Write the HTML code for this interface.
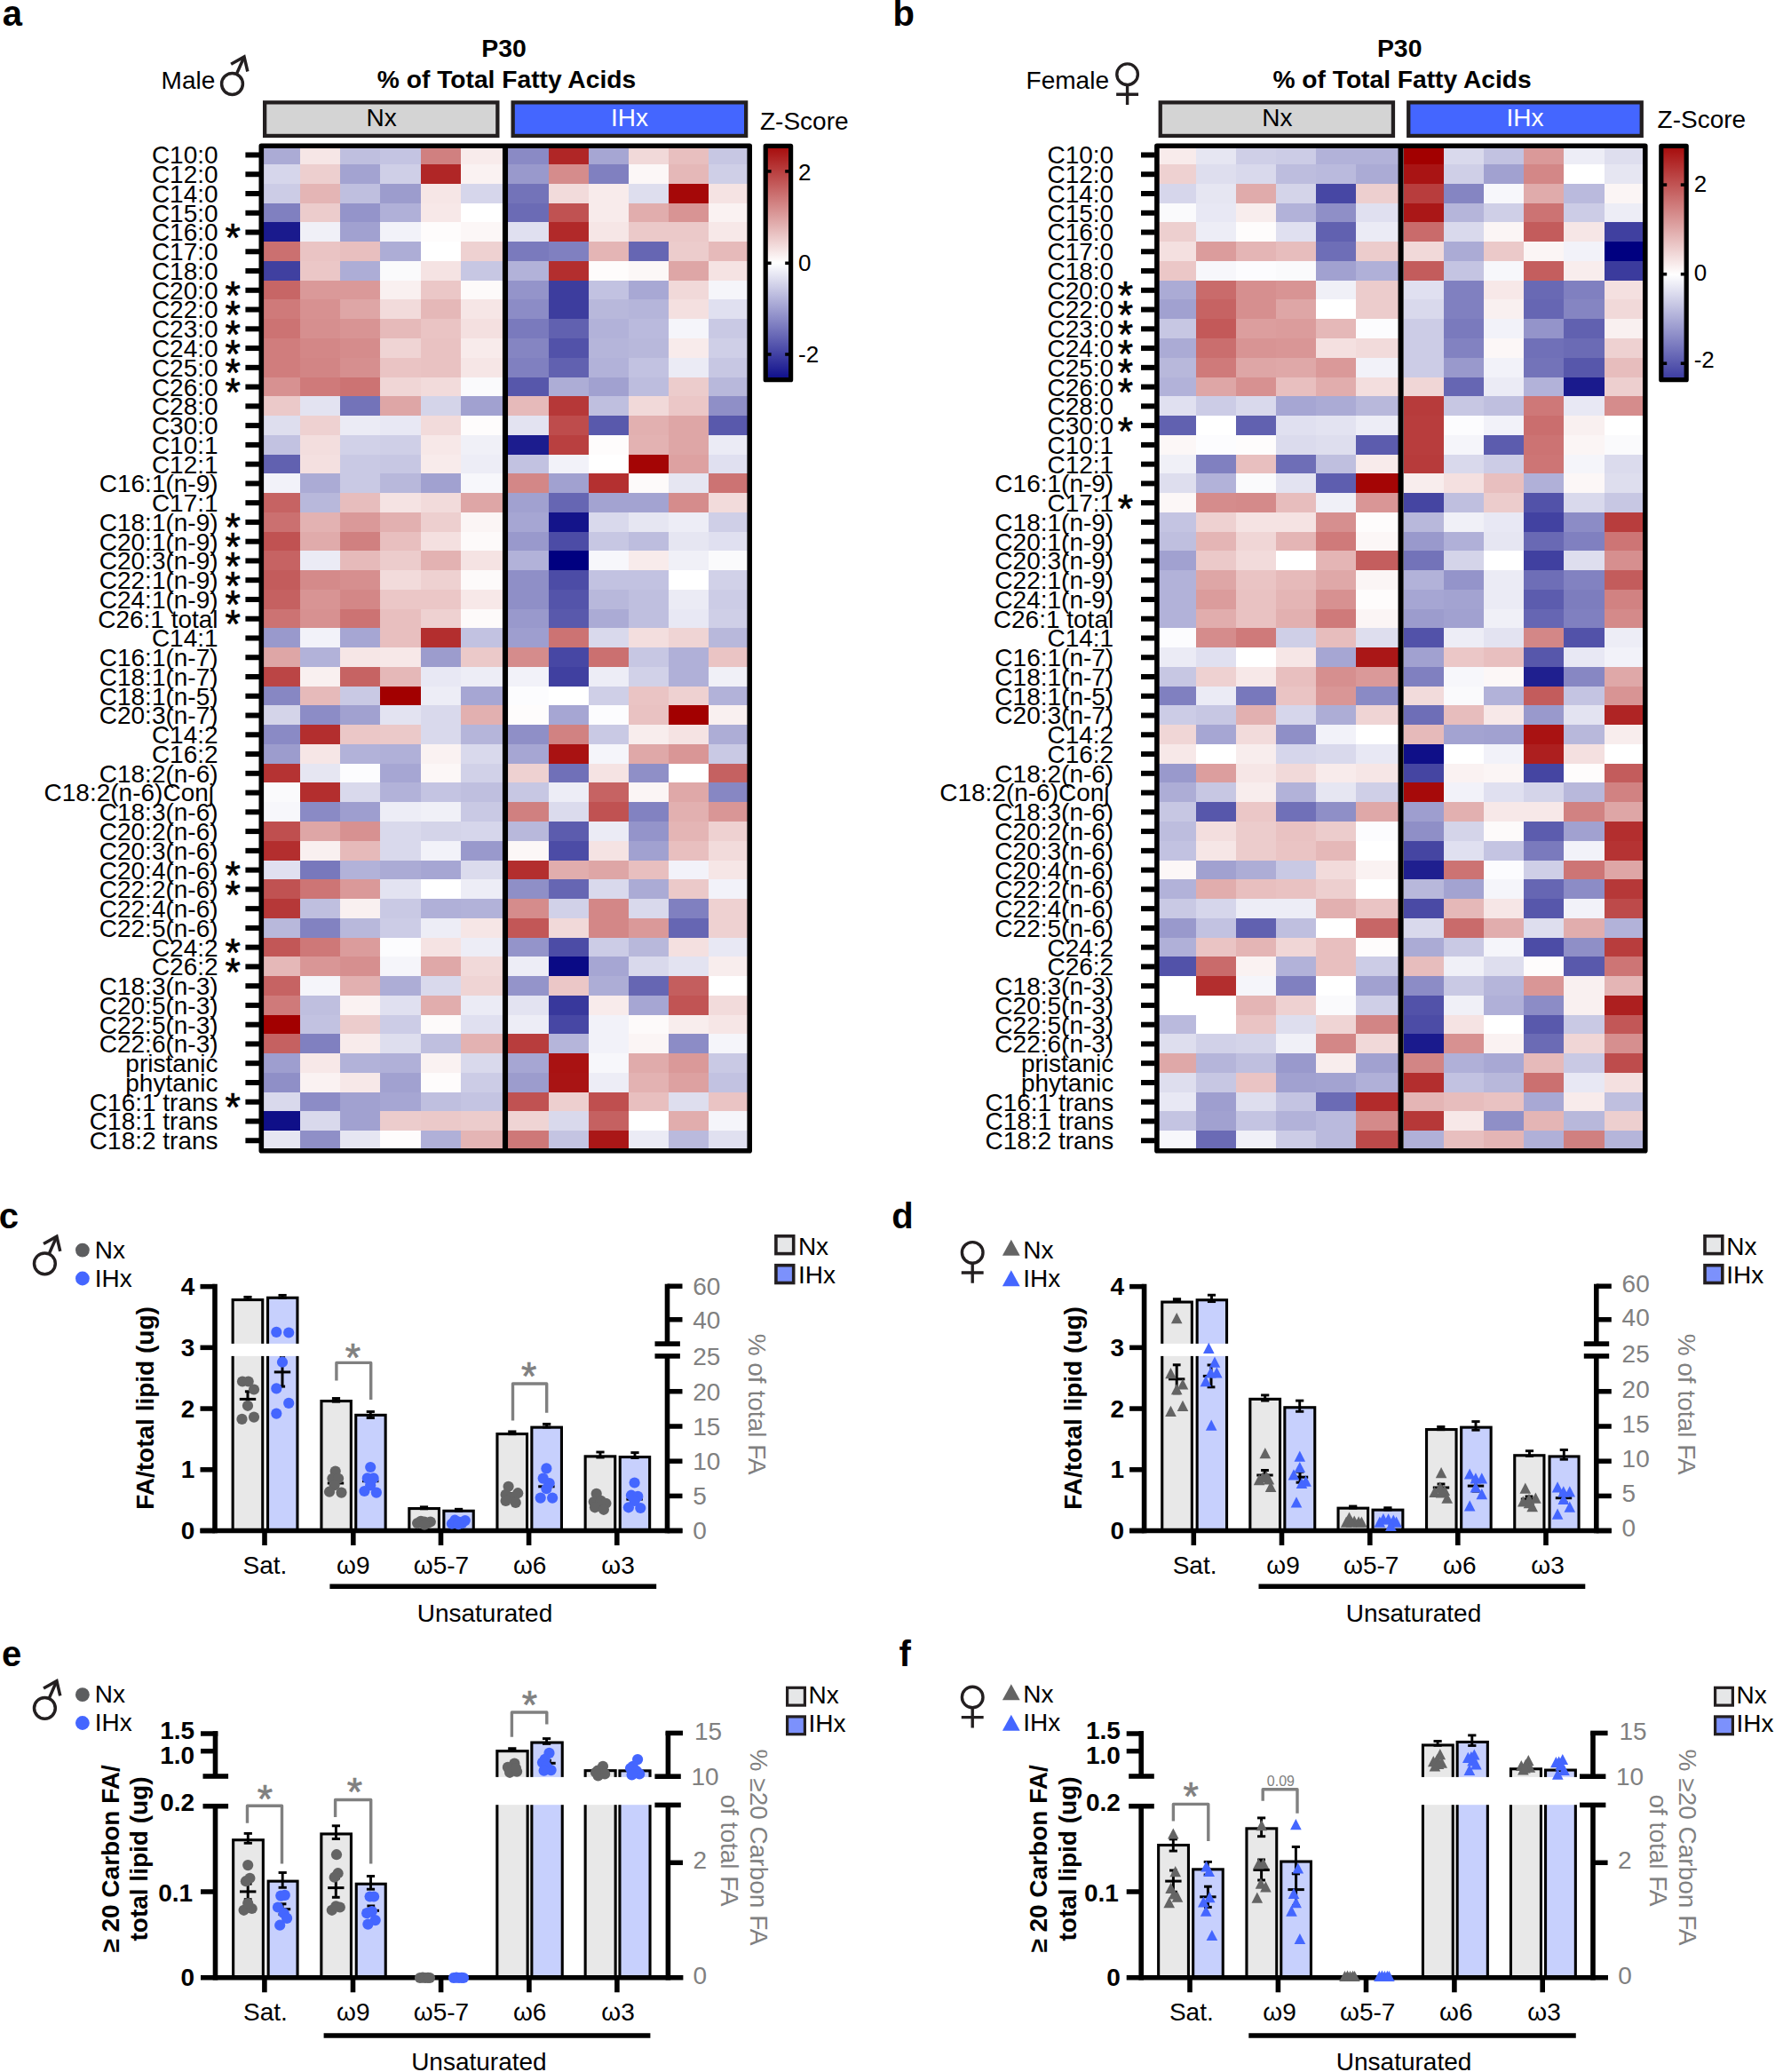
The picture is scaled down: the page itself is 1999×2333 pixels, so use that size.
<!DOCTYPE html><html><head><meta charset="utf-8"><title>figure</title><style>html,body{margin:0;padding:0;background:#fff}svg{display:block}</style></head><body>
<svg width="1999" height="2333" viewBox="0 0 1999 2333" font-family="Liberation Sans, sans-serif">
<rect x="0" y="0" width="1999" height="2333" fill="#fff"/>
<g shape-rendering="crispEdges">
<rect x="292.8" y="163.4" width="45.7" height="22.26" fill="#ababd5"/>
<rect x="338" y="163.4" width="45.7" height="22.26" fill="#f6e6e6"/>
<rect x="383.2" y="163.4" width="45.7" height="22.26" fill="#bfbfdf"/>
<rect x="428.4" y="163.4" width="45.7" height="22.26" fill="#c4c4e2"/>
<rect x="473.6" y="163.4" width="45.7" height="22.26" fill="#d08080"/>
<rect x="518.8" y="163.4" width="48.2" height="22.26" fill="#f8ebeb"/>
<rect x="572.4" y="163.4" width="45.6" height="22.26" fill="#8a8ac5"/>
<rect x="617.5" y="163.4" width="45.6" height="22.26" fill="#b02626"/>
<rect x="662.6" y="163.4" width="45.6" height="22.26" fill="#a6a6d3"/>
<rect x="707.7" y="163.4" width="45.6" height="22.26" fill="#f1d9d9"/>
<rect x="752.8" y="163.4" width="45.6" height="22.26" fill="#e8bfbf"/>
<rect x="797.9" y="163.4" width="45.6" height="22.26" fill="#c7c7e3"/>
<rect x="292.8" y="185.16" width="45.7" height="22.26" fill="#d6d6eb"/>
<rect x="338" y="185.16" width="45.7" height="22.26" fill="#edcfcf"/>
<rect x="383.2" y="185.16" width="45.7" height="22.26" fill="#a3a3d1"/>
<rect x="428.4" y="185.16" width="45.7" height="22.26" fill="#cfcfe7"/>
<rect x="473.6" y="185.16" width="45.7" height="22.26" fill="#b02626"/>
<rect x="518.8" y="185.16" width="48.2" height="22.26" fill="#faf2f2"/>
<rect x="572.4" y="185.16" width="45.6" height="22.26" fill="#9999cc"/>
<rect x="617.5" y="185.16" width="45.6" height="22.26" fill="#d58c8c"/>
<rect x="662.6" y="185.16" width="45.6" height="22.26" fill="#8080c0"/>
<rect x="707.7" y="185.16" width="45.6" height="22.26" fill="#fcf7f7"/>
<rect x="752.8" y="185.16" width="45.6" height="22.26" fill="#e5b8b8"/>
<rect x="797.9" y="185.16" width="45.6" height="22.26" fill="#cfcfe7"/>
<rect x="292.8" y="206.92" width="45.7" height="22.26" fill="#cccce6"/>
<rect x="338" y="206.92" width="45.7" height="22.26" fill="#e4b5b5"/>
<rect x="383.2" y="206.92" width="45.7" height="22.26" fill="#bfbfdf"/>
<rect x="428.4" y="206.92" width="45.7" height="22.26" fill="#9c9ccd"/>
<rect x="473.6" y="206.92" width="45.7" height="22.26" fill="#f6e6e6"/>
<rect x="518.8" y="206.92" width="48.2" height="22.26" fill="#d6d6eb"/>
<rect x="572.4" y="206.92" width="45.6" height="22.26" fill="#7373b9"/>
<rect x="617.5" y="206.92" width="45.6" height="22.26" fill="#f2dbdb"/>
<rect x="662.6" y="206.92" width="45.6" height="22.26" fill="#f8ebeb"/>
<rect x="707.7" y="206.92" width="45.6" height="22.26" fill="#dedeee"/>
<rect x="752.8" y="206.92" width="45.6" height="22.26" fill="#a50808"/>
<rect x="797.9" y="206.92" width="45.6" height="22.26" fill="#f5e3e3"/>
<rect x="292.8" y="228.68" width="45.7" height="22.26" fill="#8080c0"/>
<rect x="338" y="228.68" width="45.7" height="22.26" fill="#eccccc"/>
<rect x="383.2" y="228.68" width="45.7" height="22.26" fill="#9494ca"/>
<rect x="428.4" y="228.68" width="45.7" height="22.26" fill="#b0b0d8"/>
<rect x="473.6" y="228.68" width="45.7" height="22.26" fill="#f7e8e8"/>
<rect x="518.8" y="228.68" width="48.2" height="22.26" fill="#ffffff"/>
<rect x="572.4" y="228.68" width="45.6" height="22.26" fill="#6b6bb5"/>
<rect x="617.5" y="228.68" width="45.6" height="22.26" fill="#c05252"/>
<rect x="662.6" y="228.68" width="45.6" height="22.26" fill="#f8ebeb"/>
<rect x="707.7" y="228.68" width="45.6" height="22.26" fill="#e1adad"/>
<rect x="752.8" y="228.68" width="45.6" height="22.26" fill="#d89494"/>
<rect x="797.9" y="228.68" width="45.6" height="22.26" fill="#faf2f2"/>
<rect x="292.8" y="250.44" width="45.7" height="22.26" fill="#1a1a8d"/>
<rect x="338" y="250.44" width="45.7" height="22.26" fill="#f0f0f7"/>
<rect x="383.2" y="250.44" width="45.7" height="22.26" fill="#a1a1d0"/>
<rect x="428.4" y="250.44" width="45.7" height="22.26" fill="#f2f2f9"/>
<rect x="473.6" y="250.44" width="45.7" height="22.26" fill="#fefcfc"/>
<rect x="518.8" y="250.44" width="48.2" height="22.26" fill="#fcf7f7"/>
<rect x="572.4" y="250.44" width="45.6" height="22.26" fill="#e0e0f0"/>
<rect x="617.5" y="250.44" width="45.6" height="22.26" fill="#b12929"/>
<rect x="662.6" y="250.44" width="45.6" height="22.26" fill="#f6e6e6"/>
<rect x="707.7" y="250.44" width="45.6" height="22.26" fill="#ebc9c9"/>
<rect x="752.8" y="250.44" width="45.6" height="22.26" fill="#ebc9c9"/>
<rect x="797.9" y="250.44" width="45.6" height="22.26" fill="#f7e8e8"/>
<rect x="292.8" y="272.2" width="45.7" height="22.26" fill="#cb7070"/>
<rect x="338" y="272.2" width="45.7" height="22.26" fill="#eac4c4"/>
<rect x="383.2" y="272.2" width="45.7" height="22.26" fill="#e8bfbf"/>
<rect x="428.4" y="272.2" width="45.7" height="22.26" fill="#adadd6"/>
<rect x="473.6" y="272.2" width="45.7" height="22.26" fill="#ffffff"/>
<rect x="518.8" y="272.2" width="48.2" height="22.26" fill="#eed1d1"/>
<rect x="572.4" y="272.2" width="45.6" height="22.26" fill="#7a7abd"/>
<rect x="617.5" y="272.2" width="45.6" height="22.26" fill="#8080c0"/>
<rect x="662.6" y="272.2" width="45.6" height="22.26" fill="#e4b5b5"/>
<rect x="707.7" y="272.2" width="45.6" height="22.26" fill="#6666b3"/>
<rect x="752.8" y="272.2" width="45.6" height="22.26" fill="#eccccc"/>
<rect x="797.9" y="272.2" width="45.6" height="22.26" fill="#e6baba"/>
<rect x="292.8" y="293.96" width="45.7" height="22.26" fill="#4040a0"/>
<rect x="338" y="293.96" width="45.7" height="22.26" fill="#ebc7c7"/>
<rect x="383.2" y="293.96" width="45.7" height="22.26" fill="#adadd6"/>
<rect x="428.4" y="293.96" width="45.7" height="22.26" fill="#fafafc"/>
<rect x="473.6" y="293.96" width="45.7" height="22.26" fill="#f5e3e3"/>
<rect x="518.8" y="293.96" width="48.2" height="22.26" fill="#c7c7e3"/>
<rect x="572.4" y="293.96" width="45.6" height="22.26" fill="#b2b2d9"/>
<rect x="617.5" y="293.96" width="45.6" height="22.26" fill="#b32e2e"/>
<rect x="662.6" y="293.96" width="45.6" height="22.26" fill="#fefcfc"/>
<rect x="707.7" y="293.96" width="45.6" height="22.26" fill="#fcf7f7"/>
<rect x="752.8" y="293.96" width="45.6" height="22.26" fill="#dea6a6"/>
<rect x="797.9" y="293.96" width="45.6" height="22.26" fill="#f5e3e3"/>
<rect x="292.8" y="315.72" width="45.7" height="22.26" fill="#c76666"/>
<rect x="338" y="315.72" width="45.7" height="22.26" fill="#da9999"/>
<rect x="383.2" y="315.72" width="45.7" height="22.26" fill="#da9999"/>
<rect x="428.4" y="315.72" width="45.7" height="22.26" fill="#f9f0f0"/>
<rect x="473.6" y="315.72" width="45.7" height="22.26" fill="#ebc7c7"/>
<rect x="518.8" y="315.72" width="48.2" height="22.26" fill="#fdfafa"/>
<rect x="572.4" y="315.72" width="45.6" height="22.26" fill="#9494ca"/>
<rect x="617.5" y="315.72" width="45.6" height="22.26" fill="#3d3d9e"/>
<rect x="662.6" y="315.72" width="45.6" height="22.26" fill="#c2c2e1"/>
<rect x="707.7" y="315.72" width="45.6" height="22.26" fill="#a8a8d4"/>
<rect x="752.8" y="315.72" width="45.6" height="22.26" fill="#f1d9d9"/>
<rect x="797.9" y="315.72" width="45.6" height="22.26" fill="#f5f5fa"/>
<rect x="292.8" y="337.48" width="45.7" height="22.26" fill="#cf7a7a"/>
<rect x="338" y="337.48" width="45.7" height="22.26" fill="#d79191"/>
<rect x="383.2" y="337.48" width="45.7" height="22.26" fill="#dea6a6"/>
<rect x="428.4" y="337.48" width="45.7" height="22.26" fill="#f2dbdb"/>
<rect x="473.6" y="337.48" width="45.7" height="22.26" fill="#e5b8b8"/>
<rect x="518.8" y="337.48" width="48.2" height="22.26" fill="#f6e6e6"/>
<rect x="572.4" y="337.48" width="45.6" height="22.26" fill="#8c8cc6"/>
<rect x="617.5" y="337.48" width="45.6" height="22.26" fill="#3d3d9e"/>
<rect x="662.6" y="337.48" width="45.6" height="22.26" fill="#b8b8db"/>
<rect x="707.7" y="337.48" width="45.6" height="22.26" fill="#b5b5da"/>
<rect x="752.8" y="337.48" width="45.6" height="22.26" fill="#f4e0e0"/>
<rect x="797.9" y="337.48" width="45.6" height="22.26" fill="#e0e0f0"/>
<rect x="292.8" y="359.24" width="45.7" height="22.26" fill="#cc7373"/>
<rect x="338" y="359.24" width="45.7" height="22.26" fill="#d68f8f"/>
<rect x="383.2" y="359.24" width="45.7" height="22.26" fill="#d89494"/>
<rect x="428.4" y="359.24" width="45.7" height="22.26" fill="#e6baba"/>
<rect x="473.6" y="359.24" width="45.7" height="22.26" fill="#eac4c4"/>
<rect x="518.8" y="359.24" width="48.2" height="22.26" fill="#f4e0e0"/>
<rect x="572.4" y="359.24" width="45.6" height="22.26" fill="#7a7abd"/>
<rect x="617.5" y="359.24" width="45.6" height="22.26" fill="#6161b0"/>
<rect x="662.6" y="359.24" width="45.6" height="22.26" fill="#b2b2d9"/>
<rect x="707.7" y="359.24" width="45.6" height="22.26" fill="#babadd"/>
<rect x="752.8" y="359.24" width="45.6" height="22.26" fill="#f5f5fa"/>
<rect x="797.9" y="359.24" width="45.6" height="22.26" fill="#c9c9e4"/>
<rect x="292.8" y="381" width="45.7" height="22.26" fill="#d07d7d"/>
<rect x="338" y="381" width="45.7" height="22.26" fill="#d38787"/>
<rect x="383.2" y="381" width="45.7" height="22.26" fill="#d58c8c"/>
<rect x="428.4" y="381" width="45.7" height="22.26" fill="#efd4d4"/>
<rect x="473.6" y="381" width="45.7" height="22.26" fill="#e9c2c2"/>
<rect x="518.8" y="381" width="48.2" height="22.26" fill="#f8ebeb"/>
<rect x="572.4" y="381" width="45.6" height="22.26" fill="#8585c2"/>
<rect x="617.5" y="381" width="45.6" height="22.26" fill="#5252a9"/>
<rect x="662.6" y="381" width="45.6" height="22.26" fill="#b5b5da"/>
<rect x="707.7" y="381" width="45.6" height="22.26" fill="#b8b8db"/>
<rect x="752.8" y="381" width="45.6" height="22.26" fill="#f8ebeb"/>
<rect x="797.9" y="381" width="45.6" height="22.26" fill="#cfcfe7"/>
<rect x="292.8" y="402.76" width="45.7" height="22.26" fill="#d07d7d"/>
<rect x="338" y="402.76" width="45.7" height="22.26" fill="#d28585"/>
<rect x="383.2" y="402.76" width="45.7" height="22.26" fill="#d68f8f"/>
<rect x="428.4" y="402.76" width="45.7" height="22.26" fill="#eac4c4"/>
<rect x="473.6" y="402.76" width="45.7" height="22.26" fill="#e9c2c2"/>
<rect x="518.8" y="402.76" width="48.2" height="22.26" fill="#f6e6e6"/>
<rect x="572.4" y="402.76" width="45.6" height="22.26" fill="#8080c0"/>
<rect x="617.5" y="402.76" width="45.6" height="22.26" fill="#6161b0"/>
<rect x="662.6" y="402.76" width="45.6" height="22.26" fill="#b2b2d9"/>
<rect x="707.7" y="402.76" width="45.6" height="22.26" fill="#c2c2e1"/>
<rect x="752.8" y="402.76" width="45.6" height="22.26" fill="#ebebf5"/>
<rect x="797.9" y="402.76" width="45.6" height="22.26" fill="#c7c7e3"/>
<rect x="292.8" y="424.52" width="45.7" height="22.26" fill="#d79191"/>
<rect x="338" y="424.52" width="45.7" height="22.26" fill="#cf7a7a"/>
<rect x="383.2" y="424.52" width="45.7" height="22.26" fill="#cc7373"/>
<rect x="428.4" y="424.52" width="45.7" height="22.26" fill="#f0d6d6"/>
<rect x="473.6" y="424.52" width="45.7" height="22.26" fill="#f2dbdb"/>
<rect x="518.8" y="424.52" width="48.2" height="22.26" fill="#fafafc"/>
<rect x="572.4" y="424.52" width="45.6" height="22.26" fill="#5757ab"/>
<rect x="617.5" y="424.52" width="45.6" height="22.26" fill="#adadd6"/>
<rect x="662.6" y="424.52" width="45.6" height="22.26" fill="#a1a1d0"/>
<rect x="707.7" y="424.52" width="45.6" height="22.26" fill="#bdbdde"/>
<rect x="752.8" y="424.52" width="45.6" height="22.26" fill="#eccccc"/>
<rect x="797.9" y="424.52" width="45.6" height="22.26" fill="#b8b8db"/>
<rect x="292.8" y="446.28" width="45.7" height="22.26" fill="#ebc9c9"/>
<rect x="338" y="446.28" width="45.7" height="22.26" fill="#e3e3f1"/>
<rect x="383.2" y="446.28" width="45.7" height="22.26" fill="#7373b9"/>
<rect x="428.4" y="446.28" width="45.7" height="22.26" fill="#dea6a6"/>
<rect x="473.6" y="446.28" width="45.7" height="22.26" fill="#d4d4e9"/>
<rect x="518.8" y="446.28" width="48.2" height="22.26" fill="#a1a1d0"/>
<rect x="572.4" y="446.28" width="45.6" height="22.26" fill="#e6baba"/>
<rect x="617.5" y="446.28" width="45.6" height="22.26" fill="#b63838"/>
<rect x="662.6" y="446.28" width="45.6" height="22.26" fill="#bfbfdf"/>
<rect x="707.7" y="446.28" width="45.6" height="22.26" fill="#f1d9d9"/>
<rect x="752.8" y="446.28" width="45.6" height="22.26" fill="#ebc7c7"/>
<rect x="797.9" y="446.28" width="45.6" height="22.26" fill="#8f8fc7"/>
<rect x="292.8" y="468.04" width="45.7" height="22.26" fill="#dedeee"/>
<rect x="338" y="468.04" width="45.7" height="22.26" fill="#eed1d1"/>
<rect x="383.2" y="468.04" width="45.7" height="22.26" fill="#ebebf5"/>
<rect x="428.4" y="468.04" width="45.7" height="22.26" fill="#e8e8f4"/>
<rect x="473.6" y="468.04" width="45.7" height="22.26" fill="#f2dbdb"/>
<rect x="518.8" y="468.04" width="48.2" height="22.26" fill="#fefcfc"/>
<rect x="572.4" y="468.04" width="45.6" height="22.26" fill="#e3e3f1"/>
<rect x="617.5" y="468.04" width="45.6" height="22.26" fill="#be4c4c"/>
<rect x="662.6" y="468.04" width="45.6" height="22.26" fill="#5959ac"/>
<rect x="707.7" y="468.04" width="45.6" height="22.26" fill="#e2b0b0"/>
<rect x="752.8" y="468.04" width="45.6" height="22.26" fill="#dea6a6"/>
<rect x="797.9" y="468.04" width="45.6" height="22.26" fill="#5959ac"/>
<rect x="292.8" y="489.8" width="45.7" height="22.26" fill="#c2c2e1"/>
<rect x="338" y="489.8" width="45.7" height="22.26" fill="#f3dede"/>
<rect x="383.2" y="489.8" width="45.7" height="22.26" fill="#d1d1e8"/>
<rect x="428.4" y="489.8" width="45.7" height="22.26" fill="#cfcfe7"/>
<rect x="473.6" y="489.8" width="45.7" height="22.26" fill="#f7e8e8"/>
<rect x="518.8" y="489.8" width="48.2" height="22.26" fill="#f0f0f7"/>
<rect x="572.4" y="489.8" width="45.6" height="22.26" fill="#1c1c8e"/>
<rect x="617.5" y="489.8" width="45.6" height="22.26" fill="#b94040"/>
<rect x="662.6" y="489.8" width="45.6" height="22.26" fill="#fefcfc"/>
<rect x="707.7" y="489.8" width="45.6" height="22.26" fill="#e3b2b2"/>
<rect x="752.8" y="489.8" width="45.6" height="22.26" fill="#dea6a6"/>
<rect x="797.9" y="489.8" width="45.6" height="22.26" fill="#ebebf5"/>
<rect x="292.8" y="511.56" width="45.7" height="22.26" fill="#6161b0"/>
<rect x="338" y="511.56" width="45.7" height="22.26" fill="#f4e0e0"/>
<rect x="383.2" y="511.56" width="45.7" height="22.26" fill="#c9c9e4"/>
<rect x="428.4" y="511.56" width="45.7" height="22.26" fill="#c7c7e3"/>
<rect x="473.6" y="511.56" width="45.7" height="22.26" fill="#f8ebeb"/>
<rect x="518.8" y="511.56" width="48.2" height="22.26" fill="#ededf6"/>
<rect x="572.4" y="511.56" width="45.6" height="22.26" fill="#c2c2e1"/>
<rect x="617.5" y="511.56" width="45.6" height="22.26" fill="#f2f2f9"/>
<rect x="662.6" y="511.56" width="45.6" height="22.26" fill="#ffffff"/>
<rect x="707.7" y="511.56" width="45.6" height="22.26" fill="#a40505"/>
<rect x="752.8" y="511.56" width="45.6" height="22.26" fill="#dda1a1"/>
<rect x="797.9" y="511.56" width="45.6" height="22.26" fill="#e0e0f0"/>
<rect x="292.8" y="533.32" width="45.7" height="22.26" fill="#f2f2f9"/>
<rect x="338" y="533.32" width="45.7" height="22.26" fill="#ababd5"/>
<rect x="383.2" y="533.32" width="45.7" height="22.26" fill="#c9c9e4"/>
<rect x="428.4" y="533.32" width="45.7" height="22.26" fill="#b8b8db"/>
<rect x="473.6" y="533.32" width="45.7" height="22.26" fill="#a1a1d0"/>
<rect x="518.8" y="533.32" width="48.2" height="22.26" fill="#f7f7fb"/>
<rect x="572.4" y="533.32" width="45.6" height="22.26" fill="#d38787"/>
<rect x="617.5" y="533.32" width="45.6" height="22.26" fill="#a1a1d0"/>
<rect x="662.6" y="533.32" width="45.6" height="22.26" fill="#b43030"/>
<rect x="707.7" y="533.32" width="45.6" height="22.26" fill="#fdfafa"/>
<rect x="752.8" y="533.32" width="45.6" height="22.26" fill="#e6e6f2"/>
<rect x="797.9" y="533.32" width="45.6" height="22.26" fill="#cc7373"/>
<rect x="292.8" y="555.08" width="45.7" height="22.26" fill="#c66363"/>
<rect x="338" y="555.08" width="45.7" height="22.26" fill="#b8b8db"/>
<rect x="383.2" y="555.08" width="45.7" height="22.26" fill="#e7bdbd"/>
<rect x="428.4" y="555.08" width="45.7" height="22.26" fill="#f5e3e3"/>
<rect x="473.6" y="555.08" width="45.7" height="22.26" fill="#f2dbdb"/>
<rect x="518.8" y="555.08" width="48.2" height="22.26" fill="#dea6a6"/>
<rect x="572.4" y="555.08" width="45.6" height="22.26" fill="#a1a1d0"/>
<rect x="617.5" y="555.08" width="45.6" height="22.26" fill="#6666b3"/>
<rect x="662.6" y="555.08" width="45.6" height="22.26" fill="#a3a3d1"/>
<rect x="707.7" y="555.08" width="45.6" height="22.26" fill="#a3a3d1"/>
<rect x="752.8" y="555.08" width="45.6" height="22.26" fill="#d58c8c"/>
<rect x="797.9" y="555.08" width="45.6" height="22.26" fill="#f2dbdb"/>
<rect x="292.8" y="576.84" width="45.7" height="22.26" fill="#cb7070"/>
<rect x="338" y="576.84" width="45.7" height="22.26" fill="#e3b2b2"/>
<rect x="383.2" y="576.84" width="45.7" height="22.26" fill="#da9999"/>
<rect x="428.4" y="576.84" width="45.7" height="22.26" fill="#e2b0b0"/>
<rect x="473.6" y="576.84" width="45.7" height="22.26" fill="#edcfcf"/>
<rect x="518.8" y="576.84" width="48.2" height="22.26" fill="#fbf5f5"/>
<rect x="572.4" y="576.84" width="45.6" height="22.26" fill="#a6a6d3"/>
<rect x="617.5" y="576.84" width="45.6" height="22.26" fill="#14148a"/>
<rect x="662.6" y="576.84" width="45.6" height="22.26" fill="#d9d9ec"/>
<rect x="707.7" y="576.84" width="45.6" height="22.26" fill="#e6e6f2"/>
<rect x="752.8" y="576.84" width="45.6" height="22.26" fill="#ededf6"/>
<rect x="797.9" y="576.84" width="45.6" height="22.26" fill="#cfcfe7"/>
<rect x="292.8" y="598.6" width="45.7" height="22.26" fill="#c05252"/>
<rect x="338" y="598.6" width="45.7" height="22.26" fill="#e0abab"/>
<rect x="383.2" y="598.6" width="45.7" height="22.26" fill="#d08080"/>
<rect x="428.4" y="598.6" width="45.7" height="22.26" fill="#e8bfbf"/>
<rect x="473.6" y="598.6" width="45.7" height="22.26" fill="#f4e0e0"/>
<rect x="518.8" y="598.6" width="48.2" height="22.26" fill="#fdfafa"/>
<rect x="572.4" y="598.6" width="45.6" height="22.26" fill="#9999cc"/>
<rect x="617.5" y="598.6" width="45.6" height="22.26" fill="#4c4ca6"/>
<rect x="662.6" y="598.6" width="45.6" height="22.26" fill="#c7c7e3"/>
<rect x="707.7" y="598.6" width="45.6" height="22.26" fill="#bdbdde"/>
<rect x="752.8" y="598.6" width="45.6" height="22.26" fill="#e6e6f2"/>
<rect x="797.9" y="598.6" width="45.6" height="22.26" fill="#e0e0f0"/>
<rect x="292.8" y="620.36" width="45.7" height="22.26" fill="#c66363"/>
<rect x="338" y="620.36" width="45.7" height="22.26" fill="#ebebf5"/>
<rect x="383.2" y="620.36" width="45.7" height="22.26" fill="#e6baba"/>
<rect x="428.4" y="620.36" width="45.7" height="22.26" fill="#eccccc"/>
<rect x="473.6" y="620.36" width="45.7" height="22.26" fill="#e3b2b2"/>
<rect x="518.8" y="620.36" width="48.2" height="22.26" fill="#f5e3e3"/>
<rect x="572.4" y="620.36" width="45.6" height="22.26" fill="#b2b2d9"/>
<rect x="617.5" y="620.36" width="45.6" height="22.26" fill="#000080"/>
<rect x="662.6" y="620.36" width="45.6" height="22.26" fill="#f7f7fb"/>
<rect x="707.7" y="620.36" width="45.6" height="22.26" fill="#f8ebeb"/>
<rect x="752.8" y="620.36" width="45.6" height="22.26" fill="#f0f0f7"/>
<rect x="797.9" y="620.36" width="45.6" height="22.26" fill="#fafafc"/>
<rect x="292.8" y="642.12" width="45.7" height="22.26" fill="#c35c5c"/>
<rect x="338" y="642.12" width="45.7" height="22.26" fill="#d48a8a"/>
<rect x="383.2" y="642.12" width="45.7" height="22.26" fill="#d68f8f"/>
<rect x="428.4" y="642.12" width="45.7" height="22.26" fill="#f2dbdb"/>
<rect x="473.6" y="642.12" width="45.7" height="22.26" fill="#eed1d1"/>
<rect x="518.8" y="642.12" width="48.2" height="22.26" fill="#fdfafa"/>
<rect x="572.4" y="642.12" width="45.6" height="22.26" fill="#8f8fc7"/>
<rect x="617.5" y="642.12" width="45.6" height="22.26" fill="#4c4ca6"/>
<rect x="662.6" y="642.12" width="45.6" height="22.26" fill="#c2c2e1"/>
<rect x="707.7" y="642.12" width="45.6" height="22.26" fill="#c2c2e1"/>
<rect x="752.8" y="642.12" width="45.6" height="22.26" fill="#ffffff"/>
<rect x="797.9" y="642.12" width="45.6" height="22.26" fill="#d1d1e8"/>
<rect x="292.8" y="663.88" width="45.7" height="22.26" fill="#c56161"/>
<rect x="338" y="663.88" width="45.7" height="22.26" fill="#d89494"/>
<rect x="383.2" y="663.88" width="45.7" height="22.26" fill="#d38787"/>
<rect x="428.4" y="663.88" width="45.7" height="22.26" fill="#ebc7c7"/>
<rect x="473.6" y="663.88" width="45.7" height="22.26" fill="#ebc7c7"/>
<rect x="518.8" y="663.88" width="48.2" height="22.26" fill="#f7e8e8"/>
<rect x="572.4" y="663.88" width="45.6" height="22.26" fill="#8f8fc7"/>
<rect x="617.5" y="663.88" width="45.6" height="22.26" fill="#5454aa"/>
<rect x="662.6" y="663.88" width="45.6" height="22.26" fill="#b8b8db"/>
<rect x="707.7" y="663.88" width="45.6" height="22.26" fill="#bfbfdf"/>
<rect x="752.8" y="663.88" width="45.6" height="22.26" fill="#ebebf5"/>
<rect x="797.9" y="663.88" width="45.6" height="22.26" fill="#cccce6"/>
<rect x="292.8" y="685.64" width="45.7" height="22.26" fill="#cc7373"/>
<rect x="338" y="685.64" width="45.7" height="22.26" fill="#d79191"/>
<rect x="383.2" y="685.64" width="45.7" height="22.26" fill="#cc7373"/>
<rect x="428.4" y="685.64" width="45.7" height="22.26" fill="#e8bfbf"/>
<rect x="473.6" y="685.64" width="45.7" height="22.26" fill="#eed1d1"/>
<rect x="518.8" y="685.64" width="48.2" height="22.26" fill="#fdfafa"/>
<rect x="572.4" y="685.64" width="45.6" height="22.26" fill="#9999cc"/>
<rect x="617.5" y="685.64" width="45.6" height="22.26" fill="#5959ac"/>
<rect x="662.6" y="685.64" width="45.6" height="22.26" fill="#ababd5"/>
<rect x="707.7" y="685.64" width="45.6" height="22.26" fill="#bfbfdf"/>
<rect x="752.8" y="685.64" width="45.6" height="22.26" fill="#e8e8f4"/>
<rect x="797.9" y="685.64" width="45.6" height="22.26" fill="#cfcfe7"/>
<rect x="292.8" y="707.4" width="45.7" height="22.26" fill="#9999cc"/>
<rect x="338" y="707.4" width="45.7" height="22.26" fill="#f2f2f9"/>
<rect x="383.2" y="707.4" width="45.7" height="22.26" fill="#a6a6d3"/>
<rect x="428.4" y="707.4" width="45.7" height="22.26" fill="#e8bfbf"/>
<rect x="473.6" y="707.4" width="45.7" height="22.26" fill="#b32e2e"/>
<rect x="518.8" y="707.4" width="48.2" height="22.26" fill="#c2c2e1"/>
<rect x="572.4" y="707.4" width="45.6" height="22.26" fill="#9e9ecf"/>
<rect x="617.5" y="707.4" width="45.6" height="22.26" fill="#cc7373"/>
<rect x="662.6" y="707.4" width="45.6" height="22.26" fill="#d9d9ec"/>
<rect x="707.7" y="707.4" width="45.6" height="22.26" fill="#f3dede"/>
<rect x="752.8" y="707.4" width="45.6" height="22.26" fill="#efd4d4"/>
<rect x="797.9" y="707.4" width="45.6" height="22.26" fill="#b8b8db"/>
<rect x="292.8" y="729.16" width="45.7" height="22.26" fill="#dea6a6"/>
<rect x="338" y="729.16" width="45.7" height="22.26" fill="#b2b2d9"/>
<rect x="383.2" y="729.16" width="45.7" height="22.26" fill="#f6e6e6"/>
<rect x="428.4" y="729.16" width="45.7" height="22.26" fill="#f7e8e8"/>
<rect x="473.6" y="729.16" width="45.7" height="22.26" fill="#9c9ccd"/>
<rect x="518.8" y="729.16" width="48.2" height="22.26" fill="#ebc9c9"/>
<rect x="572.4" y="729.16" width="45.6" height="22.26" fill="#d58c8c"/>
<rect x="617.5" y="729.16" width="45.6" height="22.26" fill="#4747a4"/>
<rect x="662.6" y="729.16" width="45.6" height="22.26" fill="#cb7070"/>
<rect x="707.7" y="729.16" width="45.6" height="22.26" fill="#c7c7e3"/>
<rect x="752.8" y="729.16" width="45.6" height="22.26" fill="#b0b0d8"/>
<rect x="797.9" y="729.16" width="45.6" height="22.26" fill="#eac4c4"/>
<rect x="292.8" y="750.92" width="45.7" height="22.26" fill="#bb4545"/>
<rect x="338" y="750.92" width="45.7" height="22.26" fill="#f9f0f0"/>
<rect x="383.2" y="750.92" width="45.7" height="22.26" fill="#c66363"/>
<rect x="428.4" y="750.92" width="45.7" height="22.26" fill="#e5b8b8"/>
<rect x="473.6" y="750.92" width="45.7" height="22.26" fill="#e8e8f4"/>
<rect x="518.8" y="750.92" width="48.2" height="22.26" fill="#ededf6"/>
<rect x="572.4" y="750.92" width="45.6" height="22.26" fill="#f2f2f9"/>
<rect x="617.5" y="750.92" width="45.6" height="22.26" fill="#4040a0"/>
<rect x="662.6" y="750.92" width="45.6" height="22.26" fill="#ededf6"/>
<rect x="707.7" y="750.92" width="45.6" height="22.26" fill="#d1d1e8"/>
<rect x="752.8" y="750.92" width="45.6" height="22.26" fill="#b0b0d8"/>
<rect x="797.9" y="750.92" width="45.6" height="22.26" fill="#f0f0f7"/>
<rect x="292.8" y="772.68" width="45.7" height="22.26" fill="#8787c3"/>
<rect x="338" y="772.68" width="45.7" height="22.26" fill="#e6baba"/>
<rect x="383.2" y="772.68" width="45.7" height="22.26" fill="#c9c9e4"/>
<rect x="428.4" y="772.68" width="45.7" height="22.26" fill="#a20000"/>
<rect x="473.6" y="772.68" width="45.7" height="22.26" fill="#ededf6"/>
<rect x="518.8" y="772.68" width="48.2" height="22.26" fill="#a6a6d3"/>
<rect x="572.4" y="772.68" width="45.6" height="22.26" fill="#fcfcfe"/>
<rect x="617.5" y="772.68" width="45.6" height="22.26" fill="#ffffff"/>
<rect x="662.6" y="772.68" width="45.6" height="22.26" fill="#cfcfe7"/>
<rect x="707.7" y="772.68" width="45.6" height="22.26" fill="#eac4c4"/>
<rect x="752.8" y="772.68" width="45.6" height="22.26" fill="#eed1d1"/>
<rect x="797.9" y="772.68" width="45.6" height="22.26" fill="#b2b2d9"/>
<rect x="292.8" y="794.44" width="45.7" height="22.26" fill="#d4d4e9"/>
<rect x="338" y="794.44" width="45.7" height="22.26" fill="#8c8cc6"/>
<rect x="383.2" y="794.44" width="45.7" height="22.26" fill="#a1a1d0"/>
<rect x="428.4" y="794.44" width="45.7" height="22.26" fill="#e3e3f1"/>
<rect x="473.6" y="794.44" width="45.7" height="22.26" fill="#d9d9ec"/>
<rect x="518.8" y="794.44" width="48.2" height="22.26" fill="#e2b0b0"/>
<rect x="572.4" y="794.44" width="45.6" height="22.26" fill="#fefcfc"/>
<rect x="617.5" y="794.44" width="45.6" height="22.26" fill="#a6a6d3"/>
<rect x="662.6" y="794.44" width="45.6" height="22.26" fill="#fcfcfe"/>
<rect x="707.7" y="794.44" width="45.6" height="22.26" fill="#e9c2c2"/>
<rect x="752.8" y="794.44" width="45.6" height="22.26" fill="#a20000"/>
<rect x="797.9" y="794.44" width="45.6" height="22.26" fill="#f9f0f0"/>
<rect x="292.8" y="816.2" width="45.7" height="22.26" fill="#8a8ac5"/>
<rect x="338" y="816.2" width="45.7" height="22.26" fill="#b32e2e"/>
<rect x="383.2" y="816.2" width="45.7" height="22.26" fill="#ebc7c7"/>
<rect x="428.4" y="816.2" width="45.7" height="22.26" fill="#ebc9c9"/>
<rect x="473.6" y="816.2" width="45.7" height="22.26" fill="#d9d9ec"/>
<rect x="518.8" y="816.2" width="48.2" height="22.26" fill="#b5b5da"/>
<rect x="572.4" y="816.2" width="45.6" height="22.26" fill="#8f8fc7"/>
<rect x="617.5" y="816.2" width="45.6" height="22.26" fill="#d18282"/>
<rect x="662.6" y="816.2" width="45.6" height="22.26" fill="#c9c9e4"/>
<rect x="707.7" y="816.2" width="45.6" height="22.26" fill="#f8eded"/>
<rect x="752.8" y="816.2" width="45.6" height="22.26" fill="#f5e3e3"/>
<rect x="797.9" y="816.2" width="45.6" height="22.26" fill="#adadd6"/>
<rect x="292.8" y="837.96" width="45.7" height="22.26" fill="#9c9ccd"/>
<rect x="338" y="837.96" width="45.7" height="22.26" fill="#f6e6e6"/>
<rect x="383.2" y="837.96" width="45.7" height="22.26" fill="#b2b2d9"/>
<rect x="428.4" y="837.96" width="45.7" height="22.26" fill="#b0b0d8"/>
<rect x="473.6" y="837.96" width="45.7" height="22.26" fill="#faf2f2"/>
<rect x="518.8" y="837.96" width="48.2" height="22.26" fill="#d9d9ec"/>
<rect x="572.4" y="837.96" width="45.6" height="22.26" fill="#a6a6d3"/>
<rect x="617.5" y="837.96" width="45.6" height="22.26" fill="#a91212"/>
<rect x="662.6" y="837.96" width="45.6" height="22.26" fill="#f5f5fa"/>
<rect x="707.7" y="837.96" width="45.6" height="22.26" fill="#dfa8a8"/>
<rect x="752.8" y="837.96" width="45.6" height="22.26" fill="#d99696"/>
<rect x="797.9" y="837.96" width="45.6" height="22.26" fill="#c9c9e4"/>
<rect x="292.8" y="859.72" width="45.7" height="22.26" fill="#b53333"/>
<rect x="338" y="859.72" width="45.7" height="22.26" fill="#e6e6f2"/>
<rect x="383.2" y="859.72" width="45.7" height="22.26" fill="#fcfcfe"/>
<rect x="428.4" y="859.72" width="45.7" height="22.26" fill="#a6a6d3"/>
<rect x="473.6" y="859.72" width="45.7" height="22.26" fill="#fcf7f7"/>
<rect x="518.8" y="859.72" width="48.2" height="22.26" fill="#d1d1e8"/>
<rect x="572.4" y="859.72" width="45.6" height="22.26" fill="#eed1d1"/>
<rect x="617.5" y="859.72" width="45.6" height="22.26" fill="#7070b8"/>
<rect x="662.6" y="859.72" width="45.6" height="22.26" fill="#f5e3e3"/>
<rect x="707.7" y="859.72" width="45.6" height="22.26" fill="#8f8fc7"/>
<rect x="752.8" y="859.72" width="45.6" height="22.26" fill="#ffffff"/>
<rect x="797.9" y="859.72" width="45.6" height="22.26" fill="#c56161"/>
<rect x="292.8" y="881.48" width="45.7" height="22.26" fill="#fafafc"/>
<rect x="338" y="881.48" width="45.7" height="22.26" fill="#b32e2e"/>
<rect x="383.2" y="881.48" width="45.7" height="22.26" fill="#d9d9ec"/>
<rect x="428.4" y="881.48" width="45.7" height="22.26" fill="#b2b2d9"/>
<rect x="473.6" y="881.48" width="45.7" height="22.26" fill="#c4c4e2"/>
<rect x="518.8" y="881.48" width="48.2" height="22.26" fill="#bfbfdf"/>
<rect x="572.4" y="881.48" width="45.6" height="22.26" fill="#c7c7e3"/>
<rect x="617.5" y="881.48" width="45.6" height="22.26" fill="#ededf6"/>
<rect x="662.6" y="881.48" width="45.6" height="22.26" fill="#c66363"/>
<rect x="707.7" y="881.48" width="45.6" height="22.26" fill="#fbf5f5"/>
<rect x="752.8" y="881.48" width="45.6" height="22.26" fill="#dfa8a8"/>
<rect x="797.9" y="881.48" width="45.6" height="22.26" fill="#8787c3"/>
<rect x="292.8" y="903.24" width="45.7" height="22.26" fill="#f7f7fb"/>
<rect x="338" y="903.24" width="45.7" height="22.26" fill="#8a8ac5"/>
<rect x="383.2" y="903.24" width="45.7" height="22.26" fill="#9e9ecf"/>
<rect x="428.4" y="903.24" width="45.7" height="22.26" fill="#ededf6"/>
<rect x="473.6" y="903.24" width="45.7" height="22.26" fill="#f0f0f7"/>
<rect x="518.8" y="903.24" width="48.2" height="22.26" fill="#c9c9e4"/>
<rect x="572.4" y="903.24" width="45.6" height="22.26" fill="#d08080"/>
<rect x="617.5" y="903.24" width="45.6" height="22.26" fill="#dbdbed"/>
<rect x="662.6" y="903.24" width="45.6" height="22.26" fill="#c05252"/>
<rect x="707.7" y="903.24" width="45.6" height="22.26" fill="#8282c1"/>
<rect x="752.8" y="903.24" width="45.6" height="22.26" fill="#e2b0b0"/>
<rect x="797.9" y="903.24" width="45.6" height="22.26" fill="#d99696"/>
<rect x="292.8" y="925" width="45.7" height="22.26" fill="#bf4f4f"/>
<rect x="338" y="925" width="45.7" height="22.26" fill="#dea6a6"/>
<rect x="383.2" y="925" width="45.7" height="22.26" fill="#d79191"/>
<rect x="428.4" y="925" width="45.7" height="22.26" fill="#d9d9ec"/>
<rect x="473.6" y="925" width="45.7" height="22.26" fill="#d4d4e9"/>
<rect x="518.8" y="925" width="48.2" height="22.26" fill="#d6d6eb"/>
<rect x="572.4" y="925" width="45.6" height="22.26" fill="#b8b8db"/>
<rect x="617.5" y="925" width="45.6" height="22.26" fill="#5c5cae"/>
<rect x="662.6" y="925" width="45.6" height="22.26" fill="#ebebf5"/>
<rect x="707.7" y="925" width="45.6" height="22.26" fill="#9494ca"/>
<rect x="752.8" y="925" width="45.6" height="22.26" fill="#e4b5b5"/>
<rect x="797.9" y="925" width="45.6" height="22.26" fill="#eed1d1"/>
<rect x="292.8" y="946.76" width="45.7" height="22.26" fill="#b32e2e"/>
<rect x="338" y="946.76" width="45.7" height="22.26" fill="#f9f0f0"/>
<rect x="383.2" y="946.76" width="45.7" height="22.26" fill="#e6baba"/>
<rect x="428.4" y="946.76" width="45.7" height="22.26" fill="#d9d9ec"/>
<rect x="473.6" y="946.76" width="45.7" height="22.26" fill="#f2f2f9"/>
<rect x="518.8" y="946.76" width="48.2" height="22.26" fill="#9999cc"/>
<rect x="572.4" y="946.76" width="45.6" height="22.26" fill="#fcf7f7"/>
<rect x="617.5" y="946.76" width="45.6" height="22.26" fill="#4c4ca6"/>
<rect x="662.6" y="946.76" width="45.6" height="22.26" fill="#f5e3e3"/>
<rect x="707.7" y="946.76" width="45.6" height="22.26" fill="#a1a1d0"/>
<rect x="752.8" y="946.76" width="45.6" height="22.26" fill="#e8bfbf"/>
<rect x="797.9" y="946.76" width="45.6" height="22.26" fill="#f2dbdb"/>
<rect x="292.8" y="968.52" width="45.7" height="22.26" fill="#e0e0f0"/>
<rect x="338" y="968.52" width="45.7" height="22.26" fill="#7878bc"/>
<rect x="383.2" y="968.52" width="45.7" height="22.26" fill="#b2b2d9"/>
<rect x="428.4" y="968.52" width="45.7" height="22.26" fill="#ababd5"/>
<rect x="473.6" y="968.52" width="45.7" height="22.26" fill="#a6a6d3"/>
<rect x="518.8" y="968.52" width="48.2" height="22.26" fill="#dbdbed"/>
<rect x="572.4" y="968.52" width="45.6" height="22.26" fill="#b32e2e"/>
<rect x="617.5" y="968.52" width="45.6" height="22.26" fill="#e1adad"/>
<rect x="662.6" y="968.52" width="45.6" height="22.26" fill="#dea6a6"/>
<rect x="707.7" y="968.52" width="45.6" height="22.26" fill="#e8bfbf"/>
<rect x="752.8" y="968.52" width="45.6" height="22.26" fill="#f2f2f9"/>
<rect x="797.9" y="968.52" width="45.6" height="22.26" fill="#f6e6e6"/>
<rect x="292.8" y="990.28" width="45.7" height="22.26" fill="#c05252"/>
<rect x="338" y="990.28" width="45.7" height="22.26" fill="#cd7575"/>
<rect x="383.2" y="990.28" width="45.7" height="22.26" fill="#da9999"/>
<rect x="428.4" y="990.28" width="45.7" height="22.26" fill="#e3e3f1"/>
<rect x="473.6" y="990.28" width="45.7" height="22.26" fill="#ffffff"/>
<rect x="518.8" y="990.28" width="48.2" height="22.26" fill="#ededf6"/>
<rect x="572.4" y="990.28" width="45.6" height="22.26" fill="#8f8fc7"/>
<rect x="617.5" y="990.28" width="45.6" height="22.26" fill="#6666b3"/>
<rect x="662.6" y="990.28" width="45.6" height="22.26" fill="#d9d9ec"/>
<rect x="707.7" y="990.28" width="45.6" height="22.26" fill="#ababd5"/>
<rect x="752.8" y="990.28" width="45.6" height="22.26" fill="#ebc9c9"/>
<rect x="797.9" y="990.28" width="45.6" height="22.26" fill="#f2f2f9"/>
<rect x="292.8" y="1012.04" width="45.7" height="22.26" fill="#b63838"/>
<rect x="338" y="1012.04" width="45.7" height="22.26" fill="#bfbfdf"/>
<rect x="383.2" y="1012.04" width="45.7" height="22.26" fill="#f9f0f0"/>
<rect x="428.4" y="1012.04" width="45.7" height="22.26" fill="#c9c9e4"/>
<rect x="473.6" y="1012.04" width="45.7" height="22.26" fill="#b0b0d8"/>
<rect x="518.8" y="1012.04" width="48.2" height="22.26" fill="#b2b2d9"/>
<rect x="572.4" y="1012.04" width="45.6" height="22.26" fill="#d58c8c"/>
<rect x="617.5" y="1012.04" width="45.6" height="22.26" fill="#d1d1e8"/>
<rect x="662.6" y="1012.04" width="45.6" height="22.26" fill="#d38787"/>
<rect x="707.7" y="1012.04" width="45.6" height="22.26" fill="#d9d9ec"/>
<rect x="752.8" y="1012.04" width="45.6" height="22.26" fill="#8080c0"/>
<rect x="797.9" y="1012.04" width="45.6" height="22.26" fill="#eed1d1"/>
<rect x="292.8" y="1033.8" width="45.7" height="22.26" fill="#b8b8db"/>
<rect x="338" y="1033.8" width="45.7" height="22.26" fill="#8282c1"/>
<rect x="383.2" y="1033.8" width="45.7" height="22.26" fill="#b8b8db"/>
<rect x="428.4" y="1033.8" width="45.7" height="22.26" fill="#cccce6"/>
<rect x="473.6" y="1033.8" width="45.7" height="22.26" fill="#ededf6"/>
<rect x="518.8" y="1033.8" width="48.2" height="22.26" fill="#f6e6e6"/>
<rect x="572.4" y="1033.8" width="45.6" height="22.26" fill="#c25757"/>
<rect x="617.5" y="1033.8" width="45.6" height="22.26" fill="#f1d9d9"/>
<rect x="662.6" y="1033.8" width="45.6" height="22.26" fill="#d38787"/>
<rect x="707.7" y="1033.8" width="45.6" height="22.26" fill="#da9999"/>
<rect x="752.8" y="1033.8" width="45.6" height="22.26" fill="#6666b3"/>
<rect x="797.9" y="1033.8" width="45.6" height="22.26" fill="#eed1d1"/>
<rect x="292.8" y="1055.56" width="45.7" height="22.26" fill="#c25757"/>
<rect x="338" y="1055.56" width="45.7" height="22.26" fill="#ce7878"/>
<rect x="383.2" y="1055.56" width="45.7" height="22.26" fill="#db9c9c"/>
<rect x="428.4" y="1055.56" width="45.7" height="22.26" fill="#fcfcfe"/>
<rect x="473.6" y="1055.56" width="45.7" height="22.26" fill="#f5e3e3"/>
<rect x="518.8" y="1055.56" width="48.2" height="22.26" fill="#ededf6"/>
<rect x="572.4" y="1055.56" width="45.6" height="22.26" fill="#9494ca"/>
<rect x="617.5" y="1055.56" width="45.6" height="22.26" fill="#4c4ca6"/>
<rect x="662.6" y="1055.56" width="45.6" height="22.26" fill="#cccce6"/>
<rect x="707.7" y="1055.56" width="45.6" height="22.26" fill="#b8b8db"/>
<rect x="752.8" y="1055.56" width="45.6" height="22.26" fill="#f4e0e0"/>
<rect x="797.9" y="1055.56" width="45.6" height="22.26" fill="#e8e8f4"/>
<rect x="292.8" y="1077.32" width="45.7" height="22.26" fill="#e5b8b8"/>
<rect x="338" y="1077.32" width="45.7" height="22.26" fill="#d99696"/>
<rect x="383.2" y="1077.32" width="45.7" height="22.26" fill="#d68f8f"/>
<rect x="428.4" y="1077.32" width="45.7" height="22.26" fill="#f5f5fa"/>
<rect x="473.6" y="1077.32" width="45.7" height="22.26" fill="#dfa8a8"/>
<rect x="518.8" y="1077.32" width="48.2" height="22.26" fill="#f1d9d9"/>
<rect x="572.4" y="1077.32" width="45.6" height="22.26" fill="#ededf6"/>
<rect x="617.5" y="1077.32" width="45.6" height="22.26" fill="#0a0a85"/>
<rect x="662.6" y="1077.32" width="45.6" height="22.26" fill="#a6a6d3"/>
<rect x="707.7" y="1077.32" width="45.6" height="22.26" fill="#d9d9ec"/>
<rect x="752.8" y="1077.32" width="45.6" height="22.26" fill="#e3e3f1"/>
<rect x="797.9" y="1077.32" width="45.6" height="22.26" fill="#f8eded"/>
<rect x="292.8" y="1099.08" width="45.7" height="22.26" fill="#c66363"/>
<rect x="338" y="1099.08" width="45.7" height="22.26" fill="#f5f5fa"/>
<rect x="383.2" y="1099.08" width="45.7" height="22.26" fill="#e2b0b0"/>
<rect x="428.4" y="1099.08" width="45.7" height="22.26" fill="#adadd6"/>
<rect x="473.6" y="1099.08" width="45.7" height="22.26" fill="#d9d9ec"/>
<rect x="518.8" y="1099.08" width="48.2" height="22.26" fill="#efd4d4"/>
<rect x="572.4" y="1099.08" width="45.6" height="22.26" fill="#9494ca"/>
<rect x="617.5" y="1099.08" width="45.6" height="22.26" fill="#ebc7c7"/>
<rect x="662.6" y="1099.08" width="45.6" height="22.26" fill="#adadd6"/>
<rect x="707.7" y="1099.08" width="45.6" height="22.26" fill="#6666b3"/>
<rect x="752.8" y="1099.08" width="45.6" height="22.26" fill="#c45e5e"/>
<rect x="797.9" y="1099.08" width="45.6" height="22.26" fill="#ffffff"/>
<rect x="292.8" y="1120.84" width="45.7" height="22.26" fill="#cf7a7a"/>
<rect x="338" y="1120.84" width="45.7" height="22.26" fill="#bfbfdf"/>
<rect x="383.2" y="1120.84" width="45.7" height="22.26" fill="#faf2f2"/>
<rect x="428.4" y="1120.84" width="45.7" height="22.26" fill="#e0e0f0"/>
<rect x="473.6" y="1120.84" width="45.7" height="22.26" fill="#e1adad"/>
<rect x="518.8" y="1120.84" width="48.2" height="22.26" fill="#ebebf5"/>
<rect x="572.4" y="1120.84" width="45.6" height="22.26" fill="#e3e3f1"/>
<rect x="617.5" y="1120.84" width="45.6" height="22.26" fill="#38389c"/>
<rect x="662.6" y="1120.84" width="45.6" height="22.26" fill="#f8ebeb"/>
<rect x="707.7" y="1120.84" width="45.6" height="22.26" fill="#a6a6d3"/>
<rect x="752.8" y="1120.84" width="45.6" height="22.26" fill="#c15454"/>
<rect x="797.9" y="1120.84" width="45.6" height="22.26" fill="#f2dbdb"/>
<rect x="292.8" y="1142.6" width="45.7" height="22.26" fill="#a20000"/>
<rect x="338" y="1142.6" width="45.7" height="22.26" fill="#c2c2e1"/>
<rect x="383.2" y="1142.6" width="45.7" height="22.26" fill="#eccccc"/>
<rect x="428.4" y="1142.6" width="45.7" height="22.26" fill="#cccce6"/>
<rect x="473.6" y="1142.6" width="45.7" height="22.26" fill="#fdfafa"/>
<rect x="518.8" y="1142.6" width="48.2" height="22.26" fill="#e0e0f0"/>
<rect x="572.4" y="1142.6" width="45.6" height="22.26" fill="#ededf6"/>
<rect x="617.5" y="1142.6" width="45.6" height="22.26" fill="#4747a4"/>
<rect x="662.6" y="1142.6" width="45.6" height="22.26" fill="#f2f2f9"/>
<rect x="707.7" y="1142.6" width="45.6" height="22.26" fill="#fdfafa"/>
<rect x="752.8" y="1142.6" width="45.6" height="22.26" fill="#f8eded"/>
<rect x="797.9" y="1142.6" width="45.6" height="22.26" fill="#f6e6e6"/>
<rect x="292.8" y="1164.36" width="45.7" height="22.26" fill="#c56161"/>
<rect x="338" y="1164.36" width="45.7" height="22.26" fill="#8080c0"/>
<rect x="383.2" y="1164.36" width="45.7" height="22.26" fill="#f8ebeb"/>
<rect x="428.4" y="1164.36" width="45.7" height="22.26" fill="#dedeee"/>
<rect x="473.6" y="1164.36" width="45.7" height="22.26" fill="#bfbfdf"/>
<rect x="518.8" y="1164.36" width="48.2" height="22.26" fill="#e3b2b2"/>
<rect x="572.4" y="1164.36" width="45.6" height="22.26" fill="#b83d3d"/>
<rect x="617.5" y="1164.36" width="45.6" height="22.26" fill="#b5b5da"/>
<rect x="662.6" y="1164.36" width="45.6" height="22.26" fill="#f2f2f9"/>
<rect x="707.7" y="1164.36" width="45.6" height="22.26" fill="#fbf5f5"/>
<rect x="752.8" y="1164.36" width="45.6" height="22.26" fill="#8c8cc6"/>
<rect x="797.9" y="1164.36" width="45.6" height="22.26" fill="#f5f5fa"/>
<rect x="292.8" y="1186.12" width="45.7" height="22.26" fill="#9e9ecf"/>
<rect x="338" y="1186.12" width="45.7" height="22.26" fill="#f7e8e8"/>
<rect x="383.2" y="1186.12" width="45.7" height="22.26" fill="#b2b2d9"/>
<rect x="428.4" y="1186.12" width="45.7" height="22.26" fill="#b0b0d8"/>
<rect x="473.6" y="1186.12" width="45.7" height="22.26" fill="#faf2f2"/>
<rect x="518.8" y="1186.12" width="48.2" height="22.26" fill="#d9d9ec"/>
<rect x="572.4" y="1186.12" width="45.6" height="22.26" fill="#a6a6d3"/>
<rect x="617.5" y="1186.12" width="45.6" height="22.26" fill="#a91212"/>
<rect x="662.6" y="1186.12" width="45.6" height="22.26" fill="#f7f7fb"/>
<rect x="707.7" y="1186.12" width="45.6" height="22.26" fill="#e0abab"/>
<rect x="752.8" y="1186.12" width="45.6" height="22.26" fill="#da9999"/>
<rect x="797.9" y="1186.12" width="45.6" height="22.26" fill="#c9c9e4"/>
<rect x="292.8" y="1207.88" width="45.7" height="22.26" fill="#8f8fc7"/>
<rect x="338" y="1207.88" width="45.7" height="22.26" fill="#faf2f2"/>
<rect x="383.2" y="1207.88" width="45.7" height="22.26" fill="#f7e8e8"/>
<rect x="428.4" y="1207.88" width="45.7" height="22.26" fill="#a1a1d0"/>
<rect x="473.6" y="1207.88" width="45.7" height="22.26" fill="#fefcfc"/>
<rect x="518.8" y="1207.88" width="48.2" height="22.26" fill="#cccce6"/>
<rect x="572.4" y="1207.88" width="45.6" height="22.26" fill="#9c9ccd"/>
<rect x="617.5" y="1207.88" width="45.6" height="22.26" fill="#a91414"/>
<rect x="662.6" y="1207.88" width="45.6" height="22.26" fill="#ededf6"/>
<rect x="707.7" y="1207.88" width="45.6" height="22.26" fill="#e3b2b2"/>
<rect x="752.8" y="1207.88" width="45.6" height="22.26" fill="#dda1a1"/>
<rect x="797.9" y="1207.88" width="45.6" height="22.26" fill="#c2c2e1"/>
<rect x="292.8" y="1229.64" width="45.7" height="22.26" fill="#d9d9ec"/>
<rect x="338" y="1229.64" width="45.7" height="22.26" fill="#8c8cc6"/>
<rect x="383.2" y="1229.64" width="45.7" height="22.26" fill="#a1a1d0"/>
<rect x="428.4" y="1229.64" width="45.7" height="22.26" fill="#a6a6d3"/>
<rect x="473.6" y="1229.64" width="45.7" height="22.26" fill="#bfbfdf"/>
<rect x="518.8" y="1229.64" width="48.2" height="22.26" fill="#c4c4e2"/>
<rect x="572.4" y="1229.64" width="45.6" height="22.26" fill="#c05252"/>
<rect x="617.5" y="1229.64" width="45.6" height="22.26" fill="#edcfcf"/>
<rect x="662.6" y="1229.64" width="45.6" height="22.26" fill="#bf4f4f"/>
<rect x="707.7" y="1229.64" width="45.6" height="22.26" fill="#e8bfbf"/>
<rect x="752.8" y="1229.64" width="45.6" height="22.26" fill="#dedeee"/>
<rect x="797.9" y="1229.64" width="45.6" height="22.26" fill="#eac4c4"/>
<rect x="292.8" y="1251.4" width="45.7" height="22.26" fill="#0f0f88"/>
<rect x="338" y="1251.4" width="45.7" height="22.26" fill="#d9d9ec"/>
<rect x="383.2" y="1251.4" width="45.7" height="22.26" fill="#a1a1d0"/>
<rect x="428.4" y="1251.4" width="45.7" height="22.26" fill="#eccccc"/>
<rect x="473.6" y="1251.4" width="45.7" height="22.26" fill="#ebc9c9"/>
<rect x="518.8" y="1251.4" width="48.2" height="22.26" fill="#eccccc"/>
<rect x="572.4" y="1251.4" width="45.6" height="22.26" fill="#efd4d4"/>
<rect x="617.5" y="1251.4" width="45.6" height="22.26" fill="#d9d9ec"/>
<rect x="662.6" y="1251.4" width="45.6" height="22.26" fill="#c56161"/>
<rect x="707.7" y="1251.4" width="45.6" height="22.26" fill="#ffffff"/>
<rect x="752.8" y="1251.4" width="45.6" height="22.26" fill="#e1adad"/>
<rect x="797.9" y="1251.4" width="45.6" height="22.26" fill="#f5f5fa"/>
<rect x="292.8" y="1273.16" width="45.7" height="22.26" fill="#e6e6f2"/>
<rect x="338" y="1273.16" width="45.7" height="22.26" fill="#8f8fc7"/>
<rect x="383.2" y="1273.16" width="45.7" height="22.26" fill="#e6e6f2"/>
<rect x="428.4" y="1273.16" width="45.7" height="22.26" fill="#fefcfc"/>
<rect x="473.6" y="1273.16" width="45.7" height="22.26" fill="#b0b0d8"/>
<rect x="518.8" y="1273.16" width="48.2" height="22.26" fill="#e4b5b5"/>
<rect x="572.4" y="1273.16" width="45.6" height="22.26" fill="#ce7878"/>
<rect x="617.5" y="1273.16" width="45.6" height="22.26" fill="#c4c4e2"/>
<rect x="662.6" y="1273.16" width="45.6" height="22.26" fill="#aa1717"/>
<rect x="707.7" y="1273.16" width="45.6" height="22.26" fill="#ebebf5"/>
<rect x="752.8" y="1273.16" width="45.6" height="22.26" fill="#babadd"/>
<rect x="797.9" y="1273.16" width="45.6" height="22.26" fill="#e0e0f0"/>
</g>
<rect x="294.3" y="164.2" width="549.9" height="1131.5" fill="none" stroke="#000" stroke-width="5.6" stroke-linejoin="round"/>
<line x1="569" y1="164" x2="569" y2="1296" stroke="#000" stroke-width="6.1"/>
<line x1="276.4" y1="174.48" x2="292" y2="174.48" stroke="#000" stroke-width="6"/>
<text x="245.6" y="184.38" font-size="28" text-anchor="end" fill="#000">C10:0</text>
<line x1="276.4" y1="196.24" x2="292" y2="196.24" stroke="#000" stroke-width="6"/>
<text x="245.6" y="206.14" font-size="28" text-anchor="end" fill="#000">C12:0</text>
<line x1="276.4" y1="218" x2="292" y2="218" stroke="#000" stroke-width="6"/>
<text x="245.6" y="227.9" font-size="28" text-anchor="end" fill="#000">C14:0</text>
<line x1="276.4" y1="239.76" x2="292" y2="239.76" stroke="#000" stroke-width="6"/>
<text x="245.6" y="249.66" font-size="28" text-anchor="end" fill="#000">C15:0</text>
<line x1="276.4" y1="261.52" x2="292" y2="261.52" stroke="#000" stroke-width="6"/>
<text x="245.6" y="271.42" font-size="28" text-anchor="end" fill="#000">C16:0</text>
<text x="262.2" y="283.02" font-size="44.5" text-anchor="middle" fill="#000" stroke="#000" stroke-width="0.7">*</text>
<line x1="276.4" y1="283.28" x2="292" y2="283.28" stroke="#000" stroke-width="6"/>
<text x="245.6" y="293.18" font-size="28" text-anchor="end" fill="#000">C17:0</text>
<line x1="276.4" y1="305.04" x2="292" y2="305.04" stroke="#000" stroke-width="6"/>
<text x="245.6" y="314.94" font-size="28" text-anchor="end" fill="#000">C18:0</text>
<line x1="276.4" y1="326.8" x2="292" y2="326.8" stroke="#000" stroke-width="6"/>
<text x="245.6" y="336.7" font-size="28" text-anchor="end" fill="#000">C20:0</text>
<text x="262.2" y="348.3" font-size="44.5" text-anchor="middle" fill="#000" stroke="#000" stroke-width="0.7">*</text>
<line x1="276.4" y1="348.56" x2="292" y2="348.56" stroke="#000" stroke-width="6"/>
<text x="245.6" y="358.46" font-size="28" text-anchor="end" fill="#000">C22:0</text>
<text x="262.2" y="370.06" font-size="44.5" text-anchor="middle" fill="#000" stroke="#000" stroke-width="0.7">*</text>
<line x1="276.4" y1="370.32" x2="292" y2="370.32" stroke="#000" stroke-width="6"/>
<text x="245.6" y="380.22" font-size="28" text-anchor="end" fill="#000">C23:0</text>
<text x="262.2" y="391.82" font-size="44.5" text-anchor="middle" fill="#000" stroke="#000" stroke-width="0.7">*</text>
<line x1="276.4" y1="392.08" x2="292" y2="392.08" stroke="#000" stroke-width="6"/>
<text x="245.6" y="401.98" font-size="28" text-anchor="end" fill="#000">C24:0</text>
<text x="262.2" y="413.58" font-size="44.5" text-anchor="middle" fill="#000" stroke="#000" stroke-width="0.7">*</text>
<line x1="276.4" y1="413.84" x2="292" y2="413.84" stroke="#000" stroke-width="6"/>
<text x="245.6" y="423.74" font-size="28" text-anchor="end" fill="#000">C25:0</text>
<text x="262.2" y="435.34" font-size="44.5" text-anchor="middle" fill="#000" stroke="#000" stroke-width="0.7">*</text>
<line x1="276.4" y1="435.6" x2="292" y2="435.6" stroke="#000" stroke-width="6"/>
<text x="245.6" y="445.5" font-size="28" text-anchor="end" fill="#000">C26:0</text>
<text x="262.2" y="457.1" font-size="44.5" text-anchor="middle" fill="#000" stroke="#000" stroke-width="0.7">*</text>
<line x1="276.4" y1="457.36" x2="292" y2="457.36" stroke="#000" stroke-width="6"/>
<text x="245.6" y="467.26" font-size="28" text-anchor="end" fill="#000">C28:0</text>
<line x1="276.4" y1="479.12" x2="292" y2="479.12" stroke="#000" stroke-width="6"/>
<text x="245.6" y="489.02" font-size="28" text-anchor="end" fill="#000">C30:0</text>
<line x1="276.4" y1="500.88" x2="292" y2="500.88" stroke="#000" stroke-width="6"/>
<text x="245.6" y="510.78" font-size="28" text-anchor="end" fill="#000">C10:1</text>
<line x1="276.4" y1="522.64" x2="292" y2="522.64" stroke="#000" stroke-width="6"/>
<text x="245.6" y="532.54" font-size="28" text-anchor="end" fill="#000">C12:1</text>
<line x1="276.4" y1="544.4" x2="292" y2="544.4" stroke="#000" stroke-width="6"/>
<text x="245.6" y="554.3" font-size="28" text-anchor="end" fill="#000">C16:1(n-9)</text>
<line x1="276.4" y1="566.16" x2="292" y2="566.16" stroke="#000" stroke-width="6"/>
<text x="245.6" y="576.06" font-size="28" text-anchor="end" fill="#000">C17:1</text>
<line x1="276.4" y1="587.92" x2="292" y2="587.92" stroke="#000" stroke-width="6"/>
<text x="245.6" y="597.82" font-size="28" text-anchor="end" fill="#000">C18:1(n-9)</text>
<text x="262.2" y="609.42" font-size="44.5" text-anchor="middle" fill="#000" stroke="#000" stroke-width="0.7">*</text>
<line x1="276.4" y1="609.68" x2="292" y2="609.68" stroke="#000" stroke-width="6"/>
<text x="245.6" y="619.58" font-size="28" text-anchor="end" fill="#000">C20:1(n-9)</text>
<text x="262.2" y="631.18" font-size="44.5" text-anchor="middle" fill="#000" stroke="#000" stroke-width="0.7">*</text>
<line x1="276.4" y1="631.44" x2="292" y2="631.44" stroke="#000" stroke-width="6"/>
<text x="245.6" y="641.34" font-size="28" text-anchor="end" fill="#000">C20:3(n-9)</text>
<text x="262.2" y="652.94" font-size="44.5" text-anchor="middle" fill="#000" stroke="#000" stroke-width="0.7">*</text>
<line x1="276.4" y1="653.2" x2="292" y2="653.2" stroke="#000" stroke-width="6"/>
<text x="245.6" y="663.1" font-size="28" text-anchor="end" fill="#000">C22:1(n-9)</text>
<text x="262.2" y="674.7" font-size="44.5" text-anchor="middle" fill="#000" stroke="#000" stroke-width="0.7">*</text>
<line x1="276.4" y1="674.96" x2="292" y2="674.96" stroke="#000" stroke-width="6"/>
<text x="245.6" y="684.86" font-size="28" text-anchor="end" fill="#000">C24:1(n-9)</text>
<text x="262.2" y="696.46" font-size="44.5" text-anchor="middle" fill="#000" stroke="#000" stroke-width="0.7">*</text>
<line x1="276.4" y1="696.72" x2="292" y2="696.72" stroke="#000" stroke-width="6"/>
<text x="245.6" y="706.62" font-size="28" text-anchor="end" fill="#000">C26:1 total</text>
<text x="262.2" y="718.22" font-size="44.5" text-anchor="middle" fill="#000" stroke="#000" stroke-width="0.7">*</text>
<line x1="276.4" y1="718.48" x2="292" y2="718.48" stroke="#000" stroke-width="6"/>
<text x="245.6" y="728.38" font-size="28" text-anchor="end" fill="#000">C14:1</text>
<line x1="276.4" y1="740.24" x2="292" y2="740.24" stroke="#000" stroke-width="6"/>
<text x="245.6" y="750.14" font-size="28" text-anchor="end" fill="#000">C16:1(n-7)</text>
<line x1="276.4" y1="762" x2="292" y2="762" stroke="#000" stroke-width="6"/>
<text x="245.6" y="771.9" font-size="28" text-anchor="end" fill="#000">C18:1(n-7)</text>
<line x1="276.4" y1="783.76" x2="292" y2="783.76" stroke="#000" stroke-width="6"/>
<text x="245.6" y="793.66" font-size="28" text-anchor="end" fill="#000">C18:1(n-5)</text>
<line x1="276.4" y1="805.52" x2="292" y2="805.52" stroke="#000" stroke-width="6"/>
<text x="245.6" y="815.42" font-size="28" text-anchor="end" fill="#000">C20:3(n-7)</text>
<line x1="276.4" y1="827.28" x2="292" y2="827.28" stroke="#000" stroke-width="6"/>
<text x="245.6" y="837.18" font-size="28" text-anchor="end" fill="#000">C14:2</text>
<line x1="276.4" y1="849.04" x2="292" y2="849.04" stroke="#000" stroke-width="6"/>
<text x="245.6" y="858.94" font-size="28" text-anchor="end" fill="#000">C16:2</text>
<line x1="276.4" y1="870.8" x2="292" y2="870.8" stroke="#000" stroke-width="6"/>
<text x="245.6" y="880.7" font-size="28" text-anchor="end" fill="#000">C18:2(n-6)</text>
<line x1="276.4" y1="892.56" x2="292" y2="892.56" stroke="#000" stroke-width="6"/>
<text x="241" y="902.46" font-size="28" text-anchor="end" fill="#000">C18:2(n-6)Conj</text>
<line x1="276.4" y1="914.32" x2="292" y2="914.32" stroke="#000" stroke-width="6"/>
<text x="245.6" y="924.22" font-size="28" text-anchor="end" fill="#000">C18:3(n-6)</text>
<line x1="276.4" y1="936.08" x2="292" y2="936.08" stroke="#000" stroke-width="6"/>
<text x="245.6" y="945.98" font-size="28" text-anchor="end" fill="#000">C20:2(n-6)</text>
<line x1="276.4" y1="957.84" x2="292" y2="957.84" stroke="#000" stroke-width="6"/>
<text x="245.6" y="967.74" font-size="28" text-anchor="end" fill="#000">C20:3(n-6)</text>
<line x1="276.4" y1="979.6" x2="292" y2="979.6" stroke="#000" stroke-width="6"/>
<text x="245.6" y="989.5" font-size="28" text-anchor="end" fill="#000">C20:4(n-6)</text>
<text x="262.2" y="1001.1" font-size="44.5" text-anchor="middle" fill="#000" stroke="#000" stroke-width="0.7">*</text>
<line x1="276.4" y1="1001.36" x2="292" y2="1001.36" stroke="#000" stroke-width="6"/>
<text x="245.6" y="1011.26" font-size="28" text-anchor="end" fill="#000">C22:2(n-6)</text>
<text x="262.2" y="1022.86" font-size="44.5" text-anchor="middle" fill="#000" stroke="#000" stroke-width="0.7">*</text>
<line x1="276.4" y1="1023.12" x2="292" y2="1023.12" stroke="#000" stroke-width="6"/>
<text x="245.6" y="1033.02" font-size="28" text-anchor="end" fill="#000">C22:4(n-6)</text>
<line x1="276.4" y1="1044.88" x2="292" y2="1044.88" stroke="#000" stroke-width="6"/>
<text x="245.6" y="1054.78" font-size="28" text-anchor="end" fill="#000">C22:5(n-6)</text>
<line x1="276.4" y1="1066.64" x2="292" y2="1066.64" stroke="#000" stroke-width="6"/>
<text x="245.6" y="1076.54" font-size="28" text-anchor="end" fill="#000">C24:2</text>
<text x="262.2" y="1088.14" font-size="44.5" text-anchor="middle" fill="#000" stroke="#000" stroke-width="0.7">*</text>
<line x1="276.4" y1="1088.4" x2="292" y2="1088.4" stroke="#000" stroke-width="6"/>
<text x="245.6" y="1098.3" font-size="28" text-anchor="end" fill="#000">C26:2</text>
<text x="262.2" y="1109.9" font-size="44.5" text-anchor="middle" fill="#000" stroke="#000" stroke-width="0.7">*</text>
<line x1="276.4" y1="1110.16" x2="292" y2="1110.16" stroke="#000" stroke-width="6"/>
<text x="245.6" y="1120.06" font-size="28" text-anchor="end" fill="#000">C18:3(n-3)</text>
<line x1="276.4" y1="1131.92" x2="292" y2="1131.92" stroke="#000" stroke-width="6"/>
<text x="245.6" y="1141.82" font-size="28" text-anchor="end" fill="#000">C20:5(n-3)</text>
<line x1="276.4" y1="1153.68" x2="292" y2="1153.68" stroke="#000" stroke-width="6"/>
<text x="245.6" y="1163.58" font-size="28" text-anchor="end" fill="#000">C22:5(n-3)</text>
<line x1="276.4" y1="1175.44" x2="292" y2="1175.44" stroke="#000" stroke-width="6"/>
<text x="245.6" y="1185.34" font-size="28" text-anchor="end" fill="#000">C22:6(n-3)</text>
<line x1="276.4" y1="1197.2" x2="292" y2="1197.2" stroke="#000" stroke-width="6"/>
<text x="245.6" y="1207.1" font-size="28" text-anchor="end" fill="#000">pristanic</text>
<line x1="276.4" y1="1218.96" x2="292" y2="1218.96" stroke="#000" stroke-width="6"/>
<text x="245.6" y="1228.86" font-size="28" text-anchor="end" fill="#000">phytanic</text>
<line x1="276.4" y1="1240.72" x2="292" y2="1240.72" stroke="#000" stroke-width="6"/>
<text x="245.6" y="1250.62" font-size="28" text-anchor="end" fill="#000">C16:1 trans</text>
<text x="262.2" y="1262.22" font-size="44.5" text-anchor="middle" fill="#000" stroke="#000" stroke-width="0.7">*</text>
<line x1="276.4" y1="1262.48" x2="292" y2="1262.48" stroke="#000" stroke-width="6"/>
<text x="245.6" y="1272.38" font-size="28" text-anchor="end" fill="#000">C18:1 trans</text>
<line x1="276.4" y1="1284.24" x2="292" y2="1284.24" stroke="#000" stroke-width="6"/>
<text x="245.6" y="1294.14" font-size="28" text-anchor="end" fill="#000">C18:2 trans</text>
<rect x="298.15" y="115.35" width="262.2" height="37.6" fill="#d4d4d4" stroke="#231f20" stroke-width="4.3"/>
<rect x="577.65" y="115.35" width="262.5" height="37.6" fill="#4466ff" stroke="#231f20" stroke-width="4.3"/>
<text x="429.7" y="142.1" font-size="28" text-anchor="middle" fill="#000">Nx</text>
<text x="709" y="142.1" font-size="28" text-anchor="middle" fill="#fff">IHx</text>
<text x="567.6" y="64.3" font-size="28.4" text-anchor="middle" font-weight="bold" fill="#000">P30</text>
<text x="570.5" y="99.3" font-size="28.2" text-anchor="middle" font-weight="bold" fill="#000">% of Total Fatty Acids</text>
<defs><linearGradient id="cb0" x1="0" y1="0" x2="0" y2="1">
<stop offset="0" stop-color="#a60a0a"/><stop offset="0.5" stop-color="#ffffff"/><stop offset="1" stop-color="#0c0c8a"/>
</linearGradient></defs>
<rect x="862.2" y="164.3" width="28.4" height="263.4" fill="url(#cb0)" stroke="#000" stroke-width="5.2" stroke-linejoin="round"/>
<line x1="863.6" y1="192.9" x2="868.6" y2="192.9" stroke="#000" stroke-width="3.6"/>
<line x1="884.2" y1="192.9" x2="889.2" y2="192.9" stroke="#000" stroke-width="3.6"/>
<text x="899.1" y="202.6" font-size="26" text-anchor="start" fill="#000">2</text>
<line x1="863.6" y1="296.3" x2="868.6" y2="296.3" stroke="#000" stroke-width="3.6"/>
<line x1="884.2" y1="296.3" x2="889.2" y2="296.3" stroke="#000" stroke-width="3.6"/>
<text x="899.1" y="305.3" font-size="26" text-anchor="start" fill="#000">0</text>
<line x1="863.6" y1="399" x2="868.6" y2="399" stroke="#000" stroke-width="3.6"/>
<line x1="884.2" y1="399" x2="889.2" y2="399" stroke="#000" stroke-width="3.6"/>
<text x="899.1" y="408.3" font-size="26" text-anchor="start" fill="#000">-2</text>
<text x="856" y="146" font-size="28" text-anchor="start" fill="#000">Z-Score</text>
<g shape-rendering="crispEdges">
<rect x="1301.4" y="163.4" width="45.7" height="22.26" fill="#f8ebeb"/>
<rect x="1346.6" y="163.4" width="45.7" height="22.26" fill="#e6e6f2"/>
<rect x="1391.8" y="163.4" width="45.7" height="22.26" fill="#cfcfe7"/>
<rect x="1437" y="163.4" width="45.7" height="22.26" fill="#cccce6"/>
<rect x="1482.2" y="163.4" width="45.7" height="22.26" fill="#b2b2d9"/>
<rect x="1527.4" y="163.4" width="48.2" height="22.26" fill="#b2b2d9"/>
<rect x="1581" y="163.4" width="45.6" height="22.26" fill="#a20000"/>
<rect x="1626.1" y="163.4" width="45.6" height="22.26" fill="#d9d9ec"/>
<rect x="1671.2" y="163.4" width="45.6" height="22.26" fill="#c2c2e1"/>
<rect x="1716.3" y="163.4" width="45.6" height="22.26" fill="#da9999"/>
<rect x="1761.4" y="163.4" width="45.6" height="22.26" fill="#ededf6"/>
<rect x="1806.5" y="163.4" width="45.6" height="22.26" fill="#dedeee"/>
<rect x="1301.4" y="185.16" width="45.7" height="22.26" fill="#eed1d1"/>
<rect x="1346.6" y="185.16" width="45.7" height="22.26" fill="#dedeee"/>
<rect x="1391.8" y="185.16" width="45.7" height="22.26" fill="#d9d9ec"/>
<rect x="1437" y="185.16" width="45.7" height="22.26" fill="#bdbdde"/>
<rect x="1482.2" y="185.16" width="45.7" height="22.26" fill="#babadd"/>
<rect x="1527.4" y="185.16" width="48.2" height="22.26" fill="#ababd5"/>
<rect x="1581" y="185.16" width="45.6" height="22.26" fill="#a91414"/>
<rect x="1626.1" y="185.16" width="45.6" height="22.26" fill="#cfcfe7"/>
<rect x="1671.2" y="185.16" width="45.6" height="22.26" fill="#a1a1d0"/>
<rect x="1716.3" y="185.16" width="45.6" height="22.26" fill="#d38787"/>
<rect x="1761.4" y="185.16" width="45.6" height="22.26" fill="#ffffff"/>
<rect x="1806.5" y="185.16" width="45.6" height="22.26" fill="#e6e6f2"/>
<rect x="1301.4" y="206.92" width="45.7" height="22.26" fill="#d6d6eb"/>
<rect x="1346.6" y="206.92" width="45.7" height="22.26" fill="#e6e6f2"/>
<rect x="1391.8" y="206.92" width="45.7" height="22.26" fill="#e0abab"/>
<rect x="1437" y="206.92" width="45.7" height="22.26" fill="#d4d4e9"/>
<rect x="1482.2" y="206.92" width="45.7" height="22.26" fill="#4747a4"/>
<rect x="1527.4" y="206.92" width="48.2" height="22.26" fill="#edcfcf"/>
<rect x="1581" y="206.92" width="45.6" height="22.26" fill="#b83d3d"/>
<rect x="1626.1" y="206.92" width="45.6" height="22.26" fill="#8585c2"/>
<rect x="1671.2" y="206.92" width="45.6" height="22.26" fill="#f7f7fb"/>
<rect x="1716.3" y="206.92" width="45.6" height="22.26" fill="#e0abab"/>
<rect x="1761.4" y="206.92" width="45.6" height="22.26" fill="#babadd"/>
<rect x="1806.5" y="206.92" width="45.6" height="22.26" fill="#fbf5f5"/>
<rect x="1301.4" y="228.68" width="45.7" height="22.26" fill="#fafafc"/>
<rect x="1346.6" y="228.68" width="45.7" height="22.26" fill="#e8e8f4"/>
<rect x="1391.8" y="228.68" width="45.7" height="22.26" fill="#f8eded"/>
<rect x="1437" y="228.68" width="45.7" height="22.26" fill="#b2b2d9"/>
<rect x="1482.2" y="228.68" width="45.7" height="22.26" fill="#8f8fc7"/>
<rect x="1527.4" y="228.68" width="48.2" height="22.26" fill="#e0e0f0"/>
<rect x="1581" y="228.68" width="45.6" height="22.26" fill="#aa1717"/>
<rect x="1626.1" y="228.68" width="45.6" height="22.26" fill="#b5b5da"/>
<rect x="1671.2" y="228.68" width="45.6" height="22.26" fill="#cfcfe7"/>
<rect x="1716.3" y="228.68" width="45.6" height="22.26" fill="#cc7373"/>
<rect x="1761.4" y="228.68" width="45.6" height="22.26" fill="#cccce6"/>
<rect x="1806.5" y="228.68" width="45.6" height="22.26" fill="#ededf6"/>
<rect x="1301.4" y="250.44" width="45.7" height="22.26" fill="#edcfcf"/>
<rect x="1346.6" y="250.44" width="45.7" height="22.26" fill="#ededf6"/>
<rect x="1391.8" y="250.44" width="45.7" height="22.26" fill="#fefcfc"/>
<rect x="1437" y="250.44" width="45.7" height="22.26" fill="#e0e0f0"/>
<rect x="1482.2" y="250.44" width="45.7" height="22.26" fill="#6161b0"/>
<rect x="1527.4" y="250.44" width="48.2" height="22.26" fill="#ebebf5"/>
<rect x="1581" y="250.44" width="45.6" height="22.26" fill="#c96b6b"/>
<rect x="1626.1" y="250.44" width="45.6" height="22.26" fill="#d9d9ec"/>
<rect x="1671.2" y="250.44" width="45.6" height="22.26" fill="#fbf5f5"/>
<rect x="1716.3" y="250.44" width="45.6" height="22.26" fill="#c35c5c"/>
<rect x="1761.4" y="250.44" width="45.6" height="22.26" fill="#f6e6e6"/>
<rect x="1806.5" y="250.44" width="45.6" height="22.26" fill="#4040a0"/>
<rect x="1301.4" y="272.2" width="45.7" height="22.26" fill="#f4e0e0"/>
<rect x="1346.6" y="272.2" width="45.7" height="22.26" fill="#db9c9c"/>
<rect x="1391.8" y="272.2" width="45.7" height="22.26" fill="#e4b5b5"/>
<rect x="1437" y="272.2" width="45.7" height="22.26" fill="#e7bdbd"/>
<rect x="1482.2" y="272.2" width="45.7" height="22.26" fill="#6e6eb7"/>
<rect x="1527.4" y="272.2" width="48.2" height="22.26" fill="#eccccc"/>
<rect x="1581" y="272.2" width="45.6" height="22.26" fill="#f1d9d9"/>
<rect x="1626.1" y="272.2" width="45.6" height="22.26" fill="#ababd5"/>
<rect x="1671.2" y="272.2" width="45.6" height="22.26" fill="#ebc9c9"/>
<rect x="1716.3" y="272.2" width="45.6" height="22.26" fill="#fbf5f5"/>
<rect x="1761.4" y="272.2" width="45.6" height="22.26" fill="#f2f2f9"/>
<rect x="1806.5" y="272.2" width="45.6" height="22.26" fill="#000080"/>
<rect x="1301.4" y="293.96" width="45.7" height="22.26" fill="#ebc7c7"/>
<rect x="1346.6" y="293.96" width="45.7" height="22.26" fill="#f7f7fb"/>
<rect x="1391.8" y="293.96" width="45.7" height="22.26" fill="#fcfcfe"/>
<rect x="1437" y="293.96" width="45.7" height="22.26" fill="#fafafc"/>
<rect x="1482.2" y="293.96" width="45.7" height="22.26" fill="#a1a1d0"/>
<rect x="1527.4" y="293.96" width="48.2" height="22.26" fill="#b0b0d8"/>
<rect x="1581" y="293.96" width="45.6" height="22.26" fill="#c35c5c"/>
<rect x="1626.1" y="293.96" width="45.6" height="22.26" fill="#c4c4e2"/>
<rect x="1671.2" y="293.96" width="45.6" height="22.26" fill="#f7f7fb"/>
<rect x="1716.3" y="293.96" width="45.6" height="22.26" fill="#c45e5e"/>
<rect x="1761.4" y="293.96" width="45.6" height="22.26" fill="#f8eded"/>
<rect x="1806.5" y="293.96" width="45.6" height="22.26" fill="#3b3b9d"/>
<rect x="1301.4" y="315.72" width="45.7" height="22.26" fill="#ababd5"/>
<rect x="1346.6" y="315.72" width="45.7" height="22.26" fill="#c96b6b"/>
<rect x="1391.8" y="315.72" width="45.7" height="22.26" fill="#d68f8f"/>
<rect x="1437" y="315.72" width="45.7" height="22.26" fill="#d89494"/>
<rect x="1482.2" y="315.72" width="45.7" height="22.26" fill="#f0f0f7"/>
<rect x="1527.4" y="315.72" width="48.2" height="22.26" fill="#eccccc"/>
<rect x="1581" y="315.72" width="45.6" height="22.26" fill="#e0e0f0"/>
<rect x="1626.1" y="315.72" width="45.6" height="22.26" fill="#8080c0"/>
<rect x="1671.2" y="315.72" width="45.6" height="22.26" fill="#f7e8e8"/>
<rect x="1716.3" y="315.72" width="45.6" height="22.26" fill="#6969b4"/>
<rect x="1761.4" y="315.72" width="45.6" height="22.26" fill="#8080c0"/>
<rect x="1806.5" y="315.72" width="45.6" height="22.26" fill="#f4e0e0"/>
<rect x="1301.4" y="337.48" width="45.7" height="22.26" fill="#a1a1d0"/>
<rect x="1346.6" y="337.48" width="45.7" height="22.26" fill="#c66363"/>
<rect x="1391.8" y="337.48" width="45.7" height="22.26" fill="#d68f8f"/>
<rect x="1437" y="337.48" width="45.7" height="22.26" fill="#dea6a6"/>
<rect x="1482.2" y="337.48" width="45.7" height="22.26" fill="#ffffff"/>
<rect x="1527.4" y="337.48" width="48.2" height="22.26" fill="#eccccc"/>
<rect x="1581" y="337.48" width="45.6" height="22.26" fill="#d9d9ec"/>
<rect x="1626.1" y="337.48" width="45.6" height="22.26" fill="#8080c0"/>
<rect x="1671.2" y="337.48" width="45.6" height="22.26" fill="#f9f0f0"/>
<rect x="1716.3" y="337.48" width="45.6" height="22.26" fill="#6666b3"/>
<rect x="1761.4" y="337.48" width="45.6" height="22.26" fill="#8585c2"/>
<rect x="1806.5" y="337.48" width="45.6" height="22.26" fill="#f1d9d9"/>
<rect x="1301.4" y="359.24" width="45.7" height="22.26" fill="#c7c7e3"/>
<rect x="1346.6" y="359.24" width="45.7" height="22.26" fill="#c35959"/>
<rect x="1391.8" y="359.24" width="45.7" height="22.26" fill="#dc9e9e"/>
<rect x="1437" y="359.24" width="45.7" height="22.26" fill="#db9c9c"/>
<rect x="1482.2" y="359.24" width="45.7" height="22.26" fill="#e5b8b8"/>
<rect x="1527.4" y="359.24" width="48.2" height="22.26" fill="#fcfcfe"/>
<rect x="1581" y="359.24" width="45.6" height="22.26" fill="#cccce6"/>
<rect x="1626.1" y="359.24" width="45.6" height="22.26" fill="#7a7abd"/>
<rect x="1671.2" y="359.24" width="45.6" height="22.26" fill="#f2f2f9"/>
<rect x="1716.3" y="359.24" width="45.6" height="22.26" fill="#9494ca"/>
<rect x="1761.4" y="359.24" width="45.6" height="22.26" fill="#6161b0"/>
<rect x="1806.5" y="359.24" width="45.6" height="22.26" fill="#f9f0f0"/>
<rect x="1301.4" y="381" width="45.7" height="22.26" fill="#ababd5"/>
<rect x="1346.6" y="381" width="45.7" height="22.26" fill="#ca6e6e"/>
<rect x="1391.8" y="381" width="45.7" height="22.26" fill="#d89494"/>
<rect x="1437" y="381" width="45.7" height="22.26" fill="#d99696"/>
<rect x="1482.2" y="381" width="45.7" height="22.26" fill="#f4e0e0"/>
<rect x="1527.4" y="381" width="48.2" height="22.26" fill="#f2dbdb"/>
<rect x="1581" y="381" width="45.6" height="22.26" fill="#cccce6"/>
<rect x="1626.1" y="381" width="45.6" height="22.26" fill="#8282c1"/>
<rect x="1671.2" y="381" width="45.6" height="22.26" fill="#fcf7f7"/>
<rect x="1716.3" y="381" width="45.6" height="22.26" fill="#7070b8"/>
<rect x="1761.4" y="381" width="45.6" height="22.26" fill="#6b6bb5"/>
<rect x="1806.5" y="381" width="45.6" height="22.26" fill="#eed1d1"/>
<rect x="1301.4" y="402.76" width="45.7" height="22.26" fill="#b8b8db"/>
<rect x="1346.6" y="402.76" width="45.7" height="22.26" fill="#cf7a7a"/>
<rect x="1391.8" y="402.76" width="45.7" height="22.26" fill="#dea6a6"/>
<rect x="1437" y="402.76" width="45.7" height="22.26" fill="#dfa8a8"/>
<rect x="1482.2" y="402.76" width="45.7" height="22.26" fill="#da9999"/>
<rect x="1527.4" y="402.76" width="48.2" height="22.26" fill="#f2f2f9"/>
<rect x="1581" y="402.76" width="45.6" height="22.26" fill="#cccce6"/>
<rect x="1626.1" y="402.76" width="45.6" height="22.26" fill="#9999cc"/>
<rect x="1671.2" y="402.76" width="45.6" height="22.26" fill="#f2f2f9"/>
<rect x="1716.3" y="402.76" width="45.6" height="22.26" fill="#7373b9"/>
<rect x="1761.4" y="402.76" width="45.6" height="22.26" fill="#5757ab"/>
<rect x="1806.5" y="402.76" width="45.6" height="22.26" fill="#e7bdbd"/>
<rect x="1301.4" y="424.52" width="45.7" height="22.26" fill="#b2b2d9"/>
<rect x="1346.6" y="424.52" width="45.7" height="22.26" fill="#dea6a6"/>
<rect x="1391.8" y="424.52" width="45.7" height="22.26" fill="#d79191"/>
<rect x="1437" y="424.52" width="45.7" height="22.26" fill="#e8bfbf"/>
<rect x="1482.2" y="424.52" width="45.7" height="22.26" fill="#e1adad"/>
<rect x="1527.4" y="424.52" width="48.2" height="22.26" fill="#f3dede"/>
<rect x="1581" y="424.52" width="45.6" height="22.26" fill="#f0d6d6"/>
<rect x="1626.1" y="424.52" width="45.6" height="22.26" fill="#6666b3"/>
<rect x="1671.2" y="424.52" width="45.6" height="22.26" fill="#ebebf5"/>
<rect x="1716.3" y="424.52" width="45.6" height="22.26" fill="#b2b2d9"/>
<rect x="1761.4" y="424.52" width="45.6" height="22.26" fill="#1a1a8d"/>
<rect x="1806.5" y="424.52" width="45.6" height="22.26" fill="#edcfcf"/>
<rect x="1301.4" y="446.28" width="45.7" height="22.26" fill="#e0e0f0"/>
<rect x="1346.6" y="446.28" width="45.7" height="22.26" fill="#cccce6"/>
<rect x="1391.8" y="446.28" width="45.7" height="22.26" fill="#d9d9ec"/>
<rect x="1437" y="446.28" width="45.7" height="22.26" fill="#a6a6d3"/>
<rect x="1482.2" y="446.28" width="45.7" height="22.26" fill="#ababd5"/>
<rect x="1527.4" y="446.28" width="48.2" height="22.26" fill="#b8b8db"/>
<rect x="1581" y="446.28" width="45.6" height="22.26" fill="#b73b3b"/>
<rect x="1626.1" y="446.28" width="45.6" height="22.26" fill="#c7c7e3"/>
<rect x="1671.2" y="446.28" width="45.6" height="22.26" fill="#bfbfdf"/>
<rect x="1716.3" y="446.28" width="45.6" height="22.26" fill="#ce7878"/>
<rect x="1761.4" y="446.28" width="45.6" height="22.26" fill="#e8e8f4"/>
<rect x="1806.5" y="446.28" width="45.6" height="22.26" fill="#d58c8c"/>
<rect x="1301.4" y="468.04" width="45.7" height="22.26" fill="#6161b0"/>
<rect x="1346.6" y="468.04" width="45.7" height="22.26" fill="#ffffff"/>
<rect x="1391.8" y="468.04" width="45.7" height="22.26" fill="#6161b0"/>
<rect x="1437" y="468.04" width="45.7" height="22.26" fill="#e0e0f0"/>
<rect x="1482.2" y="468.04" width="45.7" height="22.26" fill="#e3e3f1"/>
<rect x="1527.4" y="468.04" width="48.2" height="22.26" fill="#ededf6"/>
<rect x="1581" y="468.04" width="45.6" height="22.26" fill="#b83d3d"/>
<rect x="1626.1" y="468.04" width="45.6" height="22.26" fill="#fcfcfe"/>
<rect x="1671.2" y="468.04" width="45.6" height="22.26" fill="#f2f2f9"/>
<rect x="1716.3" y="468.04" width="45.6" height="22.26" fill="#ca6e6e"/>
<rect x="1761.4" y="468.04" width="45.6" height="22.26" fill="#f9f0f0"/>
<rect x="1806.5" y="468.04" width="45.6" height="22.26" fill="#ffffff"/>
<rect x="1301.4" y="489.8" width="45.7" height="22.26" fill="#fcf7f7"/>
<rect x="1346.6" y="489.8" width="45.7" height="22.26" fill="#fcfcfe"/>
<rect x="1391.8" y="489.8" width="45.7" height="22.26" fill="#fefcfc"/>
<rect x="1437" y="489.8" width="45.7" height="22.26" fill="#dbdbed"/>
<rect x="1482.2" y="489.8" width="45.7" height="22.26" fill="#dedeee"/>
<rect x="1527.4" y="489.8" width="48.2" height="22.26" fill="#5c5cae"/>
<rect x="1581" y="489.8" width="45.6" height="22.26" fill="#b83d3d"/>
<rect x="1626.1" y="489.8" width="45.6" height="22.26" fill="#f5f5fa"/>
<rect x="1671.2" y="489.8" width="45.6" height="22.26" fill="#5c5cae"/>
<rect x="1716.3" y="489.8" width="45.6" height="22.26" fill="#cc7373"/>
<rect x="1761.4" y="489.8" width="45.6" height="22.26" fill="#fbf5f5"/>
<rect x="1806.5" y="489.8" width="45.6" height="22.26" fill="#fafafc"/>
<rect x="1301.4" y="511.56" width="45.7" height="22.26" fill="#f0f0f7"/>
<rect x="1346.6" y="511.56" width="45.7" height="22.26" fill="#8080c0"/>
<rect x="1391.8" y="511.56" width="45.7" height="22.26" fill="#e8bfbf"/>
<rect x="1437" y="511.56" width="45.7" height="22.26" fill="#6e6eb7"/>
<rect x="1482.2" y="511.56" width="45.7" height="22.26" fill="#bfbfdf"/>
<rect x="1527.4" y="511.56" width="48.2" height="22.26" fill="#f8ebeb"/>
<rect x="1581" y="511.56" width="45.6" height="22.26" fill="#b73b3b"/>
<rect x="1626.1" y="511.56" width="45.6" height="22.26" fill="#d9d9ec"/>
<rect x="1671.2" y="511.56" width="45.6" height="22.26" fill="#cccce6"/>
<rect x="1716.3" y="511.56" width="45.6" height="22.26" fill="#cd7575"/>
<rect x="1761.4" y="511.56" width="45.6" height="22.26" fill="#f5f5fa"/>
<rect x="1806.5" y="511.56" width="45.6" height="22.26" fill="#dbdbed"/>
<rect x="1301.4" y="533.32" width="45.7" height="22.26" fill="#dedeee"/>
<rect x="1346.6" y="533.32" width="45.7" height="22.26" fill="#b2b2d9"/>
<rect x="1391.8" y="533.32" width="45.7" height="22.26" fill="#fafafc"/>
<rect x="1437" y="533.32" width="45.7" height="22.26" fill="#e3e3f1"/>
<rect x="1482.2" y="533.32" width="45.7" height="22.26" fill="#5e5eaf"/>
<rect x="1527.4" y="533.32" width="48.2" height="22.26" fill="#a40505"/>
<rect x="1581" y="533.32" width="45.6" height="22.26" fill="#f8eded"/>
<rect x="1626.1" y="533.32" width="45.6" height="22.26" fill="#f4e0e0"/>
<rect x="1671.2" y="533.32" width="45.6" height="22.26" fill="#e8bfbf"/>
<rect x="1716.3" y="533.32" width="45.6" height="22.26" fill="#b0b0d8"/>
<rect x="1761.4" y="533.32" width="45.6" height="22.26" fill="#fcf7f7"/>
<rect x="1806.5" y="533.32" width="45.6" height="22.26" fill="#dedeee"/>
<rect x="1301.4" y="555.08" width="45.7" height="22.26" fill="#fcf7f7"/>
<rect x="1346.6" y="555.08" width="45.7" height="22.26" fill="#d58c8c"/>
<rect x="1391.8" y="555.08" width="45.7" height="22.26" fill="#d48a8a"/>
<rect x="1437" y="555.08" width="45.7" height="22.26" fill="#e7bdbd"/>
<rect x="1482.2" y="555.08" width="45.7" height="22.26" fill="#f0f0f7"/>
<rect x="1527.4" y="555.08" width="48.2" height="22.26" fill="#d99696"/>
<rect x="1581" y="555.08" width="45.6" height="22.26" fill="#4545a2"/>
<rect x="1626.1" y="555.08" width="45.6" height="22.26" fill="#bfbfdf"/>
<rect x="1671.2" y="555.08" width="45.6" height="22.26" fill="#eccccc"/>
<rect x="1716.3" y="555.08" width="45.6" height="22.26" fill="#5252a9"/>
<rect x="1761.4" y="555.08" width="45.6" height="22.26" fill="#d9d9ec"/>
<rect x="1806.5" y="555.08" width="45.6" height="22.26" fill="#c7c7e3"/>
<rect x="1301.4" y="576.84" width="45.7" height="22.26" fill="#c4c4e2"/>
<rect x="1346.6" y="576.84" width="45.7" height="22.26" fill="#eed1d1"/>
<rect x="1391.8" y="576.84" width="45.7" height="22.26" fill="#f5e3e3"/>
<rect x="1437" y="576.84" width="45.7" height="22.26" fill="#f5e3e3"/>
<rect x="1482.2" y="576.84" width="45.7" height="22.26" fill="#d68f8f"/>
<rect x="1527.4" y="576.84" width="48.2" height="22.26" fill="#fefcfc"/>
<rect x="1581" y="576.84" width="45.6" height="22.26" fill="#b8b8db"/>
<rect x="1626.1" y="576.84" width="45.6" height="22.26" fill="#f0f0f7"/>
<rect x="1671.2" y="576.84" width="45.6" height="22.26" fill="#e8e8f4"/>
<rect x="1716.3" y="576.84" width="45.6" height="22.26" fill="#4242a1"/>
<rect x="1761.4" y="576.84" width="45.6" height="22.26" fill="#8c8cc6"/>
<rect x="1806.5" y="576.84" width="45.6" height="22.26" fill="#b83d3d"/>
<rect x="1301.4" y="598.6" width="45.7" height="22.26" fill="#bfbfdf"/>
<rect x="1346.6" y="598.6" width="45.7" height="22.26" fill="#e4b5b5"/>
<rect x="1391.8" y="598.6" width="45.7" height="22.26" fill="#f0d6d6"/>
<rect x="1437" y="598.6" width="45.7" height="22.26" fill="#e4b5b5"/>
<rect x="1482.2" y="598.6" width="45.7" height="22.26" fill="#cf7a7a"/>
<rect x="1527.4" y="598.6" width="48.2" height="22.26" fill="#fcf7f7"/>
<rect x="1581" y="598.6" width="45.6" height="22.26" fill="#9999cc"/>
<rect x="1626.1" y="598.6" width="45.6" height="22.26" fill="#b0b0d8"/>
<rect x="1671.2" y="598.6" width="45.6" height="22.26" fill="#e6e6f2"/>
<rect x="1716.3" y="598.6" width="45.6" height="22.26" fill="#6969b4"/>
<rect x="1761.4" y="598.6" width="45.6" height="22.26" fill="#8080c0"/>
<rect x="1806.5" y="598.6" width="45.6" height="22.26" fill="#cd7575"/>
<rect x="1301.4" y="620.36" width="45.7" height="22.26" fill="#a1a1d0"/>
<rect x="1346.6" y="620.36" width="45.7" height="22.26" fill="#ebc9c9"/>
<rect x="1391.8" y="620.36" width="45.7" height="22.26" fill="#f2dbdb"/>
<rect x="1437" y="620.36" width="45.7" height="22.26" fill="#ffffff"/>
<rect x="1482.2" y="620.36" width="45.7" height="22.26" fill="#e4b5b5"/>
<rect x="1527.4" y="620.36" width="48.2" height="22.26" fill="#c45e5e"/>
<rect x="1581" y="620.36" width="45.6" height="22.26" fill="#7373b9"/>
<rect x="1626.1" y="620.36" width="45.6" height="22.26" fill="#d4d4e9"/>
<rect x="1671.2" y="620.36" width="45.6" height="22.26" fill="#ffffff"/>
<rect x="1716.3" y="620.36" width="45.6" height="22.26" fill="#4040a0"/>
<rect x="1761.4" y="620.36" width="45.6" height="22.26" fill="#dedeee"/>
<rect x="1806.5" y="620.36" width="45.6" height="22.26" fill="#d68f8f"/>
<rect x="1301.4" y="642.12" width="45.7" height="22.26" fill="#b2b2d9"/>
<rect x="1346.6" y="642.12" width="45.7" height="22.26" fill="#dea6a6"/>
<rect x="1391.8" y="642.12" width="45.7" height="22.26" fill="#eac4c4"/>
<rect x="1437" y="642.12" width="45.7" height="22.26" fill="#e6baba"/>
<rect x="1482.2" y="642.12" width="45.7" height="22.26" fill="#dfa8a8"/>
<rect x="1527.4" y="642.12" width="48.2" height="22.26" fill="#fbf5f5"/>
<rect x="1581" y="642.12" width="45.6" height="22.26" fill="#b2b2d9"/>
<rect x="1626.1" y="642.12" width="45.6" height="22.26" fill="#9494ca"/>
<rect x="1671.2" y="642.12" width="45.6" height="22.26" fill="#ebebf5"/>
<rect x="1716.3" y="642.12" width="45.6" height="22.26" fill="#6e6eb7"/>
<rect x="1761.4" y="642.12" width="45.6" height="22.26" fill="#8282c1"/>
<rect x="1806.5" y="642.12" width="45.6" height="22.26" fill="#c35c5c"/>
<rect x="1301.4" y="663.88" width="45.7" height="22.26" fill="#b2b2d9"/>
<rect x="1346.6" y="663.88" width="45.7" height="22.26" fill="#db9c9c"/>
<rect x="1391.8" y="663.88" width="45.7" height="22.26" fill="#e9c2c2"/>
<rect x="1437" y="663.88" width="45.7" height="22.26" fill="#e4b5b5"/>
<rect x="1482.2" y="663.88" width="45.7" height="22.26" fill="#d79191"/>
<rect x="1527.4" y="663.88" width="48.2" height="22.26" fill="#fefcfc"/>
<rect x="1581" y="663.88" width="45.6" height="22.26" fill="#a6a6d3"/>
<rect x="1626.1" y="663.88" width="45.6" height="22.26" fill="#a3a3d1"/>
<rect x="1671.2" y="663.88" width="45.6" height="22.26" fill="#ebebf5"/>
<rect x="1716.3" y="663.88" width="45.6" height="22.26" fill="#5c5cae"/>
<rect x="1761.4" y="663.88" width="45.6" height="22.26" fill="#7d7dbe"/>
<rect x="1806.5" y="663.88" width="45.6" height="22.26" fill="#d18282"/>
<rect x="1301.4" y="685.64" width="45.7" height="22.26" fill="#b2b2d9"/>
<rect x="1346.6" y="685.64" width="45.7" height="22.26" fill="#e1adad"/>
<rect x="1391.8" y="685.64" width="45.7" height="22.26" fill="#e9c2c2"/>
<rect x="1437" y="685.64" width="45.7" height="22.26" fill="#e2b0b0"/>
<rect x="1482.2" y="685.64" width="45.7" height="22.26" fill="#cf7a7a"/>
<rect x="1527.4" y="685.64" width="48.2" height="22.26" fill="#fbf5f5"/>
<rect x="1581" y="685.64" width="45.6" height="22.26" fill="#9c9ccd"/>
<rect x="1626.1" y="685.64" width="45.6" height="22.26" fill="#a1a1d0"/>
<rect x="1671.2" y="685.64" width="45.6" height="22.26" fill="#f0f0f7"/>
<rect x="1716.3" y="685.64" width="45.6" height="22.26" fill="#6666b3"/>
<rect x="1761.4" y="685.64" width="45.6" height="22.26" fill="#8080c0"/>
<rect x="1806.5" y="685.64" width="45.6" height="22.26" fill="#d48a8a"/>
<rect x="1301.4" y="707.4" width="45.7" height="22.26" fill="#fcfcfe"/>
<rect x="1346.6" y="707.4" width="45.7" height="22.26" fill="#d58c8c"/>
<rect x="1391.8" y="707.4" width="45.7" height="22.26" fill="#cf7a7a"/>
<rect x="1437" y="707.4" width="45.7" height="22.26" fill="#cfcfe7"/>
<rect x="1482.2" y="707.4" width="45.7" height="22.26" fill="#e7bdbd"/>
<rect x="1527.4" y="707.4" width="48.2" height="22.26" fill="#dedeee"/>
<rect x="1581" y="707.4" width="45.6" height="22.26" fill="#5252a9"/>
<rect x="1626.1" y="707.4" width="45.6" height="22.26" fill="#ededf6"/>
<rect x="1671.2" y="707.4" width="45.6" height="22.26" fill="#e3e3f1"/>
<rect x="1716.3" y="707.4" width="45.6" height="22.26" fill="#d38787"/>
<rect x="1761.4" y="707.4" width="45.6" height="22.26" fill="#5252a9"/>
<rect x="1806.5" y="707.4" width="45.6" height="22.26" fill="#ededf6"/>
<rect x="1301.4" y="729.16" width="45.7" height="22.26" fill="#ebebf5"/>
<rect x="1346.6" y="729.16" width="45.7" height="22.26" fill="#e0e0f0"/>
<rect x="1391.8" y="729.16" width="45.7" height="22.26" fill="#ffffff"/>
<rect x="1437" y="729.16" width="45.7" height="22.26" fill="#f6e6e6"/>
<rect x="1482.2" y="729.16" width="45.7" height="22.26" fill="#a6a6d3"/>
<rect x="1527.4" y="729.16" width="48.2" height="22.26" fill="#aa1717"/>
<rect x="1581" y="729.16" width="45.6" height="22.26" fill="#a1a1d0"/>
<rect x="1626.1" y="729.16" width="45.6" height="22.26" fill="#ebc7c7"/>
<rect x="1671.2" y="729.16" width="45.6" height="22.26" fill="#e8bfbf"/>
<rect x="1716.3" y="729.16" width="45.6" height="22.26" fill="#5757ab"/>
<rect x="1761.4" y="729.16" width="45.6" height="22.26" fill="#e8e8f4"/>
<rect x="1806.5" y="729.16" width="45.6" height="22.26" fill="#f2f2f9"/>
<rect x="1301.4" y="750.92" width="45.7" height="22.26" fill="#c7c7e3"/>
<rect x="1346.6" y="750.92" width="45.7" height="22.26" fill="#eed1d1"/>
<rect x="1391.8" y="750.92" width="45.7" height="22.26" fill="#f7e8e8"/>
<rect x="1437" y="750.92" width="45.7" height="22.26" fill="#e8bfbf"/>
<rect x="1482.2" y="750.92" width="45.7" height="22.26" fill="#d68f8f"/>
<rect x="1527.4" y="750.92" width="48.2" height="22.26" fill="#da9999"/>
<rect x="1581" y="750.92" width="45.6" height="22.26" fill="#8080c0"/>
<rect x="1626.1" y="750.92" width="45.6" height="22.26" fill="#f7f7fb"/>
<rect x="1671.2" y="750.92" width="45.6" height="22.26" fill="#fcf7f7"/>
<rect x="1716.3" y="750.92" width="45.6" height="22.26" fill="#1f1f8f"/>
<rect x="1761.4" y="750.92" width="45.6" height="22.26" fill="#8787c3"/>
<rect x="1806.5" y="750.92" width="45.6" height="22.26" fill="#dfa8a8"/>
<rect x="1301.4" y="772.68" width="45.7" height="22.26" fill="#8080c0"/>
<rect x="1346.6" y="772.68" width="45.7" height="22.26" fill="#ebebf5"/>
<rect x="1391.8" y="772.68" width="45.7" height="22.26" fill="#7878bc"/>
<rect x="1437" y="772.68" width="45.7" height="22.26" fill="#eac4c4"/>
<rect x="1482.2" y="772.68" width="45.7" height="22.26" fill="#d99696"/>
<rect x="1527.4" y="772.68" width="48.2" height="22.26" fill="#8a8ac5"/>
<rect x="1581" y="772.68" width="45.6" height="22.26" fill="#f2dbdb"/>
<rect x="1626.1" y="772.68" width="45.6" height="22.26" fill="#fafafc"/>
<rect x="1671.2" y="772.68" width="45.6" height="22.26" fill="#b2b2d9"/>
<rect x="1716.3" y="772.68" width="45.6" height="22.26" fill="#c35c5c"/>
<rect x="1761.4" y="772.68" width="45.6" height="22.26" fill="#c4c4e2"/>
<rect x="1806.5" y="772.68" width="45.6" height="22.26" fill="#d89494"/>
<rect x="1301.4" y="794.44" width="45.7" height="22.26" fill="#cccce6"/>
<rect x="1346.6" y="794.44" width="45.7" height="22.26" fill="#c7c7e3"/>
<rect x="1391.8" y="794.44" width="45.7" height="22.26" fill="#e2b0b0"/>
<rect x="1437" y="794.44" width="45.7" height="22.26" fill="#d6d6eb"/>
<rect x="1482.2" y="794.44" width="45.7" height="22.26" fill="#adadd6"/>
<rect x="1527.4" y="794.44" width="48.2" height="22.26" fill="#efd4d4"/>
<rect x="1581" y="794.44" width="45.6" height="22.26" fill="#6e6eb7"/>
<rect x="1626.1" y="794.44" width="45.6" height="22.26" fill="#e7bdbd"/>
<rect x="1671.2" y="794.44" width="45.6" height="22.26" fill="#f7e8e8"/>
<rect x="1716.3" y="794.44" width="45.6" height="22.26" fill="#9999cc"/>
<rect x="1761.4" y="794.44" width="45.6" height="22.26" fill="#e3e3f1"/>
<rect x="1806.5" y="794.44" width="45.6" height="22.26" fill="#af2424"/>
<rect x="1301.4" y="816.2" width="45.7" height="22.26" fill="#f0d6d6"/>
<rect x="1346.6" y="816.2" width="45.7" height="22.26" fill="#a6a6d3"/>
<rect x="1391.8" y="816.2" width="45.7" height="22.26" fill="#f2dbdb"/>
<rect x="1437" y="816.2" width="45.7" height="22.26" fill="#8f8fc7"/>
<rect x="1482.2" y="816.2" width="45.7" height="22.26" fill="#f2f2f9"/>
<rect x="1527.4" y="816.2" width="48.2" height="22.26" fill="#ffffff"/>
<rect x="1581" y="816.2" width="45.6" height="22.26" fill="#e6baba"/>
<rect x="1626.1" y="816.2" width="45.6" height="22.26" fill="#a3a3d1"/>
<rect x="1671.2" y="816.2" width="45.6" height="22.26" fill="#a1a1d0"/>
<rect x="1716.3" y="816.2" width="45.6" height="22.26" fill="#a91212"/>
<rect x="1761.4" y="816.2" width="45.6" height="22.26" fill="#b8b8db"/>
<rect x="1806.5" y="816.2" width="45.6" height="22.26" fill="#f8eded"/>
<rect x="1301.4" y="837.96" width="45.7" height="22.26" fill="#f7e8e8"/>
<rect x="1346.6" y="837.96" width="45.7" height="22.26" fill="#ffffff"/>
<rect x="1391.8" y="837.96" width="45.7" height="22.26" fill="#f8eded"/>
<rect x="1437" y="837.96" width="45.7" height="22.26" fill="#d6d6eb"/>
<rect x="1482.2" y="837.96" width="45.7" height="22.26" fill="#d9d9ec"/>
<rect x="1527.4" y="837.96" width="48.2" height="22.26" fill="#e8e8f4"/>
<rect x="1581" y="837.96" width="45.6" height="22.26" fill="#0f0f88"/>
<rect x="1626.1" y="837.96" width="45.6" height="22.26" fill="#ffffff"/>
<rect x="1671.2" y="837.96" width="45.6" height="22.26" fill="#f2f2f9"/>
<rect x="1716.3" y="837.96" width="45.6" height="22.26" fill="#ad1f1f"/>
<rect x="1761.4" y="837.96" width="45.6" height="22.26" fill="#f4e0e0"/>
<rect x="1806.5" y="837.96" width="45.6" height="22.26" fill="#ffffff"/>
<rect x="1301.4" y="859.72" width="45.7" height="22.26" fill="#9999cc"/>
<rect x="1346.6" y="859.72" width="45.7" height="22.26" fill="#dc9e9e"/>
<rect x="1391.8" y="859.72" width="45.7" height="22.26" fill="#f6e6e6"/>
<rect x="1437" y="859.72" width="45.7" height="22.26" fill="#f1d9d9"/>
<rect x="1482.2" y="859.72" width="45.7" height="22.26" fill="#f8ebeb"/>
<rect x="1527.4" y="859.72" width="48.2" height="22.26" fill="#f6e6e6"/>
<rect x="1581" y="859.72" width="45.6" height="22.26" fill="#4545a2"/>
<rect x="1626.1" y="859.72" width="45.6" height="22.26" fill="#faf2f2"/>
<rect x="1671.2" y="859.72" width="45.6" height="22.26" fill="#fbf5f5"/>
<rect x="1716.3" y="859.72" width="45.6" height="22.26" fill="#4545a2"/>
<rect x="1761.4" y="859.72" width="45.6" height="22.26" fill="#fefcfc"/>
<rect x="1806.5" y="859.72" width="45.6" height="22.26" fill="#c35c5c"/>
<rect x="1301.4" y="881.48" width="45.7" height="22.26" fill="#adadd6"/>
<rect x="1346.6" y="881.48" width="45.7" height="22.26" fill="#c7c7e3"/>
<rect x="1391.8" y="881.48" width="45.7" height="22.26" fill="#f8eded"/>
<rect x="1437" y="881.48" width="45.7" height="22.26" fill="#b2b2d9"/>
<rect x="1482.2" y="881.48" width="45.7" height="22.26" fill="#e6e6f2"/>
<rect x="1527.4" y="881.48" width="48.2" height="22.26" fill="#cfcfe7"/>
<rect x="1581" y="881.48" width="45.6" height="22.26" fill="#a60a0a"/>
<rect x="1626.1" y="881.48" width="45.6" height="22.26" fill="#f2f2f9"/>
<rect x="1671.2" y="881.48" width="45.6" height="22.26" fill="#e0e0f0"/>
<rect x="1716.3" y="881.48" width="45.6" height="22.26" fill="#d4d4e9"/>
<rect x="1761.4" y="881.48" width="45.6" height="22.26" fill="#b8b8db"/>
<rect x="1806.5" y="881.48" width="45.6" height="22.26" fill="#d18282"/>
<rect x="1301.4" y="903.24" width="45.7" height="22.26" fill="#c7c7e3"/>
<rect x="1346.6" y="903.24" width="45.7" height="22.26" fill="#5757ab"/>
<rect x="1391.8" y="903.24" width="45.7" height="22.26" fill="#ebc7c7"/>
<rect x="1437" y="903.24" width="45.7" height="22.26" fill="#7070b8"/>
<rect x="1482.2" y="903.24" width="45.7" height="22.26" fill="#8f8fc7"/>
<rect x="1527.4" y="903.24" width="48.2" height="22.26" fill="#dfa8a8"/>
<rect x="1581" y="903.24" width="45.6" height="22.26" fill="#9e9ecf"/>
<rect x="1626.1" y="903.24" width="45.6" height="22.26" fill="#e2b0b0"/>
<rect x="1671.2" y="903.24" width="45.6" height="22.26" fill="#f7e8e8"/>
<rect x="1716.3" y="903.24" width="45.6" height="22.26" fill="#f7e8e8"/>
<rect x="1761.4" y="903.24" width="45.6" height="22.26" fill="#d18282"/>
<rect x="1806.5" y="903.24" width="45.6" height="22.26" fill="#dea6a6"/>
<rect x="1301.4" y="925" width="45.7" height="22.26" fill="#bdbdde"/>
<rect x="1346.6" y="925" width="45.7" height="22.26" fill="#f3dede"/>
<rect x="1391.8" y="925" width="45.7" height="22.26" fill="#eccccc"/>
<rect x="1437" y="925" width="45.7" height="22.26" fill="#e9c2c2"/>
<rect x="1482.2" y="925" width="45.7" height="22.26" fill="#eccccc"/>
<rect x="1527.4" y="925" width="48.2" height="22.26" fill="#fcfcfe"/>
<rect x="1581" y="925" width="45.6" height="22.26" fill="#8f8fc7"/>
<rect x="1626.1" y="925" width="45.6" height="22.26" fill="#d4d4e9"/>
<rect x="1671.2" y="925" width="45.6" height="22.26" fill="#fdfafa"/>
<rect x="1716.3" y="925" width="45.6" height="22.26" fill="#5c5cae"/>
<rect x="1761.4" y="925" width="45.6" height="22.26" fill="#a1a1d0"/>
<rect x="1806.5" y="925" width="45.6" height="22.26" fill="#b32e2e"/>
<rect x="1301.4" y="946.76" width="45.7" height="22.26" fill="#c2c2e1"/>
<rect x="1346.6" y="946.76" width="45.7" height="22.26" fill="#f6e6e6"/>
<rect x="1391.8" y="946.76" width="45.7" height="22.26" fill="#eccccc"/>
<rect x="1437" y="946.76" width="45.7" height="22.26" fill="#eac4c4"/>
<rect x="1482.2" y="946.76" width="45.7" height="22.26" fill="#e5b8b8"/>
<rect x="1527.4" y="946.76" width="48.2" height="22.26" fill="#ffffff"/>
<rect x="1581" y="946.76" width="45.6" height="22.26" fill="#4545a2"/>
<rect x="1626.1" y="946.76" width="45.6" height="22.26" fill="#e0e0f0"/>
<rect x="1671.2" y="946.76" width="45.6" height="22.26" fill="#c4c4e2"/>
<rect x="1716.3" y="946.76" width="45.6" height="22.26" fill="#7a7abd"/>
<rect x="1761.4" y="946.76" width="45.6" height="22.26" fill="#f2f2f9"/>
<rect x="1806.5" y="946.76" width="45.6" height="22.26" fill="#b53333"/>
<rect x="1301.4" y="968.52" width="45.7" height="22.26" fill="#fcf7f7"/>
<rect x="1346.6" y="968.52" width="45.7" height="22.26" fill="#a1a1d0"/>
<rect x="1391.8" y="968.52" width="45.7" height="22.26" fill="#adadd6"/>
<rect x="1437" y="968.52" width="45.7" height="22.26" fill="#c9c9e4"/>
<rect x="1482.2" y="968.52" width="45.7" height="22.26" fill="#f2dbdb"/>
<rect x="1527.4" y="968.52" width="48.2" height="22.26" fill="#faf2f2"/>
<rect x="1581" y="968.52" width="45.6" height="22.26" fill="#1f1f8f"/>
<rect x="1626.1" y="968.52" width="45.6" height="22.26" fill="#cc7373"/>
<rect x="1671.2" y="968.52" width="45.6" height="22.26" fill="#fcfcfe"/>
<rect x="1716.3" y="968.52" width="45.6" height="22.26" fill="#cfcfe7"/>
<rect x="1761.4" y="968.52" width="45.6" height="22.26" fill="#cd7575"/>
<rect x="1806.5" y="968.52" width="45.6" height="22.26" fill="#dea6a6"/>
<rect x="1301.4" y="990.28" width="45.7" height="22.26" fill="#b2b2d9"/>
<rect x="1346.6" y="990.28" width="45.7" height="22.26" fill="#e1adad"/>
<rect x="1391.8" y="990.28" width="45.7" height="22.26" fill="#e8bfbf"/>
<rect x="1437" y="990.28" width="45.7" height="22.26" fill="#e9c2c2"/>
<rect x="1482.2" y="990.28" width="45.7" height="22.26" fill="#edcfcf"/>
<rect x="1527.4" y="990.28" width="48.2" height="22.26" fill="#ffffff"/>
<rect x="1581" y="990.28" width="45.6" height="22.26" fill="#b8b8db"/>
<rect x="1626.1" y="990.28" width="45.6" height="22.26" fill="#a3a3d1"/>
<rect x="1671.2" y="990.28" width="45.6" height="22.26" fill="#f5f5fa"/>
<rect x="1716.3" y="990.28" width="45.6" height="22.26" fill="#6666b3"/>
<rect x="1761.4" y="990.28" width="45.6" height="22.26" fill="#8c8cc6"/>
<rect x="1806.5" y="990.28" width="45.6" height="22.26" fill="#b63838"/>
<rect x="1301.4" y="1012.04" width="45.7" height="22.26" fill="#c9c9e4"/>
<rect x="1346.6" y="1012.04" width="45.7" height="22.26" fill="#d6d6eb"/>
<rect x="1391.8" y="1012.04" width="45.7" height="22.26" fill="#ededf6"/>
<rect x="1437" y="1012.04" width="45.7" height="22.26" fill="#ededf6"/>
<rect x="1482.2" y="1012.04" width="45.7" height="22.26" fill="#e2b0b0"/>
<rect x="1527.4" y="1012.04" width="48.2" height="22.26" fill="#eac4c4"/>
<rect x="1581" y="1012.04" width="45.6" height="22.26" fill="#4a4aa5"/>
<rect x="1626.1" y="1012.04" width="45.6" height="22.26" fill="#e5b8b8"/>
<rect x="1671.2" y="1012.04" width="45.6" height="22.26" fill="#f6e6e6"/>
<rect x="1716.3" y="1012.04" width="45.6" height="22.26" fill="#5757ab"/>
<rect x="1761.4" y="1012.04" width="45.6" height="22.26" fill="#f2f2f9"/>
<rect x="1806.5" y="1012.04" width="45.6" height="22.26" fill="#bd4a4a"/>
<rect x="1301.4" y="1033.8" width="45.7" height="22.26" fill="#9999cc"/>
<rect x="1346.6" y="1033.8" width="45.7" height="22.26" fill="#c2c2e1"/>
<rect x="1391.8" y="1033.8" width="45.7" height="22.26" fill="#6161b0"/>
<rect x="1437" y="1033.8" width="45.7" height="22.26" fill="#bfbfdf"/>
<rect x="1482.2" y="1033.8" width="45.7" height="22.26" fill="#ffffff"/>
<rect x="1527.4" y="1033.8" width="48.2" height="22.26" fill="#c76666"/>
<rect x="1581" y="1033.8" width="45.6" height="22.26" fill="#d9d9ec"/>
<rect x="1626.1" y="1033.8" width="45.6" height="22.26" fill="#c96b6b"/>
<rect x="1671.2" y="1033.8" width="45.6" height="22.26" fill="#e1adad"/>
<rect x="1716.3" y="1033.8" width="45.6" height="22.26" fill="#dedeee"/>
<rect x="1761.4" y="1033.8" width="45.6" height="22.26" fill="#e1adad"/>
<rect x="1806.5" y="1033.8" width="45.6" height="22.26" fill="#b2b2d9"/>
<rect x="1301.4" y="1055.56" width="45.7" height="22.26" fill="#b0b0d8"/>
<rect x="1346.6" y="1055.56" width="45.7" height="22.26" fill="#eac4c4"/>
<rect x="1391.8" y="1055.56" width="45.7" height="22.26" fill="#e4b5b5"/>
<rect x="1437" y="1055.56" width="45.7" height="22.26" fill="#f0d6d6"/>
<rect x="1482.2" y="1055.56" width="45.7" height="22.26" fill="#e8bfbf"/>
<rect x="1527.4" y="1055.56" width="48.2" height="22.26" fill="#fefcfc"/>
<rect x="1581" y="1055.56" width="45.6" height="22.26" fill="#ababd5"/>
<rect x="1626.1" y="1055.56" width="45.6" height="22.26" fill="#c9c9e4"/>
<rect x="1671.2" y="1055.56" width="45.6" height="22.26" fill="#f5f5fa"/>
<rect x="1716.3" y="1055.56" width="45.6" height="22.26" fill="#4c4ca6"/>
<rect x="1761.4" y="1055.56" width="45.6" height="22.26" fill="#8f8fc7"/>
<rect x="1806.5" y="1055.56" width="45.6" height="22.26" fill="#b83d3d"/>
<rect x="1301.4" y="1077.32" width="45.7" height="22.26" fill="#5252a9"/>
<rect x="1346.6" y="1077.32" width="45.7" height="22.26" fill="#c96b6b"/>
<rect x="1391.8" y="1077.32" width="45.7" height="22.26" fill="#faf2f2"/>
<rect x="1437" y="1077.32" width="45.7" height="22.26" fill="#b2b2d9"/>
<rect x="1482.2" y="1077.32" width="45.7" height="22.26" fill="#e8bfbf"/>
<rect x="1527.4" y="1077.32" width="48.2" height="22.26" fill="#cccce6"/>
<rect x="1581" y="1077.32" width="45.6" height="22.26" fill="#e7bdbd"/>
<rect x="1626.1" y="1077.32" width="45.6" height="22.26" fill="#f0f0f7"/>
<rect x="1671.2" y="1077.32" width="45.6" height="22.26" fill="#dedeee"/>
<rect x="1716.3" y="1077.32" width="45.6" height="22.26" fill="#fefcfc"/>
<rect x="1761.4" y="1077.32" width="45.6" height="22.26" fill="#5959ac"/>
<rect x="1806.5" y="1077.32" width="45.6" height="22.26" fill="#cd7575"/>
<rect x="1301.4" y="1099.08" width="45.7" height="22.26" fill="#ffffff"/>
<rect x="1346.6" y="1099.08" width="45.7" height="22.26" fill="#b32e2e"/>
<rect x="1391.8" y="1099.08" width="45.7" height="22.26" fill="#f5f5fa"/>
<rect x="1437" y="1099.08" width="45.7" height="22.26" fill="#8080c0"/>
<rect x="1482.2" y="1099.08" width="45.7" height="22.26" fill="#ffffff"/>
<rect x="1527.4" y="1099.08" width="48.2" height="22.26" fill="#a1a1d0"/>
<rect x="1581" y="1099.08" width="45.6" height="22.26" fill="#8c8cc6"/>
<rect x="1626.1" y="1099.08" width="45.6" height="22.26" fill="#c9c9e4"/>
<rect x="1671.2" y="1099.08" width="45.6" height="22.26" fill="#b5b5da"/>
<rect x="1716.3" y="1099.08" width="45.6" height="22.26" fill="#d99696"/>
<rect x="1761.4" y="1099.08" width="45.6" height="22.26" fill="#f9f0f0"/>
<rect x="1806.5" y="1099.08" width="45.6" height="22.26" fill="#e4b5b5"/>
<rect x="1301.4" y="1120.84" width="45.7" height="22.26" fill="#ffffff"/>
<rect x="1346.6" y="1120.84" width="45.7" height="22.26" fill="#ffffff"/>
<rect x="1391.8" y="1120.84" width="45.7" height="22.26" fill="#e4b5b5"/>
<rect x="1437" y="1120.84" width="45.7" height="22.26" fill="#eed1d1"/>
<rect x="1482.2" y="1120.84" width="45.7" height="22.26" fill="#fafafc"/>
<rect x="1527.4" y="1120.84" width="48.2" height="22.26" fill="#cfcfe7"/>
<rect x="1581" y="1120.84" width="45.6" height="22.26" fill="#5252a9"/>
<rect x="1626.1" y="1120.84" width="45.6" height="22.26" fill="#f0f0f7"/>
<rect x="1671.2" y="1120.84" width="45.6" height="22.26" fill="#b0b0d8"/>
<rect x="1716.3" y="1120.84" width="45.6" height="22.26" fill="#8c8cc6"/>
<rect x="1761.4" y="1120.84" width="45.6" height="22.26" fill="#f9f0f0"/>
<rect x="1806.5" y="1120.84" width="45.6" height="22.26" fill="#ad1f1f"/>
<rect x="1301.4" y="1142.6" width="45.7" height="22.26" fill="#babadd"/>
<rect x="1346.6" y="1142.6" width="45.7" height="22.26" fill="#ffffff"/>
<rect x="1391.8" y="1142.6" width="45.7" height="22.26" fill="#eac4c4"/>
<rect x="1437" y="1142.6" width="45.7" height="22.26" fill="#dedeee"/>
<rect x="1482.2" y="1142.6" width="45.7" height="22.26" fill="#efd4d4"/>
<rect x="1527.4" y="1142.6" width="48.2" height="22.26" fill="#d28585"/>
<rect x="1581" y="1142.6" width="45.6" height="22.26" fill="#4c4ca6"/>
<rect x="1626.1" y="1142.6" width="45.6" height="22.26" fill="#f5e3e3"/>
<rect x="1671.2" y="1142.6" width="45.6" height="22.26" fill="#ffffff"/>
<rect x="1716.3" y="1142.6" width="45.6" height="22.26" fill="#5959ac"/>
<rect x="1761.4" y="1142.6" width="45.6" height="22.26" fill="#c9c9e4"/>
<rect x="1806.5" y="1142.6" width="45.6" height="22.26" fill="#c25757"/>
<rect x="1301.4" y="1164.36" width="45.7" height="22.26" fill="#dedeee"/>
<rect x="1346.6" y="1164.36" width="45.7" height="22.26" fill="#d1d1e8"/>
<rect x="1391.8" y="1164.36" width="45.7" height="22.26" fill="#d4d4e9"/>
<rect x="1437" y="1164.36" width="45.7" height="22.26" fill="#f0f0f7"/>
<rect x="1482.2" y="1164.36" width="45.7" height="22.26" fill="#d38787"/>
<rect x="1527.4" y="1164.36" width="48.2" height="22.26" fill="#f1d9d9"/>
<rect x="1581" y="1164.36" width="45.6" height="22.26" fill="#1a1a8d"/>
<rect x="1626.1" y="1164.36" width="45.6" height="22.26" fill="#d79191"/>
<rect x="1671.2" y="1164.36" width="45.6" height="22.26" fill="#faf2f2"/>
<rect x="1716.3" y="1164.36" width="45.6" height="22.26" fill="#6b6bb5"/>
<rect x="1761.4" y="1164.36" width="45.6" height="22.26" fill="#f0d6d6"/>
<rect x="1806.5" y="1164.36" width="45.6" height="22.26" fill="#d68f8f"/>
<rect x="1301.4" y="1186.12" width="45.7" height="22.26" fill="#dfa8a8"/>
<rect x="1346.6" y="1186.12" width="45.7" height="22.26" fill="#b5b5da"/>
<rect x="1391.8" y="1186.12" width="45.7" height="22.26" fill="#bfbfdf"/>
<rect x="1437" y="1186.12" width="45.7" height="22.26" fill="#9999cc"/>
<rect x="1482.2" y="1186.12" width="45.7" height="22.26" fill="#f8eded"/>
<rect x="1527.4" y="1186.12" width="48.2" height="22.26" fill="#a1a1d0"/>
<rect x="1581" y="1186.12" width="45.6" height="22.26" fill="#d28585"/>
<rect x="1626.1" y="1186.12" width="45.6" height="22.26" fill="#b0b0d8"/>
<rect x="1671.2" y="1186.12" width="45.6" height="22.26" fill="#a8a8d4"/>
<rect x="1716.3" y="1186.12" width="45.6" height="22.26" fill="#e6baba"/>
<rect x="1761.4" y="1186.12" width="45.6" height="22.26" fill="#c9c9e4"/>
<rect x="1806.5" y="1186.12" width="45.6" height="22.26" fill="#be4c4c"/>
<rect x="1301.4" y="1207.88" width="45.7" height="22.26" fill="#dedeee"/>
<rect x="1346.6" y="1207.88" width="45.7" height="22.26" fill="#c7c7e3"/>
<rect x="1391.8" y="1207.88" width="45.7" height="22.26" fill="#eac4c4"/>
<rect x="1437" y="1207.88" width="45.7" height="22.26" fill="#a1a1d0"/>
<rect x="1482.2" y="1207.88" width="45.7" height="22.26" fill="#a3a3d1"/>
<rect x="1527.4" y="1207.88" width="48.2" height="22.26" fill="#b0b0d8"/>
<rect x="1581" y="1207.88" width="45.6" height="22.26" fill="#b32e2e"/>
<rect x="1626.1" y="1207.88" width="45.6" height="22.26" fill="#c2c2e1"/>
<rect x="1671.2" y="1207.88" width="45.6" height="22.26" fill="#b8b8db"/>
<rect x="1716.3" y="1207.88" width="45.6" height="22.26" fill="#cb7070"/>
<rect x="1761.4" y="1207.88" width="45.6" height="22.26" fill="#e8e8f4"/>
<rect x="1806.5" y="1207.88" width="45.6" height="22.26" fill="#f4e0e0"/>
<rect x="1301.4" y="1229.64" width="45.7" height="22.26" fill="#e8e8f4"/>
<rect x="1346.6" y="1229.64" width="45.7" height="22.26" fill="#9e9ecf"/>
<rect x="1391.8" y="1229.64" width="45.7" height="22.26" fill="#dedeee"/>
<rect x="1437" y="1229.64" width="45.7" height="22.26" fill="#c4c4e2"/>
<rect x="1482.2" y="1229.64" width="45.7" height="22.26" fill="#6b6bb5"/>
<rect x="1527.4" y="1229.64" width="48.2" height="22.26" fill="#b22b2b"/>
<rect x="1581" y="1229.64" width="45.6" height="22.26" fill="#e4b5b5"/>
<rect x="1626.1" y="1229.64" width="45.6" height="22.26" fill="#e7bdbd"/>
<rect x="1671.2" y="1229.64" width="45.6" height="22.26" fill="#e9c2c2"/>
<rect x="1716.3" y="1229.64" width="45.6" height="22.26" fill="#a8a8d4"/>
<rect x="1761.4" y="1229.64" width="45.6" height="22.26" fill="#f8ebeb"/>
<rect x="1806.5" y="1229.64" width="45.6" height="22.26" fill="#bfbfdf"/>
<rect x="1301.4" y="1251.4" width="45.7" height="22.26" fill="#c4c4e2"/>
<rect x="1346.6" y="1251.4" width="45.7" height="22.26" fill="#a1a1d0"/>
<rect x="1391.8" y="1251.4" width="45.7" height="22.26" fill="#c4c4e2"/>
<rect x="1437" y="1251.4" width="45.7" height="22.26" fill="#b2b2d9"/>
<rect x="1482.2" y="1251.4" width="45.7" height="22.26" fill="#babadd"/>
<rect x="1527.4" y="1251.4" width="48.2" height="22.26" fill="#d48a8a"/>
<rect x="1581" y="1251.4" width="45.6" height="22.26" fill="#b63838"/>
<rect x="1626.1" y="1251.4" width="45.6" height="22.26" fill="#f7e8e8"/>
<rect x="1671.2" y="1251.4" width="45.6" height="22.26" fill="#8f8fc7"/>
<rect x="1716.3" y="1251.4" width="45.6" height="22.26" fill="#e4b5b5"/>
<rect x="1761.4" y="1251.4" width="45.6" height="22.26" fill="#b8b8db"/>
<rect x="1806.5" y="1251.4" width="45.6" height="22.26" fill="#edcfcf"/>
<rect x="1301.4" y="1273.16" width="45.7" height="22.26" fill="#f7f7fb"/>
<rect x="1346.6" y="1273.16" width="45.7" height="22.26" fill="#6b6bb5"/>
<rect x="1391.8" y="1273.16" width="45.7" height="22.26" fill="#f0f0f7"/>
<rect x="1437" y="1273.16" width="45.7" height="22.26" fill="#cccce6"/>
<rect x="1482.2" y="1273.16" width="45.7" height="22.26" fill="#babadd"/>
<rect x="1527.4" y="1273.16" width="48.2" height="22.26" fill="#bd4a4a"/>
<rect x="1581" y="1273.16" width="45.6" height="22.26" fill="#b0b0d8"/>
<rect x="1626.1" y="1273.16" width="45.6" height="22.26" fill="#e8bfbf"/>
<rect x="1671.2" y="1273.16" width="45.6" height="22.26" fill="#e4b5b5"/>
<rect x="1716.3" y="1273.16" width="45.6" height="22.26" fill="#b0b0d8"/>
<rect x="1761.4" y="1273.16" width="45.6" height="22.26" fill="#d08080"/>
<rect x="1806.5" y="1273.16" width="45.6" height="22.26" fill="#b5b5da"/>
</g>
<rect x="1302.9" y="164.2" width="549.9" height="1131.5" fill="none" stroke="#000" stroke-width="5.6" stroke-linejoin="round"/>
<line x1="1577.6" y1="164" x2="1577.6" y2="1296" stroke="#000" stroke-width="6.1"/>
<line x1="1285" y1="174.48" x2="1300.6" y2="174.48" stroke="#000" stroke-width="6"/>
<text x="1254.2" y="184.38" font-size="28" text-anchor="end" fill="#000">C10:0</text>
<line x1="1285" y1="196.24" x2="1300.6" y2="196.24" stroke="#000" stroke-width="6"/>
<text x="1254.2" y="206.14" font-size="28" text-anchor="end" fill="#000">C12:0</text>
<line x1="1285" y1="218" x2="1300.6" y2="218" stroke="#000" stroke-width="6"/>
<text x="1254.2" y="227.9" font-size="28" text-anchor="end" fill="#000">C14:0</text>
<line x1="1285" y1="239.76" x2="1300.6" y2="239.76" stroke="#000" stroke-width="6"/>
<text x="1254.2" y="249.66" font-size="28" text-anchor="end" fill="#000">C15:0</text>
<line x1="1285" y1="261.52" x2="1300.6" y2="261.52" stroke="#000" stroke-width="6"/>
<text x="1254.2" y="271.42" font-size="28" text-anchor="end" fill="#000">C16:0</text>
<line x1="1285" y1="283.28" x2="1300.6" y2="283.28" stroke="#000" stroke-width="6"/>
<text x="1254.2" y="293.18" font-size="28" text-anchor="end" fill="#000">C17:0</text>
<line x1="1285" y1="305.04" x2="1300.6" y2="305.04" stroke="#000" stroke-width="6"/>
<text x="1254.2" y="314.94" font-size="28" text-anchor="end" fill="#000">C18:0</text>
<line x1="1285" y1="326.8" x2="1300.6" y2="326.8" stroke="#000" stroke-width="6"/>
<text x="1254.2" y="336.7" font-size="28" text-anchor="end" fill="#000">C20:0</text>
<text x="1267.5" y="348.3" font-size="44.5" text-anchor="middle" fill="#000" stroke="#000" stroke-width="0.7">*</text>
<line x1="1285" y1="348.56" x2="1300.6" y2="348.56" stroke="#000" stroke-width="6"/>
<text x="1254.2" y="358.46" font-size="28" text-anchor="end" fill="#000">C22:0</text>
<text x="1267.5" y="370.06" font-size="44.5" text-anchor="middle" fill="#000" stroke="#000" stroke-width="0.7">*</text>
<line x1="1285" y1="370.32" x2="1300.6" y2="370.32" stroke="#000" stroke-width="6"/>
<text x="1254.2" y="380.22" font-size="28" text-anchor="end" fill="#000">C23:0</text>
<text x="1267.5" y="391.82" font-size="44.5" text-anchor="middle" fill="#000" stroke="#000" stroke-width="0.7">*</text>
<line x1="1285" y1="392.08" x2="1300.6" y2="392.08" stroke="#000" stroke-width="6"/>
<text x="1254.2" y="401.98" font-size="28" text-anchor="end" fill="#000">C24:0</text>
<text x="1267.5" y="413.58" font-size="44.5" text-anchor="middle" fill="#000" stroke="#000" stroke-width="0.7">*</text>
<line x1="1285" y1="413.84" x2="1300.6" y2="413.84" stroke="#000" stroke-width="6"/>
<text x="1254.2" y="423.74" font-size="28" text-anchor="end" fill="#000">C25:0</text>
<text x="1267.5" y="435.34" font-size="44.5" text-anchor="middle" fill="#000" stroke="#000" stroke-width="0.7">*</text>
<line x1="1285" y1="435.6" x2="1300.6" y2="435.6" stroke="#000" stroke-width="6"/>
<text x="1254.2" y="445.5" font-size="28" text-anchor="end" fill="#000">C26:0</text>
<text x="1267.5" y="457.1" font-size="44.5" text-anchor="middle" fill="#000" stroke="#000" stroke-width="0.7">*</text>
<line x1="1285" y1="457.36" x2="1300.6" y2="457.36" stroke="#000" stroke-width="6"/>
<text x="1254.2" y="467.26" font-size="28" text-anchor="end" fill="#000">C28:0</text>
<line x1="1285" y1="479.12" x2="1300.6" y2="479.12" stroke="#000" stroke-width="6"/>
<text x="1254.2" y="489.02" font-size="28" text-anchor="end" fill="#000">C30:0</text>
<text x="1267.5" y="500.62" font-size="44.5" text-anchor="middle" fill="#000" stroke="#000" stroke-width="0.7">*</text>
<line x1="1285" y1="500.88" x2="1300.6" y2="500.88" stroke="#000" stroke-width="6"/>
<text x="1254.2" y="510.78" font-size="28" text-anchor="end" fill="#000">C10:1</text>
<line x1="1285" y1="522.64" x2="1300.6" y2="522.64" stroke="#000" stroke-width="6"/>
<text x="1254.2" y="532.54" font-size="28" text-anchor="end" fill="#000">C12:1</text>
<line x1="1285" y1="544.4" x2="1300.6" y2="544.4" stroke="#000" stroke-width="6"/>
<text x="1254.2" y="554.3" font-size="28" text-anchor="end" fill="#000">C16:1(n-9)</text>
<line x1="1285" y1="566.16" x2="1300.6" y2="566.16" stroke="#000" stroke-width="6"/>
<text x="1254.2" y="576.06" font-size="28" text-anchor="end" fill="#000">C17:1</text>
<text x="1267.5" y="587.66" font-size="44.5" text-anchor="middle" fill="#000" stroke="#000" stroke-width="0.7">*</text>
<line x1="1285" y1="587.92" x2="1300.6" y2="587.92" stroke="#000" stroke-width="6"/>
<text x="1254.2" y="597.82" font-size="28" text-anchor="end" fill="#000">C18:1(n-9)</text>
<line x1="1285" y1="609.68" x2="1300.6" y2="609.68" stroke="#000" stroke-width="6"/>
<text x="1254.2" y="619.58" font-size="28" text-anchor="end" fill="#000">C20:1(n-9)</text>
<line x1="1285" y1="631.44" x2="1300.6" y2="631.44" stroke="#000" stroke-width="6"/>
<text x="1254.2" y="641.34" font-size="28" text-anchor="end" fill="#000">C20:3(n-9)</text>
<line x1="1285" y1="653.2" x2="1300.6" y2="653.2" stroke="#000" stroke-width="6"/>
<text x="1254.2" y="663.1" font-size="28" text-anchor="end" fill="#000">C22:1(n-9)</text>
<line x1="1285" y1="674.96" x2="1300.6" y2="674.96" stroke="#000" stroke-width="6"/>
<text x="1254.2" y="684.86" font-size="28" text-anchor="end" fill="#000">C24:1(n-9)</text>
<line x1="1285" y1="696.72" x2="1300.6" y2="696.72" stroke="#000" stroke-width="6"/>
<text x="1254.2" y="706.62" font-size="28" text-anchor="end" fill="#000">C26:1 total</text>
<line x1="1285" y1="718.48" x2="1300.6" y2="718.48" stroke="#000" stroke-width="6"/>
<text x="1254.2" y="728.38" font-size="28" text-anchor="end" fill="#000">C14:1</text>
<line x1="1285" y1="740.24" x2="1300.6" y2="740.24" stroke="#000" stroke-width="6"/>
<text x="1254.2" y="750.14" font-size="28" text-anchor="end" fill="#000">C16:1(n-7)</text>
<line x1="1285" y1="762" x2="1300.6" y2="762" stroke="#000" stroke-width="6"/>
<text x="1254.2" y="771.9" font-size="28" text-anchor="end" fill="#000">C18:1(n-7)</text>
<line x1="1285" y1="783.76" x2="1300.6" y2="783.76" stroke="#000" stroke-width="6"/>
<text x="1254.2" y="793.66" font-size="28" text-anchor="end" fill="#000">C18:1(n-5)</text>
<line x1="1285" y1="805.52" x2="1300.6" y2="805.52" stroke="#000" stroke-width="6"/>
<text x="1254.2" y="815.42" font-size="28" text-anchor="end" fill="#000">C20:3(n-7)</text>
<line x1="1285" y1="827.28" x2="1300.6" y2="827.28" stroke="#000" stroke-width="6"/>
<text x="1254.2" y="837.18" font-size="28" text-anchor="end" fill="#000">C14:2</text>
<line x1="1285" y1="849.04" x2="1300.6" y2="849.04" stroke="#000" stroke-width="6"/>
<text x="1254.2" y="858.94" font-size="28" text-anchor="end" fill="#000">C16:2</text>
<line x1="1285" y1="870.8" x2="1300.6" y2="870.8" stroke="#000" stroke-width="6"/>
<text x="1254.2" y="880.7" font-size="28" text-anchor="end" fill="#000">C18:2(n-6)</text>
<line x1="1285" y1="892.56" x2="1300.6" y2="892.56" stroke="#000" stroke-width="6"/>
<text x="1249.6" y="902.46" font-size="28" text-anchor="end" fill="#000">C18:2(n-6)Conj</text>
<line x1="1285" y1="914.32" x2="1300.6" y2="914.32" stroke="#000" stroke-width="6"/>
<text x="1254.2" y="924.22" font-size="28" text-anchor="end" fill="#000">C18:3(n-6)</text>
<line x1="1285" y1="936.08" x2="1300.6" y2="936.08" stroke="#000" stroke-width="6"/>
<text x="1254.2" y="945.98" font-size="28" text-anchor="end" fill="#000">C20:2(n-6)</text>
<line x1="1285" y1="957.84" x2="1300.6" y2="957.84" stroke="#000" stroke-width="6"/>
<text x="1254.2" y="967.74" font-size="28" text-anchor="end" fill="#000">C20:3(n-6)</text>
<line x1="1285" y1="979.6" x2="1300.6" y2="979.6" stroke="#000" stroke-width="6"/>
<text x="1254.2" y="989.5" font-size="28" text-anchor="end" fill="#000">C20:4(n-6)</text>
<line x1="1285" y1="1001.36" x2="1300.6" y2="1001.36" stroke="#000" stroke-width="6"/>
<text x="1254.2" y="1011.26" font-size="28" text-anchor="end" fill="#000">C22:2(n-6)</text>
<line x1="1285" y1="1023.12" x2="1300.6" y2="1023.12" stroke="#000" stroke-width="6"/>
<text x="1254.2" y="1033.02" font-size="28" text-anchor="end" fill="#000">C22:4(n-6)</text>
<line x1="1285" y1="1044.88" x2="1300.6" y2="1044.88" stroke="#000" stroke-width="6"/>
<text x="1254.2" y="1054.78" font-size="28" text-anchor="end" fill="#000">C22:5(n-6)</text>
<line x1="1285" y1="1066.64" x2="1300.6" y2="1066.64" stroke="#000" stroke-width="6"/>
<text x="1254.2" y="1076.54" font-size="28" text-anchor="end" fill="#000">C24:2</text>
<line x1="1285" y1="1088.4" x2="1300.6" y2="1088.4" stroke="#000" stroke-width="6"/>
<text x="1254.2" y="1098.3" font-size="28" text-anchor="end" fill="#000">C26:2</text>
<line x1="1285" y1="1110.16" x2="1300.6" y2="1110.16" stroke="#000" stroke-width="6"/>
<text x="1254.2" y="1120.06" font-size="28" text-anchor="end" fill="#000">C18:3(n-3)</text>
<line x1="1285" y1="1131.92" x2="1300.6" y2="1131.92" stroke="#000" stroke-width="6"/>
<text x="1254.2" y="1141.82" font-size="28" text-anchor="end" fill="#000">C20:5(n-3)</text>
<line x1="1285" y1="1153.68" x2="1300.6" y2="1153.68" stroke="#000" stroke-width="6"/>
<text x="1254.2" y="1163.58" font-size="28" text-anchor="end" fill="#000">C22:5(n-3)</text>
<line x1="1285" y1="1175.44" x2="1300.6" y2="1175.44" stroke="#000" stroke-width="6"/>
<text x="1254.2" y="1185.34" font-size="28" text-anchor="end" fill="#000">C22:6(n-3)</text>
<line x1="1285" y1="1197.2" x2="1300.6" y2="1197.2" stroke="#000" stroke-width="6"/>
<text x="1254.2" y="1207.1" font-size="28" text-anchor="end" fill="#000">pristanic</text>
<line x1="1285" y1="1218.96" x2="1300.6" y2="1218.96" stroke="#000" stroke-width="6"/>
<text x="1254.2" y="1228.86" font-size="28" text-anchor="end" fill="#000">phytanic</text>
<line x1="1285" y1="1240.72" x2="1300.6" y2="1240.72" stroke="#000" stroke-width="6"/>
<text x="1254.2" y="1250.62" font-size="28" text-anchor="end" fill="#000">C16:1 trans</text>
<line x1="1285" y1="1262.48" x2="1300.6" y2="1262.48" stroke="#000" stroke-width="6"/>
<text x="1254.2" y="1272.38" font-size="28" text-anchor="end" fill="#000">C18:1 trans</text>
<line x1="1285" y1="1284.24" x2="1300.6" y2="1284.24" stroke="#000" stroke-width="6"/>
<text x="1254.2" y="1294.14" font-size="28" text-anchor="end" fill="#000">C18:2 trans</text>
<rect x="1306.75" y="115.35" width="262.2" height="37.6" fill="#d4d4d4" stroke="#231f20" stroke-width="4.3"/>
<rect x="1586.25" y="115.35" width="262.5" height="37.6" fill="#4466ff" stroke="#231f20" stroke-width="4.3"/>
<text x="1438.3" y="142.1" font-size="28" text-anchor="middle" fill="#000">Nx</text>
<text x="1717.6" y="142.1" font-size="28" text-anchor="middle" fill="#fff">IHx</text>
<text x="1576.2" y="64.3" font-size="28.4" text-anchor="middle" font-weight="bold" fill="#000">P30</text>
<text x="1579.1" y="99.3" font-size="28.2" text-anchor="middle" font-weight="bold" fill="#000">% of Total Fatty Acids</text>
<defs><linearGradient id="cb1008" x1="0" y1="0" x2="0" y2="1">
<stop offset="0" stop-color="#a60a0a"/><stop offset="0.55" stop-color="#ffffff"/><stop offset="1" stop-color="#3a3aa0"/>
</linearGradient></defs>
<rect x="1870.8" y="164.3" width="28.4" height="263.4" fill="url(#cb1008)" stroke="#000" stroke-width="5.2" stroke-linejoin="round"/>
<line x1="1872.2" y1="208.1" x2="1877.2" y2="208.1" stroke="#000" stroke-width="3.6"/>
<line x1="1892.8" y1="208.1" x2="1897.8" y2="208.1" stroke="#000" stroke-width="3.6"/>
<text x="1907.7" y="216.1" font-size="26" text-anchor="start" fill="#000">2</text>
<line x1="1872.2" y1="308.7" x2="1877.2" y2="308.7" stroke="#000" stroke-width="3.6"/>
<line x1="1892.8" y1="308.7" x2="1897.8" y2="308.7" stroke="#000" stroke-width="3.6"/>
<text x="1907.7" y="315.5" font-size="26" text-anchor="start" fill="#000">0</text>
<line x1="1872.2" y1="409.2" x2="1877.2" y2="409.2" stroke="#000" stroke-width="3.6"/>
<line x1="1892.8" y1="409.2" x2="1897.8" y2="409.2" stroke="#000" stroke-width="3.6"/>
<text x="1907.7" y="414.1" font-size="26" text-anchor="start" fill="#000">-2</text>
<text x="1866.6" y="144" font-size="28" text-anchor="start" fill="#000">Z-Score</text>
<text x="181.6" y="100" font-size="28" text-anchor="start" fill="#000">Male</text>
<g fill="none" stroke="#231f20" stroke-width="3.5">
<circle cx="261.5" cy="94.5" r="11.9"/>
<path d="M266.3 83.61 L274.99 63.93"/>
<path d="M278.87 80.48 L274.99 63.93 L260.15 72.22" stroke-linejoin="miter" stroke-miterlimit="10"/>
</g>
<text x="1155.6" y="100" font-size="28" text-anchor="start" fill="#000">Female</text>
<g fill="none" stroke="#231f20" stroke-width="3.4">
<circle cx="1269.6" cy="83.7" r="11.8"/>
<path d="M1269.6 95.5 V118.1 M1257.15 106.3 H1282.05"/>
</g>
<text x="2.8" y="29.2" font-size="40" text-anchor="start" font-weight="bold" fill="#000">a</text>
<text x="1005.5" y="29" font-size="40" text-anchor="start" font-weight="bold" fill="#000">b</text>
<text x="-1.2" y="1383.1" font-size="40" text-anchor="start" font-weight="bold" fill="#000">c</text>
<text x="1004.3" y="1383.1" font-size="40" text-anchor="start" font-weight="bold" fill="#000">d</text>
<text x="2" y="1876" font-size="40" text-anchor="start" font-weight="bold" fill="#000">e</text>
<text x="1012.5" y="1876" font-size="40" text-anchor="start" font-weight="bold" fill="#000">f</text>
<rect x="262.15" y="1463.55" width="33.6" height="259.95" fill="#e8e8e8" stroke="#000" stroke-width="3.1"/>
<rect x="301.55" y="1461.25" width="33.4" height="262.25" fill="#c7d0fd" stroke="#000" stroke-width="3.1"/>
<rect x="361.95" y="1577.55" width="33.4" height="145.95" fill="#e8e8e8" stroke="#000" stroke-width="3.1"/>
<rect x="400.75" y="1593.35" width="33.4" height="130.15" fill="#c7d0fd" stroke="#000" stroke-width="3.1"/>
<rect x="460.85" y="1698.55" width="33.6" height="24.95" fill="#e8e8e8" stroke="#000" stroke-width="3.1"/>
<rect x="499.85" y="1701.25" width="33.4" height="22.25" fill="#c7d0fd" stroke="#000" stroke-width="3.1"/>
<rect x="559.95" y="1614.55" width="33.6" height="108.95" fill="#e8e8e8" stroke="#000" stroke-width="3.1"/>
<rect x="598.85" y="1607.15" width="33.6" height="116.35" fill="#c7d0fd" stroke="#000" stroke-width="3.1"/>
<rect x="659.15" y="1639.85" width="33.6" height="83.65" fill="#e8e8e8" stroke="#000" stroke-width="3.1"/>
<rect x="698.25" y="1640.55" width="33.4" height="82.95" fill="#c7d0fd" stroke="#000" stroke-width="3.1"/>
<line x1="279" y1="1460.4" x2="279" y2="1463.5" stroke="#000" stroke-width="2.9"/>
<line x1="274.4" y1="1460.4" x2="283.6" y2="1460.4" stroke="#000" stroke-width="2.9"/>
<line x1="274.4" y1="1463.5" x2="283.6" y2="1463.5" stroke="#000" stroke-width="2.9"/>
<line x1="318.1" y1="1458.4" x2="318.1" y2="1461.5" stroke="#000" stroke-width="2.9"/>
<line x1="313.5" y1="1458.4" x2="322.7" y2="1458.4" stroke="#000" stroke-width="2.9"/>
<line x1="313.5" y1="1461.5" x2="322.7" y2="1461.5" stroke="#000" stroke-width="2.9"/>
<line x1="378.5" y1="1574.5" x2="378.5" y2="1578.2" stroke="#000" stroke-width="2.9"/>
<line x1="373.9" y1="1574.5" x2="383.1" y2="1574.5" stroke="#000" stroke-width="2.9"/>
<line x1="373.9" y1="1578.2" x2="383.1" y2="1578.2" stroke="#000" stroke-width="2.9"/>
<line x1="417.3" y1="1589.5" x2="417.3" y2="1596.5" stroke="#000" stroke-width="2.9"/>
<line x1="412.7" y1="1589.5" x2="421.9" y2="1589.5" stroke="#000" stroke-width="2.9"/>
<line x1="412.7" y1="1596.5" x2="421.9" y2="1596.5" stroke="#000" stroke-width="2.9"/>
<line x1="477.5" y1="1696.8" x2="477.5" y2="1698.8" stroke="#000" stroke-width="2.9"/>
<line x1="472.9" y1="1696.8" x2="482.1" y2="1696.8" stroke="#000" stroke-width="2.9"/>
<line x1="472.9" y1="1698.8" x2="482.1" y2="1698.8" stroke="#000" stroke-width="2.9"/>
<line x1="516.6" y1="1699.3" x2="516.6" y2="1701.3" stroke="#000" stroke-width="2.9"/>
<line x1="512" y1="1699.3" x2="521.2" y2="1699.3" stroke="#000" stroke-width="2.9"/>
<line x1="512" y1="1701.3" x2="521.2" y2="1701.3" stroke="#000" stroke-width="2.9"/>
<line x1="576.8" y1="1611.9" x2="576.8" y2="1614.7" stroke="#000" stroke-width="2.9"/>
<line x1="572.2" y1="1611.9" x2="581.4" y2="1611.9" stroke="#000" stroke-width="2.9"/>
<line x1="572.2" y1="1614.7" x2="581.4" y2="1614.7" stroke="#000" stroke-width="2.9"/>
<line x1="615.7" y1="1603.4" x2="615.7" y2="1607" stroke="#000" stroke-width="2.9"/>
<line x1="611.1" y1="1603.4" x2="620.3" y2="1603.4" stroke="#000" stroke-width="2.9"/>
<line x1="611.1" y1="1607" x2="620.3" y2="1607" stroke="#000" stroke-width="2.9"/>
<line x1="676" y1="1635" x2="676" y2="1641" stroke="#000" stroke-width="2.9"/>
<line x1="671.4" y1="1635" x2="680.6" y2="1635" stroke="#000" stroke-width="2.9"/>
<line x1="671.4" y1="1641" x2="680.6" y2="1641" stroke="#000" stroke-width="2.9"/>
<line x1="715" y1="1635.6" x2="715" y2="1641.5" stroke="#000" stroke-width="2.9"/>
<line x1="710.4" y1="1635.6" x2="719.6" y2="1635.6" stroke="#000" stroke-width="2.9"/>
<line x1="710.4" y1="1641.5" x2="719.6" y2="1641.5" stroke="#000" stroke-width="2.9"/>
<rect x="258" y="1512.9" width="80.5" height="14" fill="#fff"/>
<line x1="225.5" y1="1723.5" x2="768.5" y2="1723.5" stroke="#000" stroke-width="5.6"/>
<line x1="269.8" y1="1575.4" x2="288.2" y2="1575.4" stroke="#000" stroke-width="3"/>
<line x1="279" y1="1566.8" x2="279" y2="1584" stroke="#000" stroke-width="3"/>
<line x1="275.9" y1="1566.8" x2="282.1" y2="1566.8" stroke="#000" stroke-width="3"/>
<line x1="275.9" y1="1584" x2="282.1" y2="1584" stroke="#000" stroke-width="3"/>
<line x1="308.8" y1="1544.9" x2="327.2" y2="1544.9" stroke="#000" stroke-width="3"/>
<line x1="318" y1="1528.7" x2="318" y2="1561.1" stroke="#000" stroke-width="3"/>
<line x1="314.9" y1="1528.7" x2="321.1" y2="1528.7" stroke="#000" stroke-width="3"/>
<line x1="314.9" y1="1561.1" x2="321.1" y2="1561.1" stroke="#000" stroke-width="3"/>
<line x1="368.8" y1="1670" x2="387.2" y2="1670" stroke="#000" stroke-width="3"/>
<line x1="378" y1="1667" x2="378" y2="1673" stroke="#000" stroke-width="3"/>
<line x1="374.9" y1="1667" x2="381.1" y2="1667" stroke="#000" stroke-width="3"/>
<line x1="374.9" y1="1673" x2="381.1" y2="1673" stroke="#000" stroke-width="3"/>
<line x1="408" y1="1667.7" x2="426.4" y2="1667.7" stroke="#000" stroke-width="3"/>
<line x1="417.2" y1="1663.7" x2="417.2" y2="1671.7" stroke="#000" stroke-width="3"/>
<line x1="414.1" y1="1663.7" x2="420.3" y2="1663.7" stroke="#000" stroke-width="3"/>
<line x1="414.1" y1="1671.7" x2="420.3" y2="1671.7" stroke="#000" stroke-width="3"/>
<line x1="567.8" y1="1684" x2="586.2" y2="1684" stroke="#000" stroke-width="3"/>
<line x1="577" y1="1681.5" x2="577" y2="1686.5" stroke="#000" stroke-width="3"/>
<line x1="573.9" y1="1681.5" x2="580.1" y2="1681.5" stroke="#000" stroke-width="3"/>
<line x1="573.9" y1="1686.5" x2="580.1" y2="1686.5" stroke="#000" stroke-width="3"/>
<line x1="606.2" y1="1673.8" x2="624.6" y2="1673.8" stroke="#000" stroke-width="3"/>
<line x1="615.4" y1="1668.8" x2="615.4" y2="1678.8" stroke="#000" stroke-width="3"/>
<line x1="612.3" y1="1668.8" x2="618.5" y2="1668.8" stroke="#000" stroke-width="3"/>
<line x1="612.3" y1="1678.8" x2="618.5" y2="1678.8" stroke="#000" stroke-width="3"/>
<line x1="666.8" y1="1692" x2="685.2" y2="1692" stroke="#000" stroke-width="3"/>
<line x1="676" y1="1689.5" x2="676" y2="1694.5" stroke="#000" stroke-width="3"/>
<line x1="672.9" y1="1689.5" x2="679.1" y2="1689.5" stroke="#000" stroke-width="3"/>
<line x1="672.9" y1="1694.5" x2="679.1" y2="1694.5" stroke="#000" stroke-width="3"/>
<line x1="705.4" y1="1688.1" x2="723.8" y2="1688.1" stroke="#000" stroke-width="3"/>
<line x1="714.6" y1="1684.1" x2="714.6" y2="1692.1" stroke="#000" stroke-width="3"/>
<line x1="711.5" y1="1684.1" x2="717.7" y2="1684.1" stroke="#000" stroke-width="3"/>
<line x1="711.5" y1="1692.1" x2="717.7" y2="1692.1" stroke="#000" stroke-width="3"/>
<g fill="#646464">
<circle cx="273" cy="1555.5" r="6.1"/>
<circle cx="279.7" cy="1555.5" r="6.1"/>
<circle cx="286" cy="1564.5" r="6.1"/>
<circle cx="279" cy="1582.8" r="6.1"/>
<circle cx="272.5" cy="1597.9" r="6.1"/>
<circle cx="286" cy="1595.6" r="6.1"/>
</g>
<g fill="#4466ff">
<circle cx="311.3" cy="1499.9" r="6.1"/>
<circle cx="325.2" cy="1500.5" r="6.1"/>
<circle cx="318" cy="1533.7" r="6.1"/>
<circle cx="311.3" cy="1563.4" r="6.1"/>
<circle cx="325.2" cy="1579.9" r="6.1"/>
<circle cx="311.3" cy="1591.6" r="6.1"/>
</g>
<g fill="#646464">
<circle cx="377.7" cy="1656.5" r="6.1"/>
<circle cx="374.4" cy="1664.8" r="6.1"/>
<circle cx="381.1" cy="1664.8" r="6.1"/>
<circle cx="376.6" cy="1672.3" r="6.1"/>
<circle cx="371" cy="1679.7" r="6.1"/>
<circle cx="384.5" cy="1680.6" r="6.1"/>
</g>
<g fill="#4466ff">
<circle cx="417.2" cy="1652" r="6.1"/>
<circle cx="413.8" cy="1664.4" r="6.1"/>
<circle cx="420.6" cy="1664.4" r="6.1"/>
<circle cx="417.2" cy="1672.3" r="6.1"/>
<circle cx="410.4" cy="1679" r="6.1"/>
<circle cx="423.9" cy="1680.6" r="6.1"/>
</g>
<g fill="#646464">
<circle cx="470.1" cy="1715.1" r="6.1"/>
<circle cx="474" cy="1712.8" r="6.1"/>
<circle cx="478" cy="1713.5" r="6.1"/>
<circle cx="481.4" cy="1715.1" r="6.1"/>
<circle cx="484.8" cy="1713.5" r="6.1"/>
<circle cx="478" cy="1716.7" r="6.1"/>
</g>
<g fill="#4466ff">
<circle cx="508.9" cy="1715.7" r="6.1"/>
<circle cx="512.3" cy="1711.7" r="6.1"/>
<circle cx="516.3" cy="1713.5" r="6.1"/>
<circle cx="520.4" cy="1715.1" r="6.1"/>
<circle cx="523.8" cy="1712.1" r="6.1"/>
<circle cx="516.3" cy="1716.2" r="6.1"/>
</g>
<g fill="#646464">
<circle cx="572.6" cy="1673.8" r="6.1"/>
<circle cx="569.6" cy="1682.9" r="6.1"/>
<circle cx="576.5" cy="1686.1" r="6.1"/>
<circle cx="583.2" cy="1681.2" r="6.1"/>
<circle cx="569.6" cy="1689.9" r="6.1"/>
<circle cx="580.7" cy="1691.9" r="6.1"/>
</g>
<g fill="#4466ff">
<circle cx="615.4" cy="1653.4" r="6.1"/>
<circle cx="611.7" cy="1664.6" r="6.1"/>
<circle cx="618.7" cy="1670" r="6.1"/>
<circle cx="615.4" cy="1676.2" r="6.1"/>
<circle cx="608.7" cy="1686.6" r="6.1"/>
<circle cx="622.1" cy="1686.6" r="6.1"/>
</g>
<g fill="#646464">
<circle cx="671.7" cy="1681.9" r="6.1"/>
<circle cx="668.7" cy="1691.1" r="6.1"/>
<circle cx="676.7" cy="1689.9" r="6.1"/>
<circle cx="682.4" cy="1692.8" r="6.1"/>
<circle cx="670" cy="1697.3" r="6.1"/>
<circle cx="679.9" cy="1699.8" r="6.1"/>
</g>
<g fill="#4466ff">
<circle cx="714.6" cy="1669.5" r="6.1"/>
<circle cx="710.9" cy="1683.7" r="6.1"/>
<circle cx="718.3" cy="1684.9" r="6.1"/>
<circle cx="714.6" cy="1689.9" r="6.1"/>
<circle cx="707.9" cy="1697.3" r="6.1"/>
<circle cx="721.3" cy="1698" r="6.1"/>
</g>
<line x1="242" y1="1445.8" x2="242" y2="1726.3" stroke="#000" stroke-width="5.6"/>
<line x1="225.5" y1="1723.5" x2="242" y2="1723.5" stroke="#000" stroke-width="5.5"/>
<text x="219.4" y="1733.2" font-size="28" text-anchor="end" font-weight="bold" fill="#000">0</text>
<line x1="225.5" y1="1654.78" x2="242" y2="1654.78" stroke="#000" stroke-width="5.5"/>
<text x="219.4" y="1664.48" font-size="28" text-anchor="end" font-weight="bold" fill="#000">1</text>
<line x1="225.5" y1="1586.06" x2="242" y2="1586.06" stroke="#000" stroke-width="5.5"/>
<text x="219.4" y="1595.76" font-size="28" text-anchor="end" font-weight="bold" fill="#000">2</text>
<line x1="225.5" y1="1517.34" x2="242" y2="1517.34" stroke="#000" stroke-width="5.5"/>
<text x="219.4" y="1527.04" font-size="28" text-anchor="end" font-weight="bold" fill="#000">3</text>
<line x1="225.5" y1="1448.62" x2="242" y2="1448.62" stroke="#000" stroke-width="5.5"/>
<text x="219.4" y="1458.32" font-size="28" text-anchor="end" font-weight="bold" fill="#000">4</text>
<line x1="298" y1="1723.5" x2="298" y2="1740" stroke="#000" stroke-width="5.6"/>
<line x1="397.8" y1="1723.5" x2="397.8" y2="1740" stroke="#000" stroke-width="5.6"/>
<line x1="496.5" y1="1723.5" x2="496.5" y2="1740" stroke="#000" stroke-width="5.6"/>
<line x1="595.6" y1="1723.5" x2="595.6" y2="1740" stroke="#000" stroke-width="5.6"/>
<line x1="694.8" y1="1723.5" x2="694.8" y2="1740" stroke="#000" stroke-width="5.6"/>
<line x1="751.5" y1="1445.7" x2="751.5" y2="1513.1" stroke="#000" stroke-width="5.6"/>
<line x1="751.5" y1="1526.9" x2="751.5" y2="1726.3" stroke="#000" stroke-width="5.6"/>
<line x1="737.5" y1="1513.1" x2="765.9" y2="1513.1" stroke="#000" stroke-width="5.6"/>
<line x1="737.5" y1="1526.9" x2="765.9" y2="1526.9" stroke="#000" stroke-width="5.6"/>
<line x1="751.5" y1="1448.2" x2="768.5" y2="1448.2" stroke="#000" stroke-width="5.5"/>
<text x="780.3" y="1458" font-size="28" text-anchor="start" fill="#808080">60</text>
<line x1="751.5" y1="1485.8" x2="768.5" y2="1485.8" stroke="#000" stroke-width="5.5"/>
<text x="780.3" y="1495.6" font-size="28" text-anchor="start" fill="#808080">40</text>
<text x="780.3" y="1537.2" font-size="28" text-anchor="start" fill="#808080">25</text>
<line x1="751.5" y1="1566.7" x2="768.5" y2="1566.7" stroke="#000" stroke-width="5.5"/>
<text x="780.3" y="1576.5" font-size="28" text-anchor="start" fill="#808080">20</text>
<line x1="751.5" y1="1606" x2="768.5" y2="1606" stroke="#000" stroke-width="5.5"/>
<text x="780.3" y="1615.8" font-size="28" text-anchor="start" fill="#808080">15</text>
<line x1="751.5" y1="1645.2" x2="768.5" y2="1645.2" stroke="#000" stroke-width="5.5"/>
<text x="780.3" y="1655" font-size="28" text-anchor="start" fill="#808080">10</text>
<line x1="751.5" y1="1684.4" x2="768.5" y2="1684.4" stroke="#000" stroke-width="5.5"/>
<text x="780.3" y="1694.2" font-size="28" text-anchor="start" fill="#808080">5</text>
<line x1="751.5" y1="1723.5" x2="768.5" y2="1723.5" stroke="#000" stroke-width="5.5"/>
<text x="780.3" y="1733.3" font-size="28" text-anchor="start" fill="#808080">0</text>
<text x="0" y="0" font-size="28" text-anchor="middle" fill="#808080" transform="translate(843.4 1581) rotate(90)">% of total FA</text>
<text x="0" y="0" font-size="28" text-anchor="middle" font-weight="bold" fill="#000" transform="translate(173.4 1585.5) rotate(-90)">FA/total lipid (ug)</text>
<path d="M378.9 1554.6 V1534.4 H417.7 V1576" fill="none" stroke="#808080" stroke-width="3.4" stroke-linejoin="round"/>
<text x="397.3" y="1543.9" font-size="44.5" text-anchor="middle" fill="#808080" stroke="#808080" stroke-width="0.7">*</text>
<path d="M577.5 1599.4 V1558 H615.7 V1590.7" fill="none" stroke="#808080" stroke-width="3.4" stroke-linejoin="round"/>
<text x="595.6" y="1564.6" font-size="44.5" text-anchor="middle" fill="#808080" stroke="#808080" stroke-width="0.7">*</text>
<text x="298.4" y="1772.3" font-size="28" text-anchor="middle" fill="#000">Sat.</text>
<text x="397.8" y="1772.3" font-size="28" text-anchor="middle" fill="#000">ω9</text>
<text x="497" y="1772.3" font-size="28" text-anchor="middle" fill="#000">ω5-7</text>
<text x="596.7" y="1772.3" font-size="28" text-anchor="middle" fill="#000">ω6</text>
<text x="696" y="1772.3" font-size="28" text-anchor="middle" fill="#000">ω3</text>
<line x1="371.4" y1="1786.2" x2="739.2" y2="1786.2" stroke="#000" stroke-width="5.4"/>
<text x="546" y="1825.8" font-size="28" text-anchor="middle" fill="#000">Unsaturated</text>
<g fill="none" stroke="#231f20" stroke-width="3.5">
<circle cx="50.4" cy="1422.8" r="11.9"/>
<path d="M55.2 1411.91 L63.89 1392.23"/>
<path d="M67.77 1408.78 L63.89 1392.23 L49.05 1400.52" stroke-linejoin="miter" stroke-miterlimit="10"/>
</g>
<g fill="#5c5d5f">
<circle cx="92.9" cy="1407.6" r="7.9"/>
</g>
<g fill="#4466ff">
<circle cx="92.9" cy="1439.5" r="7.9"/>
</g>
<text x="106.8" y="1416.6" font-size="28" text-anchor="start" fill="#000">Nx</text>
<text x="106.8" y="1448.7" font-size="28" text-anchor="start" fill="#000">IHx</text>
<rect x="873.9" y="1391.8" width="19.8" height="19.8" fill="#e6e7e8" stroke="#231f20" stroke-width="3.6"/>
<rect x="873.9" y="1424.7" width="19.8" height="19.8" fill="#7c91fc" stroke="#231f20" stroke-width="3.6"/>
<text x="898.9" y="1412.9" font-size="28" text-anchor="start" fill="#000">Nx</text>
<text x="898.9" y="1444.8" font-size="28" text-anchor="start" fill="#000">IHx</text>
<rect x="1308.75" y="1466.05" width="33.6" height="257.45" fill="#e8e8e8" stroke="#000" stroke-width="3.1"/>
<rect x="1348.15" y="1463.75" width="33.4" height="259.75" fill="#c7d0fd" stroke="#000" stroke-width="3.1"/>
<rect x="1407.85" y="1575.35" width="33.7" height="148.15" fill="#e8e8e8" stroke="#000" stroke-width="3.1"/>
<rect x="1446.85" y="1584.75" width="33.9" height="138.75" fill="#c7d0fd" stroke="#000" stroke-width="3.1"/>
<rect x="1507.05" y="1698.15" width="33.6" height="25.35" fill="#e8e8e8" stroke="#000" stroke-width="3.1"/>
<rect x="1546.05" y="1700.15" width="33.8" height="23.35" fill="#c7d0fd" stroke="#000" stroke-width="3.1"/>
<rect x="1606.55" y="1609.55" width="33.5" height="113.95" fill="#e8e8e8" stroke="#000" stroke-width="3.1"/>
<rect x="1645.65" y="1607.15" width="33.5" height="116.35" fill="#c7d0fd" stroke="#000" stroke-width="3.1"/>
<rect x="1705.75" y="1638.75" width="33.2" height="84.75" fill="#e8e8e8" stroke="#000" stroke-width="3.1"/>
<rect x="1745.05" y="1639.95" width="33" height="83.55" fill="#c7d0fd" stroke="#000" stroke-width="3.1"/>
<line x1="1325.5" y1="1462.7" x2="1325.5" y2="1465.5" stroke="#000" stroke-width="2.9"/>
<line x1="1320.9" y1="1462.7" x2="1330.1" y2="1462.7" stroke="#000" stroke-width="2.9"/>
<line x1="1320.9" y1="1465.5" x2="1330.1" y2="1465.5" stroke="#000" stroke-width="2.9"/>
<line x1="1364.5" y1="1458.2" x2="1364.5" y2="1465.6" stroke="#000" stroke-width="2.9"/>
<line x1="1359.9" y1="1458.2" x2="1369.1" y2="1458.2" stroke="#000" stroke-width="2.9"/>
<line x1="1359.9" y1="1465.6" x2="1369.1" y2="1465.6" stroke="#000" stroke-width="2.9"/>
<line x1="1424.7" y1="1570.9" x2="1424.7" y2="1577.1" stroke="#000" stroke-width="2.9"/>
<line x1="1420.1" y1="1570.9" x2="1429.3" y2="1570.9" stroke="#000" stroke-width="2.9"/>
<line x1="1420.1" y1="1577.1" x2="1429.3" y2="1577.1" stroke="#000" stroke-width="2.9"/>
<line x1="1463.7" y1="1577.1" x2="1463.7" y2="1589.3" stroke="#000" stroke-width="2.9"/>
<line x1="1459.1" y1="1577.1" x2="1468.3" y2="1577.1" stroke="#000" stroke-width="2.9"/>
<line x1="1459.1" y1="1589.3" x2="1468.3" y2="1589.3" stroke="#000" stroke-width="2.9"/>
<line x1="1523.7" y1="1696" x2="1523.7" y2="1698" stroke="#000" stroke-width="2.9"/>
<line x1="1519.1" y1="1696" x2="1528.3" y2="1696" stroke="#000" stroke-width="2.9"/>
<line x1="1519.1" y1="1698" x2="1528.3" y2="1698" stroke="#000" stroke-width="2.9"/>
<line x1="1562.9" y1="1697.7" x2="1562.9" y2="1700" stroke="#000" stroke-width="2.9"/>
<line x1="1558.3" y1="1697.7" x2="1567.5" y2="1697.7" stroke="#000" stroke-width="2.9"/>
<line x1="1558.3" y1="1700" x2="1567.5" y2="1700" stroke="#000" stroke-width="2.9"/>
<line x1="1622.8" y1="1606.5" x2="1622.8" y2="1609.7" stroke="#000" stroke-width="2.9"/>
<line x1="1618.2" y1="1606.5" x2="1627.4" y2="1606.5" stroke="#000" stroke-width="2.9"/>
<line x1="1618.2" y1="1609.7" x2="1627.4" y2="1609.7" stroke="#000" stroke-width="2.9"/>
<line x1="1662" y1="1600.6" x2="1662" y2="1610.2" stroke="#000" stroke-width="2.9"/>
<line x1="1657.4" y1="1600.6" x2="1666.6" y2="1600.6" stroke="#000" stroke-width="2.9"/>
<line x1="1657.4" y1="1610.2" x2="1666.6" y2="1610.2" stroke="#000" stroke-width="2.9"/>
<line x1="1722.5" y1="1633.7" x2="1722.5" y2="1639.4" stroke="#000" stroke-width="2.9"/>
<line x1="1717.9" y1="1633.7" x2="1727.1" y2="1633.7" stroke="#000" stroke-width="2.9"/>
<line x1="1717.9" y1="1639.4" x2="1727.1" y2="1639.4" stroke="#000" stroke-width="2.9"/>
<line x1="1761.3" y1="1632.5" x2="1761.3" y2="1643.2" stroke="#000" stroke-width="2.9"/>
<line x1="1756.7" y1="1632.5" x2="1765.9" y2="1632.5" stroke="#000" stroke-width="2.9"/>
<line x1="1756.7" y1="1643.2" x2="1765.9" y2="1643.2" stroke="#000" stroke-width="2.9"/>
<rect x="1304.5" y="1512.9" width="80.5" height="14" fill="#fff"/>
<line x1="1272.1" y1="1723.5" x2="1814.8" y2="1723.5" stroke="#000" stroke-width="5.6"/>
<line x1="1316" y1="1552.8" x2="1334.4" y2="1552.8" stroke="#000" stroke-width="3"/>
<line x1="1325.2" y1="1536.8" x2="1325.2" y2="1568.8" stroke="#000" stroke-width="3"/>
<line x1="1320.8" y1="1536.8" x2="1329.6" y2="1536.8" stroke="#000" stroke-width="3"/>
<line x1="1320.8" y1="1568.8" x2="1329.6" y2="1568.8" stroke="#000" stroke-width="3"/>
<line x1="1354.8" y1="1549.4" x2="1373.2" y2="1549.4" stroke="#000" stroke-width="3"/>
<line x1="1364" y1="1537" x2="1364" y2="1561.8" stroke="#000" stroke-width="3"/>
<line x1="1359.6" y1="1537" x2="1368.4" y2="1537" stroke="#000" stroke-width="3"/>
<line x1="1359.6" y1="1561.8" x2="1368.4" y2="1561.8" stroke="#000" stroke-width="3"/>
<line x1="1415.3" y1="1661" x2="1433.7" y2="1661" stroke="#000" stroke-width="3"/>
<line x1="1424.5" y1="1655.5" x2="1424.5" y2="1666.5" stroke="#000" stroke-width="3"/>
<line x1="1420.1" y1="1655.5" x2="1428.9" y2="1655.5" stroke="#000" stroke-width="3"/>
<line x1="1420.1" y1="1666.5" x2="1428.9" y2="1666.5" stroke="#000" stroke-width="3"/>
<line x1="1454.8" y1="1663.2" x2="1473.2" y2="1663.2" stroke="#000" stroke-width="3"/>
<line x1="1464" y1="1657.2" x2="1464" y2="1669.2" stroke="#000" stroke-width="3"/>
<line x1="1459.6" y1="1657.2" x2="1468.4" y2="1657.2" stroke="#000" stroke-width="3"/>
<line x1="1459.6" y1="1669.2" x2="1468.4" y2="1669.2" stroke="#000" stroke-width="3"/>
<line x1="1613.8" y1="1675" x2="1632.2" y2="1675" stroke="#000" stroke-width="3"/>
<line x1="1623" y1="1671" x2="1623" y2="1679" stroke="#000" stroke-width="3"/>
<line x1="1618.6" y1="1671" x2="1627.4" y2="1671" stroke="#000" stroke-width="3"/>
<line x1="1618.6" y1="1679" x2="1627.4" y2="1679" stroke="#000" stroke-width="3"/>
<line x1="1652.8" y1="1673.1" x2="1671.2" y2="1673.1" stroke="#000" stroke-width="3"/>
<line x1="1662" y1="1667.1" x2="1662" y2="1679.1" stroke="#000" stroke-width="3"/>
<line x1="1657.6" y1="1667.1" x2="1666.4" y2="1667.1" stroke="#000" stroke-width="3"/>
<line x1="1657.6" y1="1679.1" x2="1666.4" y2="1679.1" stroke="#000" stroke-width="3"/>
<line x1="1712.8" y1="1688" x2="1731.2" y2="1688" stroke="#000" stroke-width="3"/>
<line x1="1722" y1="1685" x2="1722" y2="1691" stroke="#000" stroke-width="3"/>
<line x1="1717.6" y1="1685" x2="1726.4" y2="1685" stroke="#000" stroke-width="3"/>
<line x1="1717.6" y1="1691" x2="1726.4" y2="1691" stroke="#000" stroke-width="3"/>
<line x1="1751.8" y1="1686.7" x2="1770.2" y2="1686.7" stroke="#000" stroke-width="3"/>
<line x1="1761" y1="1681.7" x2="1761" y2="1691.7" stroke="#000" stroke-width="3"/>
<line x1="1756.6" y1="1681.7" x2="1765.4" y2="1681.7" stroke="#000" stroke-width="3"/>
<line x1="1756.6" y1="1691.7" x2="1765.4" y2="1691.7" stroke="#000" stroke-width="3"/>
<g fill="#646464">
<path d="M1325.2 1478 L1331.5 1490.2 L1318.9 1490.2Z"/>
<path d="M1318.5 1540 L1324.8 1552.2 L1312.2 1552.2Z"/>
<path d="M1332 1552.4 L1338.3 1564.6 L1325.7 1564.6Z"/>
<path d="M1325.2 1558 L1331.5 1570.2 L1318.9 1570.2Z"/>
<path d="M1332 1576.7 L1338.3 1588.9 L1325.7 1588.9Z"/>
<path d="M1318.5 1582.8 L1324.8 1595 L1312.2 1595Z"/>
</g>
<g fill="#4466ff">
<path d="M1361.3 1511.8 L1367.6 1524 L1355 1524Z"/>
<path d="M1368 1527.6 L1374.3 1539.8 L1361.7 1539.8Z"/>
<path d="M1363.5 1539.3 L1369.8 1551.5 L1357.2 1551.5Z"/>
<path d="M1370.3 1539.3 L1376.6 1551.5 L1364 1551.5Z"/>
<path d="M1357.9 1549 L1364.2 1561.2 L1351.6 1561.2Z"/>
<path d="M1364.2 1598.5 L1370.5 1610.7 L1357.9 1610.7Z"/>
</g>
<g fill="#646464">
<path d="M1424.8 1630.1 L1431.1 1642.3 L1418.5 1642.3Z"/>
<path d="M1418.1 1660.1 L1424.4 1672.3 L1411.8 1672.3Z"/>
<path d="M1422.1 1657.1 L1428.4 1669.3 L1415.8 1669.3Z"/>
<path d="M1426.2 1656 L1432.5 1668.2 L1419.9 1668.2Z"/>
<path d="M1428.9 1659.4 L1435.2 1671.6 L1422.6 1671.6Z"/>
<path d="M1431.1 1667.7 L1437.4 1679.9 L1424.8 1679.9Z"/>
</g>
<g fill="#4466ff">
<path d="M1463.8 1633.5 L1470.1 1645.7 L1457.5 1645.7Z"/>
<path d="M1463.8 1645.9 L1470.1 1658.1 L1457.5 1658.1Z"/>
<path d="M1457 1654.2 L1463.3 1666.4 L1450.7 1666.4Z"/>
<path d="M1470.6 1661.6 L1476.9 1673.8 L1464.3 1673.8Z"/>
<path d="M1466 1663.9 L1472.3 1676.1 L1459.7 1676.1Z"/>
<path d="M1460 1685.3 L1466.3 1697.5 L1453.7 1697.5Z"/>
</g>
<g fill="#646464">
<path d="M1519.5 1702.4 L1525.8 1714.6 L1513.2 1714.6Z"/>
<path d="M1525.2 1706.4 L1531.5 1718.6 L1518.9 1718.6Z"/>
<path d="M1530.1 1707.3 L1536.4 1719.5 L1523.8 1719.5Z"/>
<path d="M1516.2 1707.6 L1522.5 1719.8 L1509.9 1719.8Z"/>
<path d="M1522 1707.6 L1528.3 1719.8 L1515.7 1719.8Z"/>
<path d="M1533.4 1707.6 L1539.7 1719.8 L1527.1 1719.8Z"/>
</g>
<g fill="#4466ff">
<path d="M1557.9 1704 L1564.2 1716.2 L1551.6 1716.2Z"/>
<path d="M1563.6 1704.3 L1569.9 1716.5 L1557.3 1716.5Z"/>
<path d="M1569.3 1705.6 L1575.6 1717.8 L1563 1717.8Z"/>
<path d="M1553.8 1707.6 L1560.1 1719.8 L1547.5 1719.8Z"/>
<path d="M1572.6 1707.6 L1578.9 1719.8 L1566.3 1719.8Z"/>
<path d="M1566.4 1711.7 L1572.7 1723.9 L1560.1 1723.9Z"/>
</g>
<g fill="#646464">
<path d="M1623.1 1652.1 L1629.4 1664.3 L1616.8 1664.3Z"/>
<path d="M1615.6 1673.7 L1621.9 1685.9 L1609.3 1685.9Z"/>
<path d="M1621.8 1668.2 L1628.1 1680.4 L1615.5 1680.4Z"/>
<path d="M1626.8 1671.9 L1633.1 1684.1 L1620.5 1684.1Z"/>
<path d="M1623.1 1674.4 L1629.4 1686.6 L1616.8 1686.6Z"/>
<path d="M1629.7 1680.6 L1636 1692.8 L1623.4 1692.8Z"/>
</g>
<g fill="#4466ff">
<path d="M1655.2 1653.4 L1661.5 1665.6 L1648.9 1665.6Z"/>
<path d="M1661.9 1658.3 L1668.2 1670.5 L1655.6 1670.5Z"/>
<path d="M1668.8 1658.3 L1675.1 1670.5 L1662.5 1670.5Z"/>
<path d="M1661.9 1668.2 L1668.2 1680.4 L1655.6 1680.4Z"/>
<path d="M1668.8 1676.1 L1675.1 1688.3 L1662.5 1688.3Z"/>
<path d="M1655.2 1689.2 L1661.5 1701.4 L1648.9 1701.4Z"/>
</g>
<g fill="#646464">
<path d="M1717.8 1669.5 L1724.1 1681.7 L1711.5 1681.7Z"/>
<path d="M1715.3 1684.3 L1721.6 1696.5 L1709 1696.5Z"/>
<path d="M1722 1681.8 L1728.3 1694 L1715.7 1694Z"/>
<path d="M1729.4 1680.6 L1735.7 1692.8 L1723.1 1692.8Z"/>
<path d="M1722 1686 L1728.3 1698.2 L1715.7 1698.2Z"/>
<path d="M1725.7 1690 L1732 1702.2 L1719.4 1702.2Z"/>
</g>
<g fill="#4466ff">
<path d="M1754.1 1668.2 L1760.4 1680.4 L1747.8 1680.4Z"/>
<path d="M1760.8 1673.2 L1767.1 1685.4 L1754.5 1685.4Z"/>
<path d="M1767.8 1673.2 L1774.1 1685.4 L1761.5 1685.4Z"/>
<path d="M1760.8 1681.8 L1767.1 1694 L1754.5 1694Z"/>
<path d="M1767.8 1690.5 L1774.1 1702.7 L1761.5 1702.7Z"/>
<path d="M1754.1 1698.6 L1760.4 1710.8 L1747.8 1710.8Z"/>
</g>
<line x1="1288.6" y1="1445.8" x2="1288.6" y2="1726.3" stroke="#000" stroke-width="5.6"/>
<line x1="1272.1" y1="1723.5" x2="1288.6" y2="1723.5" stroke="#000" stroke-width="5.5"/>
<text x="1266" y="1733.2" font-size="28" text-anchor="end" font-weight="bold" fill="#000">0</text>
<line x1="1272.1" y1="1654.78" x2="1288.6" y2="1654.78" stroke="#000" stroke-width="5.5"/>
<text x="1266" y="1664.48" font-size="28" text-anchor="end" font-weight="bold" fill="#000">1</text>
<line x1="1272.1" y1="1586.06" x2="1288.6" y2="1586.06" stroke="#000" stroke-width="5.5"/>
<text x="1266" y="1595.76" font-size="28" text-anchor="end" font-weight="bold" fill="#000">2</text>
<line x1="1272.1" y1="1517.34" x2="1288.6" y2="1517.34" stroke="#000" stroke-width="5.5"/>
<text x="1266" y="1527.04" font-size="28" text-anchor="end" font-weight="bold" fill="#000">3</text>
<line x1="1272.1" y1="1448.62" x2="1288.6" y2="1448.62" stroke="#000" stroke-width="5.5"/>
<text x="1266" y="1458.32" font-size="28" text-anchor="end" font-weight="bold" fill="#000">4</text>
<line x1="1344.3" y1="1723.5" x2="1344.3" y2="1740" stroke="#000" stroke-width="5.6"/>
<line x1="1443.5" y1="1723.5" x2="1443.5" y2="1740" stroke="#000" stroke-width="5.6"/>
<line x1="1542.8" y1="1723.5" x2="1542.8" y2="1740" stroke="#000" stroke-width="5.6"/>
<line x1="1641.8" y1="1723.5" x2="1641.8" y2="1740" stroke="#000" stroke-width="5.6"/>
<line x1="1741" y1="1723.5" x2="1741" y2="1740" stroke="#000" stroke-width="5.6"/>
<line x1="1797.8" y1="1445.7" x2="1797.8" y2="1513.1" stroke="#000" stroke-width="5.6"/>
<line x1="1797.8" y1="1526.9" x2="1797.8" y2="1726.3" stroke="#000" stroke-width="5.6"/>
<line x1="1783.8" y1="1513.1" x2="1812.2" y2="1513.1" stroke="#000" stroke-width="5.6"/>
<line x1="1783.8" y1="1526.9" x2="1812.2" y2="1526.9" stroke="#000" stroke-width="5.6"/>
<line x1="1797.8" y1="1448.2" x2="1814.8" y2="1448.2" stroke="#000" stroke-width="5.5"/>
<text x="1826.6" y="1455.1" font-size="28" text-anchor="start" fill="#808080">60</text>
<line x1="1797.8" y1="1485.8" x2="1814.8" y2="1485.8" stroke="#000" stroke-width="5.5"/>
<text x="1826.6" y="1492.7" font-size="28" text-anchor="start" fill="#808080">40</text>
<text x="1826.6" y="1534.3" font-size="28" text-anchor="start" fill="#808080">25</text>
<line x1="1797.8" y1="1566.7" x2="1814.8" y2="1566.7" stroke="#000" stroke-width="5.5"/>
<text x="1826.6" y="1573.6" font-size="28" text-anchor="start" fill="#808080">20</text>
<line x1="1797.8" y1="1606" x2="1814.8" y2="1606" stroke="#000" stroke-width="5.5"/>
<text x="1826.6" y="1612.9" font-size="28" text-anchor="start" fill="#808080">15</text>
<line x1="1797.8" y1="1645.2" x2="1814.8" y2="1645.2" stroke="#000" stroke-width="5.5"/>
<text x="1826.6" y="1652.1" font-size="28" text-anchor="start" fill="#808080">10</text>
<line x1="1797.8" y1="1684.4" x2="1814.8" y2="1684.4" stroke="#000" stroke-width="5.5"/>
<text x="1826.6" y="1691.3" font-size="28" text-anchor="start" fill="#808080">5</text>
<line x1="1797.8" y1="1723.5" x2="1814.8" y2="1723.5" stroke="#000" stroke-width="5.5"/>
<text x="1826.6" y="1730.4" font-size="28" text-anchor="start" fill="#808080">0</text>
<text x="0" y="0" font-size="28" text-anchor="middle" fill="#808080" transform="translate(1890.4 1581) rotate(90)">% of total FA</text>
<text x="0" y="0" font-size="28" text-anchor="middle" font-weight="bold" fill="#000" transform="translate(1218 1585.5) rotate(-90)">FA/total lipid (ug)</text>
<text x="1345.6" y="1772.3" font-size="28" text-anchor="middle" fill="#000">Sat.</text>
<text x="1445" y="1772.3" font-size="28" text-anchor="middle" fill="#000">ω9</text>
<text x="1544.2" y="1772.3" font-size="28" text-anchor="middle" fill="#000">ω5-7</text>
<text x="1643.8" y="1772.3" font-size="28" text-anchor="middle" fill="#000">ω6</text>
<text x="1743" y="1772.3" font-size="28" text-anchor="middle" fill="#000">ω3</text>
<line x1="1417.5" y1="1786.2" x2="1785.3" y2="1786.2" stroke="#000" stroke-width="5.4"/>
<text x="1592" y="1825.8" font-size="28" text-anchor="middle" fill="#000">Unsaturated</text>
<g fill="none" stroke="#231f20" stroke-width="3.4">
<circle cx="1095.2" cy="1410.4" r="11.8"/>
<path d="M1095.2 1422.2 V1444.8 M1082.75 1433 H1107.65"/>
</g>
<g fill="#646464">
<path d="M1138.8 1395.8 L1148.7 1413.8 L1128.9 1413.8Z"/>
</g>
<g fill="#4466ff">
<path d="M1138.8 1430.3 L1148.7 1448.3 L1128.9 1448.3Z"/>
</g>
<text x="1152.2" y="1416.6" font-size="28" text-anchor="start" fill="#000">Nx</text>
<text x="1152.2" y="1448.7" font-size="28" text-anchor="start" fill="#000">IHx</text>
<rect x="1920" y="1391.8" width="19.8" height="19.8" fill="#e6e7e8" stroke="#231f20" stroke-width="3.6"/>
<rect x="1920" y="1424.7" width="19.8" height="19.8" fill="#7c91fc" stroke="#231f20" stroke-width="3.6"/>
<text x="1944.3" y="1412.9" font-size="28" text-anchor="start" fill="#000">Nx</text>
<text x="1944.3" y="1444.8" font-size="28" text-anchor="start" fill="#000">IHx</text>
<rect x="262.65" y="2071.75" width="33.7" height="155.05" fill="#e8e8e8" stroke="#000" stroke-width="3.1"/>
<rect x="302.15" y="2118.15" width="32.9" height="108.65" fill="#c7d0fd" stroke="#000" stroke-width="3.1"/>
<rect x="361.85" y="2064.95" width="33.6" height="161.85" fill="#e8e8e8" stroke="#000" stroke-width="3.1"/>
<rect x="401.25" y="2121.25" width="33" height="105.55" fill="#c7d0fd" stroke="#000" stroke-width="3.1"/>
<rect x="559.85" y="1971.65" width="34.3" height="255.15" fill="#e8e8e8" stroke="#000" stroke-width="3.1"/>
<rect x="598.85" y="1962.05" width="34.4" height="264.75" fill="#c7d0fd" stroke="#000" stroke-width="3.1"/>
<rect x="659.15" y="1993.65" width="34" height="233.15" fill="#e8e8e8" stroke="#000" stroke-width="3.1"/>
<rect x="697.95" y="1993.85" width="34.1" height="232.95" fill="#c7d0fd" stroke="#000" stroke-width="3.1"/>
<line x1="279.3" y1="2064.4" x2="279.3" y2="2075.3" stroke="#000" stroke-width="2.9"/>
<line x1="274.7" y1="2064.4" x2="283.9" y2="2064.4" stroke="#000" stroke-width="2.9"/>
<line x1="274.7" y1="2075.3" x2="283.9" y2="2075.3" stroke="#000" stroke-width="2.9"/>
<line x1="318.2" y1="2108.5" x2="318.2" y2="2125.3" stroke="#000" stroke-width="2.9"/>
<line x1="313.6" y1="2108.5" x2="322.8" y2="2108.5" stroke="#000" stroke-width="2.9"/>
<line x1="313.6" y1="2125.3" x2="322.8" y2="2125.3" stroke="#000" stroke-width="2.9"/>
<line x1="378.4" y1="2055.8" x2="378.4" y2="2070.5" stroke="#000" stroke-width="2.9"/>
<line x1="373.8" y1="2055.8" x2="383" y2="2055.8" stroke="#000" stroke-width="2.9"/>
<line x1="373.8" y1="2070.5" x2="383" y2="2070.5" stroke="#000" stroke-width="2.9"/>
<line x1="417.5" y1="2112.5" x2="417.5" y2="2127.2" stroke="#000" stroke-width="2.9"/>
<line x1="412.9" y1="2112.5" x2="422.1" y2="2112.5" stroke="#000" stroke-width="2.9"/>
<line x1="412.9" y1="2127.2" x2="422.1" y2="2127.2" stroke="#000" stroke-width="2.9"/>
<line x1="576.8" y1="1968.7" x2="576.8" y2="1971.5" stroke="#000" stroke-width="2.9"/>
<line x1="572.2" y1="1968.7" x2="581.4" y2="1968.7" stroke="#000" stroke-width="2.9"/>
<line x1="572.2" y1="1971.5" x2="581.4" y2="1971.5" stroke="#000" stroke-width="2.9"/>
<line x1="615.6" y1="1957.6" x2="615.6" y2="1963.4" stroke="#000" stroke-width="2.9"/>
<line x1="611" y1="1957.6" x2="620.2" y2="1957.6" stroke="#000" stroke-width="2.9"/>
<line x1="611" y1="1963.4" x2="620.2" y2="1963.4" stroke="#000" stroke-width="2.9"/>
<line x1="676.3" y1="1992.3" x2="676.3" y2="1994" stroke="#000" stroke-width="2.9"/>
<line x1="671.7" y1="1992.3" x2="680.9" y2="1992.3" stroke="#000" stroke-width="2.9"/>
<line x1="671.7" y1="1994" x2="680.9" y2="1994" stroke="#000" stroke-width="2.9"/>
<line x1="715" y1="1992.5" x2="715" y2="1994.2" stroke="#000" stroke-width="2.9"/>
<line x1="710.4" y1="1992.5" x2="719.6" y2="1992.5" stroke="#000" stroke-width="2.9"/>
<line x1="710.4" y1="1994.2" x2="719.6" y2="1994.2" stroke="#000" stroke-width="2.9"/>
<rect x="555" y="2000.9" width="182" height="31.3" fill="#fff"/>
<line x1="226" y1="2226.8" x2="769.4" y2="2226.8" stroke="#000" stroke-width="5.6"/>
<line x1="270" y1="2129.9" x2="288.4" y2="2129.9" stroke="#000" stroke-width="3"/>
<line x1="279.2" y1="2121.1" x2="279.2" y2="2138.7" stroke="#000" stroke-width="3"/>
<line x1="274.8" y1="2121.1" x2="283.6" y2="2121.1" stroke="#000" stroke-width="3"/>
<line x1="274.8" y1="2138.7" x2="283.6" y2="2138.7" stroke="#000" stroke-width="3"/>
<line x1="308.8" y1="2149.7" x2="327.2" y2="2149.7" stroke="#000" stroke-width="3"/>
<line x1="318" y1="2143.8" x2="318" y2="2155.6" stroke="#000" stroke-width="3"/>
<line x1="313.6" y1="2143.8" x2="322.4" y2="2143.8" stroke="#000" stroke-width="3"/>
<line x1="313.6" y1="2155.6" x2="322.4" y2="2155.6" stroke="#000" stroke-width="3"/>
<line x1="369.1" y1="2125.6" x2="387.5" y2="2125.6" stroke="#000" stroke-width="3"/>
<line x1="378.3" y1="2114.9" x2="378.3" y2="2136.3" stroke="#000" stroke-width="3"/>
<line x1="373.9" y1="2114.9" x2="382.7" y2="2114.9" stroke="#000" stroke-width="3"/>
<line x1="373.9" y1="2136.3" x2="382.7" y2="2136.3" stroke="#000" stroke-width="3"/>
<line x1="408.6" y1="2151.3" x2="427" y2="2151.3" stroke="#000" stroke-width="3"/>
<line x1="417.8" y1="2146" x2="417.8" y2="2156.6" stroke="#000" stroke-width="3"/>
<line x1="413.4" y1="2146" x2="422.2" y2="2146" stroke="#000" stroke-width="3"/>
<line x1="413.4" y1="2156.6" x2="422.2" y2="2156.6" stroke="#000" stroke-width="3"/>
<line x1="607.3" y1="1985.3" x2="625.7" y2="1985.3" stroke="#000" stroke-width="3"/>
<line x1="616.5" y1="1982.3" x2="616.5" y2="1988.3" stroke="#000" stroke-width="3"/>
<line x1="612.1" y1="1982.3" x2="620.9" y2="1982.3" stroke="#000" stroke-width="3"/>
<line x1="612.1" y1="1988.3" x2="620.9" y2="1988.3" stroke="#000" stroke-width="3"/>
<g fill="#646464">
<circle cx="279.2" cy="2100.1" r="6.1"/>
<circle cx="281.4" cy="2114.8" r="6.1"/>
<circle cx="276.9" cy="2118.2" r="6.1"/>
<circle cx="274.6" cy="2150.8" r="6.1"/>
<circle cx="283.7" cy="2149" r="6.1"/>
<circle cx="279.2" cy="2143" r="6.1"/>
</g>
<g fill="#4466ff">
<circle cx="316.3" cy="2134.6" r="6.1"/>
<circle cx="320.8" cy="2133.9" r="6.1"/>
<circle cx="313" cy="2147.5" r="6.1"/>
<circle cx="319.7" cy="2154.2" r="6.1"/>
<circle cx="323.1" cy="2159.9" r="6.1"/>
<circle cx="315.2" cy="2167.7" r="6.1"/>
</g>
<g fill="#646464">
<circle cx="379" cy="2088.2" r="6.1"/>
<circle cx="380.6" cy="2109.2" r="6.1"/>
<circle cx="376.7" cy="2113.7" r="6.1"/>
<circle cx="373.8" cy="2150.8" r="6.1"/>
<circle cx="382.8" cy="2147.5" r="6.1"/>
<circle cx="378.3" cy="2146.3" r="6.1"/>
</g>
<g fill="#4466ff">
<circle cx="416.6" cy="2135.5" r="6.1"/>
<circle cx="421.1" cy="2135.5" r="6.1"/>
<circle cx="413.2" cy="2154.2" r="6.1"/>
<circle cx="418.9" cy="2152" r="6.1"/>
<circle cx="422.7" cy="2162.1" r="6.1"/>
<circle cx="414.4" cy="2166.6" r="6.1"/>
</g>
<g fill="#646464">
<circle cx="473" cy="2227" r="6.1"/>
<circle cx="476" cy="2226.6" r="6.1"/>
<circle cx="479" cy="2227" r="6.1"/>
<circle cx="482" cy="2226.8" r="6.1"/>
<circle cx="484" cy="2227" r="6.1"/>
</g>
<g fill="#4466ff">
<circle cx="511" cy="2227" r="6.1"/>
<circle cx="514" cy="2226.6" r="6.1"/>
<circle cx="517" cy="2227" r="6.1"/>
<circle cx="520" cy="2226.8" r="6.1"/>
<circle cx="522" cy="2227" r="6.1"/>
</g>
<g fill="#646464">
<circle cx="579.4" cy="1985.6" r="6.1"/>
<circle cx="571.9" cy="1989.9" r="6.1"/>
<circle cx="577.3" cy="1992.1" r="6.1"/>
<circle cx="582.1" cy="1994.7" r="6.1"/>
<circle cx="574.1" cy="1995.8" r="6.1"/>
<circle cx="581" cy="1991" r="6.1"/>
</g>
<g fill="#4466ff">
<circle cx="618.5" cy="1973.9" r="6.1"/>
<circle cx="613.7" cy="1980.8" r="6.1"/>
<circle cx="611" cy="1984.6" r="6.1"/>
<circle cx="615.3" cy="1988.8" r="6.1"/>
<circle cx="620.6" cy="1993.1" r="6.1"/>
<circle cx="612.6" cy="1993.7" r="6.1"/>
</g>
<g fill="#646464">
<circle cx="679" cy="1988.8" r="6.1"/>
<circle cx="673.1" cy="1993.7" r="6.1"/>
<circle cx="677.4" cy="1995.3" r="6.1"/>
<circle cx="681.1" cy="1997.4" r="6.1"/>
<circle cx="673.6" cy="1999.5" r="6.1"/>
<circle cx="671" cy="1995.8" r="6.1"/>
</g>
<g fill="#4466ff">
<circle cx="718.1" cy="1981.1" r="6.1"/>
<circle cx="712.7" cy="1988.8" r="6.1"/>
<circle cx="710" cy="1991" r="6.1"/>
<circle cx="717" cy="1994.2" r="6.1"/>
<circle cx="720.2" cy="1997.4" r="6.1"/>
<circle cx="711.6" cy="1998.5" r="6.1"/>
</g>
<line x1="242.5" y1="1949.2" x2="242.5" y2="2000" stroke="#000" stroke-width="5.6"/>
<line x1="242.5" y1="2033.7" x2="242.5" y2="2229.6" stroke="#000" stroke-width="5.6"/>
<line x1="228.5" y1="2000" x2="257.1" y2="2000" stroke="#000" stroke-width="5.6"/>
<line x1="228.5" y1="2033.7" x2="257.1" y2="2033.7" stroke="#000" stroke-width="5.6"/>
<line x1="226" y1="1952" x2="245.3" y2="1952" stroke="#000" stroke-width="5.5"/>
<line x1="226" y1="1971.7" x2="242.5" y2="1971.7" stroke="#000" stroke-width="5.5"/>
<line x1="226" y1="2130" x2="242.5" y2="2130" stroke="#000" stroke-width="5.5"/>
<text x="219.2" y="1957.9" font-size="28" text-anchor="end" font-weight="bold" fill="#000">1.5</text>
<text x="219.2" y="1985.8" font-size="28" text-anchor="end" font-weight="bold" fill="#000">1.0</text>
<text x="219.2" y="2039.1" font-size="28" text-anchor="end" font-weight="bold" fill="#000">0.2</text>
<text x="217.2" y="2140.8" font-size="28" text-anchor="end" font-weight="bold" fill="#000">0.1</text>
<text x="219.2" y="2236.4" font-size="28" text-anchor="end" font-weight="bold" fill="#000">0</text>
<line x1="297.9" y1="2226.8" x2="297.9" y2="2243.3" stroke="#000" stroke-width="5.6"/>
<line x1="397.5" y1="2226.8" x2="397.5" y2="2243.3" stroke="#000" stroke-width="5.6"/>
<line x1="496.6" y1="2226.8" x2="496.6" y2="2243.3" stroke="#000" stroke-width="5.6"/>
<line x1="595.9" y1="2226.8" x2="595.9" y2="2243.3" stroke="#000" stroke-width="5.6"/>
<line x1="694.9" y1="2226.8" x2="694.9" y2="2243.3" stroke="#000" stroke-width="5.6"/>
<line x1="752.4" y1="1949.6" x2="752.4" y2="2000.2" stroke="#000" stroke-width="5.6"/>
<line x1="752.4" y1="2032.4" x2="752.4" y2="2229.6" stroke="#000" stroke-width="5.6"/>
<line x1="737.4" y1="2000.2" x2="766.8" y2="2000.2" stroke="#000" stroke-width="5.6"/>
<line x1="737.4" y1="2032.4" x2="766.8" y2="2032.4" stroke="#000" stroke-width="5.6"/>
<line x1="749.6" y1="1951.4" x2="769" y2="1951.4" stroke="#000" stroke-width="5.5"/>
<line x1="752.4" y1="2097.3" x2="769" y2="2097.3" stroke="#000" stroke-width="5.5"/>
<text x="781.9" y="1958.8" font-size="28" text-anchor="start" fill="#808080">15</text>
<text x="778.4" y="2009.7" font-size="28" text-anchor="start" fill="#808080">10</text>
<text x="780.4" y="2103.9" font-size="28" text-anchor="start" fill="#808080">2</text>
<text x="780.6" y="2234.4" font-size="28" text-anchor="start" fill="#808080">0</text>
<text x="0" y="0" font-size="28" text-anchor="middle" fill="#808080" transform="translate(845.2 2080) rotate(90)">% ≥20 Carbon FA</text>
<text x="0" y="0" font-size="28" text-anchor="middle" fill="#808080" transform="translate(812.2 2083.5) rotate(90)">of total FA</text>
<text x="0" y="0" font-size="28" text-anchor="middle" font-weight="bold" fill="#000" transform="translate(133.5 2093) rotate(-90)">≥ 20 Carbon FA/</text>
<text x="0" y="0" font-size="28" text-anchor="middle" font-weight="bold" fill="#000" transform="translate(166.1 2093) rotate(-90)">total lipid (ug)</text>
<path d="M278.5 2052.8 V2033.2 H317.5 V2098.6" fill="none" stroke="#808080" stroke-width="3.4" stroke-linejoin="round"/>
<text x="298.3" y="2040.5" font-size="44.5" text-anchor="middle" fill="#808080" stroke="#808080" stroke-width="0.7">*</text>
<path d="M377.6 2046 V2026.5 H417.7 V2098.6" fill="none" stroke="#808080" stroke-width="3.4" stroke-linejoin="round"/>
<text x="399.3" y="2032.9" font-size="44.5" text-anchor="middle" fill="#808080" stroke="#808080" stroke-width="0.7">*</text>
<path d="M576.4 1955.7 V1928 H615.8 V1941.5" fill="none" stroke="#808080" stroke-width="3.4" stroke-linejoin="round"/>
<text x="596.3" y="1934.8" font-size="44.5" text-anchor="middle" fill="#808080" stroke="#808080" stroke-width="0.7">*</text>
<text x="298.9" y="2274.5" font-size="28" text-anchor="middle" fill="#000">Sat.</text>
<text x="397.8" y="2274.5" font-size="28" text-anchor="middle" fill="#000">ω9</text>
<text x="497" y="2274.5" font-size="28" text-anchor="middle" fill="#000">ω5-7</text>
<text x="596.7" y="2274.5" font-size="28" text-anchor="middle" fill="#000">ω6</text>
<text x="696" y="2274.5" font-size="28" text-anchor="middle" fill="#000">ω3</text>
<line x1="364.6" y1="2292" x2="732.4" y2="2292" stroke="#000" stroke-width="5.4"/>
<text x="539.4" y="2331.2" font-size="28" text-anchor="middle" fill="#000">Unsaturated</text>
<g fill="none" stroke="#231f20" stroke-width="3.5">
<circle cx="50.4" cy="1923.3" r="11.9"/>
<path d="M55.2 1912.41 L63.89 1892.73"/>
<path d="M67.77 1909.28 L63.89 1892.73 L49.05 1901.02" stroke-linejoin="miter" stroke-miterlimit="10"/>
</g>
<g fill="#5c5d5f">
<circle cx="92.9" cy="1908.2" r="7.9"/>
</g>
<g fill="#4466ff">
<circle cx="92.9" cy="1940" r="7.9"/>
</g>
<text x="106.8" y="1917" font-size="28" text-anchor="start" fill="#000">Nx</text>
<text x="106.8" y="1949.3" font-size="28" text-anchor="start" fill="#000">IHx</text>
<rect x="886.6" y="1900.3" width="19.8" height="19.8" fill="#e6e7e8" stroke="#231f20" stroke-width="3.2"/>
<rect x="886.6" y="1932.9" width="19.8" height="19.8" fill="#7c91fc" stroke="#231f20" stroke-width="3.2"/>
<text x="910.6" y="1917.9" font-size="28" text-anchor="start" fill="#000">Nx</text>
<text x="910.6" y="1949.8" font-size="28" text-anchor="start" fill="#000">IHx</text>
<rect x="1304.65" y="2077.55" width="33.8" height="149.25" fill="#e8e8e8" stroke="#000" stroke-width="3.1"/>
<rect x="1343.65" y="2104.85" width="33.6" height="121.95" fill="#c7d0fd" stroke="#000" stroke-width="3.1"/>
<rect x="1403.95" y="2058.85" width="33.8" height="167.95" fill="#e8e8e8" stroke="#000" stroke-width="3.1"/>
<rect x="1442.75" y="2096.05" width="33.7" height="130.75" fill="#c7d0fd" stroke="#000" stroke-width="3.1"/>
<rect x="1602.45" y="1964.95" width="33.8" height="261.85" fill="#e8e8e8" stroke="#000" stroke-width="3.1"/>
<rect x="1641.15" y="1961.45" width="34.2" height="265.35" fill="#c7d0fd" stroke="#000" stroke-width="3.1"/>
<rect x="1701.45" y="1991.75" width="34" height="235.05" fill="#e8e8e8" stroke="#000" stroke-width="3.1"/>
<rect x="1740.55" y="1993.05" width="33.8" height="233.75" fill="#c7d0fd" stroke="#000" stroke-width="3.1"/>
<line x1="1321.3" y1="2070.9" x2="1321.3" y2="2084.1" stroke="#000" stroke-width="2.9"/>
<line x1="1316.7" y1="2070.9" x2="1325.9" y2="2070.9" stroke="#000" stroke-width="2.9"/>
<line x1="1316.7" y1="2084.1" x2="1325.9" y2="2084.1" stroke="#000" stroke-width="2.9"/>
<line x1="1360.3" y1="2096.4" x2="1360.3" y2="2111" stroke="#000" stroke-width="2.9"/>
<line x1="1355.7" y1="2096.4" x2="1364.9" y2="2096.4" stroke="#000" stroke-width="2.9"/>
<line x1="1355.7" y1="2111" x2="1364.9" y2="2111" stroke="#000" stroke-width="2.9"/>
<line x1="1420.6" y1="2046.9" x2="1420.6" y2="2067.7" stroke="#000" stroke-width="2.9"/>
<line x1="1416" y1="2046.9" x2="1425.2" y2="2046.9" stroke="#000" stroke-width="2.9"/>
<line x1="1416" y1="2067.7" x2="1425.2" y2="2067.7" stroke="#000" stroke-width="2.9"/>
<line x1="1459.4" y1="2079.5" x2="1459.4" y2="2109.7" stroke="#000" stroke-width="2.9"/>
<line x1="1454.8" y1="2079.5" x2="1464" y2="2079.5" stroke="#000" stroke-width="2.9"/>
<line x1="1454.8" y1="2109.7" x2="1464" y2="2109.7" stroke="#000" stroke-width="2.9"/>
<line x1="1619.1" y1="1960.5" x2="1619.1" y2="1965.3" stroke="#000" stroke-width="2.9"/>
<line x1="1614.5" y1="1960.5" x2="1623.7" y2="1960.5" stroke="#000" stroke-width="2.9"/>
<line x1="1614.5" y1="1965.3" x2="1623.7" y2="1965.3" stroke="#000" stroke-width="2.9"/>
<line x1="1657.8" y1="1953.9" x2="1657.8" y2="1965.5" stroke="#000" stroke-width="2.9"/>
<line x1="1653.2" y1="1953.9" x2="1662.4" y2="1953.9" stroke="#000" stroke-width="2.9"/>
<line x1="1653.2" y1="1965.5" x2="1662.4" y2="1965.5" stroke="#000" stroke-width="2.9"/>
<line x1="1718.3" y1="1990.5" x2="1718.3" y2="1992.5" stroke="#000" stroke-width="2.9"/>
<line x1="1713.7" y1="1990.5" x2="1722.9" y2="1990.5" stroke="#000" stroke-width="2.9"/>
<line x1="1713.7" y1="1992.5" x2="1722.9" y2="1992.5" stroke="#000" stroke-width="2.9"/>
<line x1="1757.4" y1="1991.7" x2="1757.4" y2="1993.7" stroke="#000" stroke-width="2.9"/>
<line x1="1752.8" y1="1991.7" x2="1762" y2="1991.7" stroke="#000" stroke-width="2.9"/>
<line x1="1752.8" y1="1993.7" x2="1762" y2="1993.7" stroke="#000" stroke-width="2.9"/>
<rect x="1598" y="2000.9" width="181" height="31.3" fill="#fff"/>
<line x1="1268.7" y1="2226.8" x2="1811" y2="2226.8" stroke="#000" stroke-width="5.6"/>
<line x1="1312.2" y1="2118.1" x2="1330.6" y2="2118.1" stroke="#000" stroke-width="3"/>
<line x1="1321.4" y1="2106" x2="1321.4" y2="2130.2" stroke="#000" stroke-width="3"/>
<line x1="1317" y1="2106" x2="1325.8" y2="2106" stroke="#000" stroke-width="3"/>
<line x1="1317" y1="2130.2" x2="1325.8" y2="2130.2" stroke="#000" stroke-width="3"/>
<line x1="1351.2" y1="2135.8" x2="1369.6" y2="2135.8" stroke="#000" stroke-width="3"/>
<line x1="1360.4" y1="2124.2" x2="1360.4" y2="2147.4" stroke="#000" stroke-width="3"/>
<line x1="1356" y1="2124.2" x2="1364.8" y2="2124.2" stroke="#000" stroke-width="3"/>
<line x1="1356" y1="2147.4" x2="1364.8" y2="2147.4" stroke="#000" stroke-width="3"/>
<line x1="1411.4" y1="2105.5" x2="1429.8" y2="2105.5" stroke="#000" stroke-width="3"/>
<line x1="1420.6" y1="2094" x2="1420.6" y2="2117" stroke="#000" stroke-width="3"/>
<line x1="1416.2" y1="2094" x2="1425" y2="2094" stroke="#000" stroke-width="3"/>
<line x1="1416.2" y1="2117" x2="1425" y2="2117" stroke="#000" stroke-width="3"/>
<line x1="1450.4" y1="2127.6" x2="1468.8" y2="2127.6" stroke="#000" stroke-width="3"/>
<line x1="1459.6" y1="2109.7" x2="1459.6" y2="2145.5" stroke="#000" stroke-width="3"/>
<line x1="1455.2" y1="2109.7" x2="1464" y2="2109.7" stroke="#000" stroke-width="3"/>
<line x1="1455.2" y1="2145.5" x2="1464" y2="2145.5" stroke="#000" stroke-width="3"/>
<g fill="#646464">
<path d="M1321.3 2058.4 L1327.6 2070.6 L1315 2070.6Z"/>
<path d="M1323.7 2101 L1330 2113.2 L1317.4 2113.2Z"/>
<path d="M1318.6 2119.7 L1324.9 2131.9 L1312.3 2131.9Z"/>
<path d="M1326 2129.6 L1332.3 2141.8 L1319.7 2141.8Z"/>
<path d="M1316.7 2136 L1323 2148.2 L1310.4 2148.2Z"/>
<path d="M1322.1 2126.3 L1328.4 2138.5 L1315.8 2138.5Z"/>
</g>
<g fill="#4466ff">
<path d="M1358.5 2095.3 L1364.8 2107.5 L1352.2 2107.5Z"/>
<path d="M1361.7 2100.7 L1368 2112.9 L1355.4 2112.9Z"/>
<path d="M1362.2 2130.1 L1368.5 2142.3 L1355.9 2142.3Z"/>
<path d="M1355.3 2135.4 L1361.6 2147.6 L1349 2147.6Z"/>
<path d="M1358.2 2145.6 L1364.5 2157.8 L1351.9 2157.8Z"/>
<path d="M1364.9 2172.9 L1371.2 2185.1 L1358.6 2185.1Z"/>
</g>
<g fill="#646464">
<path d="M1420.8 2049.1 L1427.1 2061.3 L1414.5 2061.3Z"/>
<path d="M1422.7 2091.9 L1429 2104.1 L1416.4 2104.1Z"/>
<path d="M1417.4 2092.4 L1423.7 2104.6 L1411.1 2104.6Z"/>
<path d="M1420 2114.6 L1426.3 2126.8 L1413.7 2126.8Z"/>
<path d="M1425.4 2118.3 L1431.7 2130.5 L1419.1 2130.5Z"/>
<path d="M1415.8 2130.6 L1422.1 2142.8 L1409.5 2142.8Z"/>
</g>
<g fill="#4466ff">
<path d="M1459.4 2048 L1465.7 2060.2 L1453.1 2060.2Z"/>
<path d="M1461.8 2097.4 L1468.1 2109.6 L1455.5 2109.6Z"/>
<path d="M1457 2125.8 L1463.3 2138 L1450.7 2138Z"/>
<path d="M1459.6 2136 L1465.9 2148.2 L1453.3 2148.2Z"/>
<path d="M1454.5 2145.6 L1460.8 2157.8 L1448.2 2157.8Z"/>
<path d="M1463.9 2176.9 L1470.2 2189.1 L1457.6 2189.1Z"/>
</g>
<g fill="#646464">
<path d="M1514.5 2218.9 L1520.8 2231.1 L1508.2 2231.1Z"/>
<path d="M1517.5 2218.5 L1523.8 2230.7 L1511.2 2230.7Z"/>
<path d="M1520.5 2218.9 L1526.8 2231.1 L1514.2 2231.1Z"/>
<path d="M1523.5 2218.7 L1529.8 2230.9 L1517.2 2230.9Z"/>
<path d="M1525.5 2218.9 L1531.8 2231.1 L1519.2 2231.1Z"/>
</g>
<g fill="#4466ff">
<path d="M1553.4 2218.9 L1559.7 2231.1 L1547.1 2231.1Z"/>
<path d="M1556.4 2218.5 L1562.7 2230.7 L1550.1 2230.7Z"/>
<path d="M1559.4 2218.9 L1565.7 2231.1 L1553.1 2231.1Z"/>
<path d="M1562.4 2218.7 L1568.7 2230.9 L1556.1 2230.9Z"/>
<path d="M1564.4 2218.9 L1570.7 2231.1 L1558.1 2231.1Z"/>
</g>
<g fill="#646464">
<path d="M1621.8 1969 L1628.1 1981.2 L1615.5 1981.2Z"/>
<path d="M1614.3 1977.1 L1620.6 1989.3 L1608 1989.3Z"/>
<path d="M1623.7 1978.5 L1630 1990.7 L1617.4 1990.7Z"/>
<path d="M1615.9 1982.4 L1622.2 1994.6 L1609.6 1994.6Z"/>
<path d="M1618.5 1974.9 L1624.8 1987.1 L1612.2 1987.1Z"/>
<path d="M1620 1979.9 L1626.3 1992.1 L1613.7 1992.1Z"/>
</g>
<g fill="#4466ff">
<path d="M1660.3 1969.4 L1666.6 1981.6 L1654 1981.6Z"/>
<path d="M1653.3 1972.8 L1659.6 1985 L1647 1985Z"/>
<path d="M1656.9 1972 L1663.2 1984.2 L1650.6 1984.2Z"/>
<path d="M1662.4 1980.3 L1668.7 1992.5 L1656.1 1992.5Z"/>
<path d="M1654.9 1986.7 L1661.2 1998.9 L1648.6 1998.9Z"/>
<path d="M1658.5 1976.4 L1664.8 1988.6 L1652.2 1988.6Z"/>
</g>
<g fill="#646464">
<path d="M1721.3 1976 L1727.6 1988.2 L1715 1988.2Z"/>
<path d="M1713.3 1981.9 L1719.6 1994.1 L1707 1994.1Z"/>
<path d="M1722.9 1983.5 L1729.2 1995.7 L1716.6 1995.7Z"/>
<path d="M1715.4 1986.2 L1721.7 1998.4 L1709.1 1998.4Z"/>
<path d="M1718.3 1980.6 L1724.6 1992.8 L1712 1992.8Z"/>
<path d="M1717.4 1984.4 L1723.7 1996.6 L1711.1 1996.6Z"/>
</g>
<g fill="#4466ff">
<path d="M1759.8 1974.9 L1766.1 1987.1 L1753.5 1987.1Z"/>
<path d="M1752.4 1978.1 L1758.7 1990.3 L1746.1 1990.3Z"/>
<path d="M1755.6 1977.6 L1761.9 1989.8 L1749.3 1989.8Z"/>
<path d="M1761.5 1986.7 L1767.8 1998.9 L1755.2 1998.9Z"/>
<path d="M1754.3 1991.5 L1760.6 2003.7 L1748 2003.7Z"/>
<path d="M1757.7 1981.4 L1764 1993.6 L1751.4 1993.6Z"/>
</g>
<line x1="1285.2" y1="1949.2" x2="1285.2" y2="2000" stroke="#000" stroke-width="5.6"/>
<line x1="1285.2" y1="2033.7" x2="1285.2" y2="2229.6" stroke="#000" stroke-width="5.6"/>
<line x1="1271.2" y1="2000" x2="1299.8" y2="2000" stroke="#000" stroke-width="5.6"/>
<line x1="1271.2" y1="2033.7" x2="1299.8" y2="2033.7" stroke="#000" stroke-width="5.6"/>
<line x1="1268.7" y1="1952" x2="1288" y2="1952" stroke="#000" stroke-width="5.5"/>
<line x1="1268.7" y1="1971.7" x2="1285.2" y2="1971.7" stroke="#000" stroke-width="5.5"/>
<line x1="1268.7" y1="2130" x2="1285.2" y2="2130" stroke="#000" stroke-width="5.5"/>
<text x="1261.9" y="1957.9" font-size="28" text-anchor="end" font-weight="bold" fill="#000">1.5</text>
<text x="1261.9" y="1985.8" font-size="28" text-anchor="end" font-weight="bold" fill="#000">1.0</text>
<text x="1261.9" y="2039.1" font-size="28" text-anchor="end" font-weight="bold" fill="#000">0.2</text>
<text x="1259.9" y="2140.8" font-size="28" text-anchor="end" font-weight="bold" fill="#000">0.1</text>
<text x="1261.9" y="2236.4" font-size="28" text-anchor="end" font-weight="bold" fill="#000">0</text>
<line x1="1340" y1="2226.8" x2="1340" y2="2243.3" stroke="#000" stroke-width="5.6"/>
<line x1="1439.4" y1="2226.8" x2="1439.4" y2="2243.3" stroke="#000" stroke-width="5.6"/>
<line x1="1538.5" y1="2226.8" x2="1538.5" y2="2243.3" stroke="#000" stroke-width="5.6"/>
<line x1="1637.9" y1="2226.8" x2="1637.9" y2="2243.3" stroke="#000" stroke-width="5.6"/>
<line x1="1737.2" y1="2226.8" x2="1737.2" y2="2243.3" stroke="#000" stroke-width="5.6"/>
<line x1="1794" y1="1949.6" x2="1794" y2="2000.2" stroke="#000" stroke-width="5.6"/>
<line x1="1794" y1="2032.4" x2="1794" y2="2229.6" stroke="#000" stroke-width="5.6"/>
<line x1="1779" y1="2000.2" x2="1808.4" y2="2000.2" stroke="#000" stroke-width="5.6"/>
<line x1="1779" y1="2032.4" x2="1808.4" y2="2032.4" stroke="#000" stroke-width="5.6"/>
<line x1="1791.2" y1="1951.4" x2="1810.6" y2="1951.4" stroke="#000" stroke-width="5.5"/>
<line x1="1794" y1="2097.3" x2="1810.6" y2="2097.3" stroke="#000" stroke-width="5.5"/>
<text x="1823.5" y="1958.8" font-size="28" text-anchor="start" fill="#808080">15</text>
<text x="1820" y="2009.7" font-size="28" text-anchor="start" fill="#808080">10</text>
<text x="1822" y="2103.9" font-size="28" text-anchor="start" fill="#808080">2</text>
<text x="1822.2" y="2234.4" font-size="28" text-anchor="start" fill="#808080">0</text>
<text x="0" y="0" font-size="28" text-anchor="middle" fill="#808080" transform="translate(1890.8 2080) rotate(90)">% ≥20 Carbon FA</text>
<text x="0" y="0" font-size="28" text-anchor="middle" fill="#808080" transform="translate(1857.8 2083.5) rotate(90)">of total FA</text>
<text x="0" y="0" font-size="28" text-anchor="middle" font-weight="bold" fill="#000" transform="translate(1179.2 2093) rotate(-90)">≥ 20 Carbon FA/</text>
<text x="0" y="0" font-size="28" text-anchor="middle" font-weight="bold" fill="#000" transform="translate(1211.8 2093) rotate(-90)">total lipid (ug)</text>
<path d="M1321.4 2050.6 V2031.4 H1360.8 V2073.1" fill="none" stroke="#808080" stroke-width="3.4" stroke-linejoin="round"/>
<text x="1341.2" y="2037.8" font-size="44.5" text-anchor="middle" fill="#808080" stroke="#808080" stroke-width="0.7">*</text>
<path d="M1422.2 2027.8 V2014.7 H1461 V2041.8" fill="none" stroke="#808080" stroke-width="3.4" stroke-linejoin="round"/>
<text x="1442.4" y="2011" font-size="16" text-anchor="middle" fill="#808080">0.09</text>
<text x="1341.8" y="2274.5" font-size="28" text-anchor="middle" fill="#000">Sat.</text>
<text x="1441" y="2274.5" font-size="28" text-anchor="middle" fill="#000">ω9</text>
<text x="1540.2" y="2274.5" font-size="28" text-anchor="middle" fill="#000">ω5-7</text>
<text x="1639.8" y="2274.5" font-size="28" text-anchor="middle" fill="#000">ω6</text>
<text x="1739" y="2274.5" font-size="28" text-anchor="middle" fill="#000">ω3</text>
<line x1="1406.3" y1="2292" x2="1774.8" y2="2292" stroke="#000" stroke-width="5.4"/>
<text x="1581.1" y="2331.2" font-size="28" text-anchor="middle" fill="#000">Unsaturated</text>
<g fill="none" stroke="#231f20" stroke-width="3.4">
<circle cx="1095.2" cy="1911" r="11.8"/>
<path d="M1095.2 1922.8 V1945.4 M1082.75 1933.6 H1107.65"/>
</g>
<g fill="#646464">
<path d="M1138.8 1896.3 L1148.7 1914.3 L1128.9 1914.3Z"/>
</g>
<g fill="#4466ff">
<path d="M1138.8 1930.8 L1148.7 1948.8 L1128.9 1948.8Z"/>
</g>
<text x="1152.2" y="1917" font-size="28" text-anchor="start" fill="#000">Nx</text>
<text x="1152.2" y="1949.3" font-size="28" text-anchor="start" fill="#000">IHx</text>
<rect x="1931.6" y="1900.3" width="19.8" height="19.8" fill="#e6e7e8" stroke="#231f20" stroke-width="3.2"/>
<rect x="1931.6" y="1932.9" width="19.8" height="19.8" fill="#7c91fc" stroke="#231f20" stroke-width="3.2"/>
<text x="1955.6" y="1917.9" font-size="28" text-anchor="start" fill="#000">Nx</text>
<text x="1955.6" y="1949.8" font-size="28" text-anchor="start" fill="#000">IHx</text>
</svg></body></html>
